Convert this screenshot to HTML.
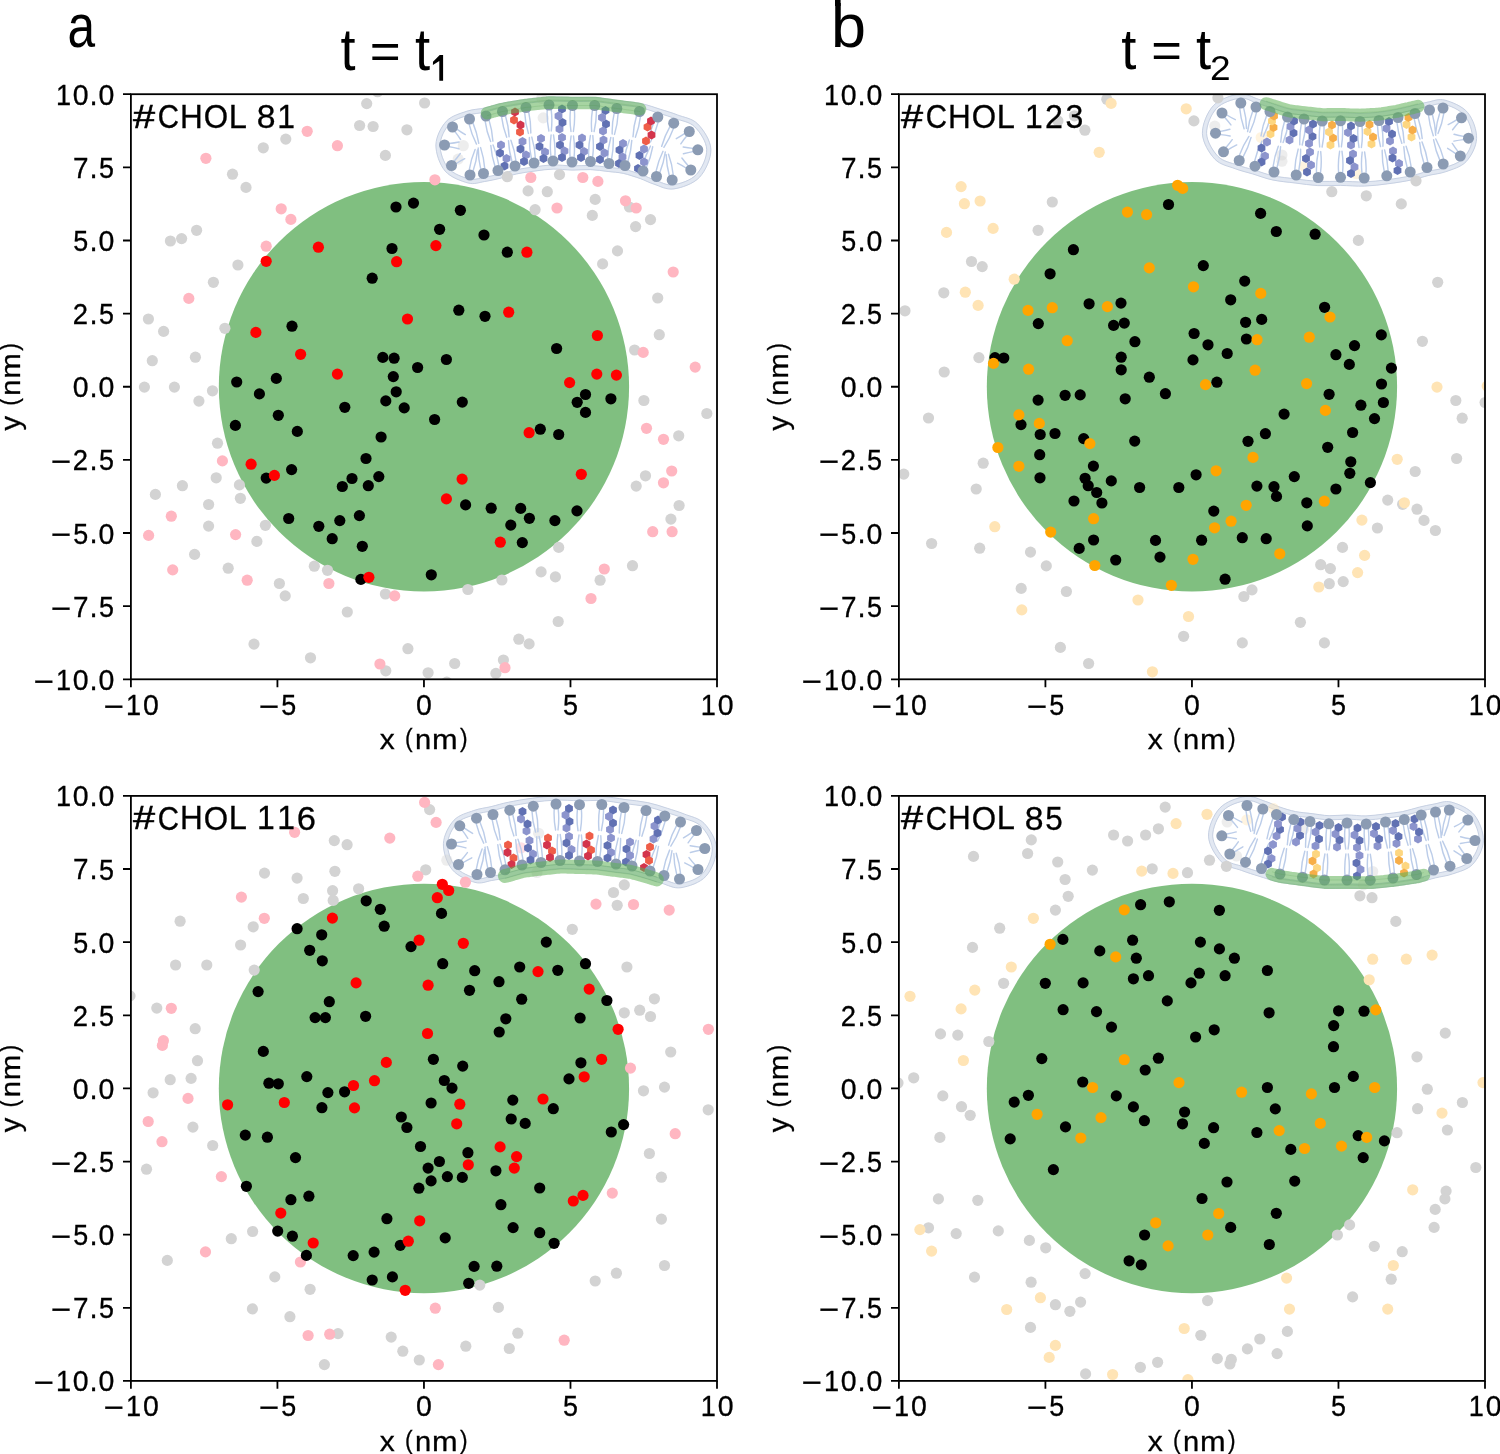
<!DOCTYPE html>
<html><head><meta charset="utf-8"><title>Figure</title>
<style>html,body{margin:0;padding:0;background:#fff;overflow:hidden;}svg{display:block;will-change:transform;}text{font-family:"Liberation Sans",sans-serif;}</style>
</head><body>
<svg width="1500" height="1454" viewBox="0 0 1500 1454">
<rect width="1500" height="1454" fill="#fff"/>
<text transform="matrix(0.49643 0 0 0.61513 67.49 47.20)" font-size="100" fill="#000">a</text><text transform="matrix(0.62930 0 0 0.61004 830.94 47.20)" font-size="100" fill="#000">b</text><rect x="835.0" y="-2" width="5.6" height="8" fill="#000"/><text transform="matrix(0.54039 0 0 0.58383 340.48 69.84)" font-size="100" fill="#000">t</text><text transform="matrix(0.52898 0 0 0.50579 369.72 67.50)" font-size="100" fill="#000">=</text><text transform="matrix(0.54431 0 0 0.58383 414.98 69.84)" font-size="100" fill="#000">t</text><path d="M433.0 61.7 L439.7 55.1 L443.1 55.1 L443.1 80.7 L439.3 80.7 L439.3 60.9 L432.9 64.9 Z" fill="#000"/><text transform="matrix(0.54431 0 0 0.58230 1121.28 69.35)" font-size="100" fill="#000">t</text><text transform="matrix(0.52486 0 0 0.50579 1151.24 66.60)" font-size="100" fill="#000">=</text><text transform="matrix(0.54431 0 0 0.58230 1196.08 69.35)" font-size="100" fill="#000">t</text><text transform="matrix(0.37097 0 0 0.35947 1209.93 79.80)" font-size="100" fill="#000">2</text><clipPath id="clipA"><rect x="130.9" y="94.2" width="586.10" height="585.10"/></clipPath><g clip-path="url(#clipA)"><ellipse cx="423.95" cy="386.75" rx="205.13" ry="204.78" fill="#80bf80"/><path d="M467.6 113.2C473.7 111.1 479.1 111.4 484.7 110.1C490.3 108.9 494.5 107.1 501.3 105.6C508.0 104.2 517.3 102.7 525.2 101.6C533.1 100.5 540.8 99.3 548.7 99.0C556.6 98.7 564.8 99.4 572.6 99.5C580.3 99.6 587.6 99.0 595.1 99.5C602.6 100.0 610.0 101.5 617.6 102.6C625.2 103.6 633.7 104.2 640.7 105.6C647.7 107.1 653.8 109.5 659.7 111.3C665.7 113.2 670.6 114.5 676.6 116.8C682.7 119.2 690.8 119.9 696.2 125.3C701.5 130.7 708.5 140.9 708.8 149.4C709.1 157.8 703.7 169.7 697.9 176.0C692.0 182.2 680.7 185.8 673.5 186.9C666.3 187.9 660.1 183.9 654.7 182.2C649.3 180.5 646.2 178.5 641.0 176.7C635.9 174.9 629.2 172.6 623.7 171.4C618.3 170.2 613.9 170.1 608.3 169.5C602.7 168.8 596.3 167.7 590.3 167.5C584.2 167.3 578.1 168.1 571.9 168.0C565.7 167.9 559.3 166.8 553.2 167.0C547.0 167.2 540.9 168.1 534.8 168.9C528.6 169.8 522.1 170.6 516.2 171.9C510.3 173.1 504.7 175.1 499.4 176.3C494.1 177.6 489.6 178.7 484.5 179.4C479.3 180.2 474.8 182.6 468.5 180.9C462.2 179.3 451.8 175.6 446.7 169.6C441.6 163.6 437.8 152.7 438.0 144.8C438.2 137.0 443.0 127.9 447.9 122.6C452.9 117.3 461.5 115.3 467.6 113.2Z" fill="#fff" fill-opacity="0.9" stroke="#e2e8f2" stroke-width="4.6"/><path d="M468.3 115.2C474.2 113.2 479.6 113.4 485.1 112.2C490.7 110.9 495.0 109.1 501.7 107.7C508.4 106.3 517.6 104.7 525.5 103.6C533.3 102.5 541.0 101.4 548.8 101.1C556.7 100.8 564.9 101.5 572.5 101.6C580.2 101.7 587.5 101.1 595.0 101.6C602.4 102.1 609.8 103.6 617.3 104.6C624.9 105.6 633.3 106.2 640.3 107.7C647.2 109.1 653.2 111.5 659.1 113.3C665.0 115.2 669.8 116.5 675.7 118.7C681.7 121.0 689.4 121.6 694.6 126.7C699.8 131.8 706.4 141.5 706.7 149.5C707.0 157.4 701.9 168.7 696.3 174.6C690.7 180.5 679.9 183.9 673.1 184.8C666.3 185.7 660.6 181.9 655.4 180.2C650.1 178.5 646.9 176.5 641.7 174.7C636.5 172.9 629.7 170.5 624.2 169.3C618.6 168.1 614.2 168.0 608.6 167.4C602.9 166.7 596.4 165.6 590.3 165.4C584.2 165.2 578.2 166.0 571.9 165.9C565.7 165.8 559.3 164.7 553.1 164.9C546.9 165.1 540.7 166.0 534.5 166.9C528.3 167.7 521.7 168.6 515.8 169.8C509.9 171.1 504.2 173.0 498.9 174.3C493.6 175.5 489.1 176.6 484.1 177.4C479.1 178.1 475.0 180.4 469.0 178.9C463.1 177.4 453.1 173.9 448.3 168.2C443.5 162.6 439.9 152.2 440.1 144.9C440.3 137.5 444.8 129.0 449.5 124.1C454.1 119.1 462.3 117.2 468.3 115.2Z" fill="none" stroke="#c3cde0" stroke-width="0.9"/><path d="M466.9 111.2C473.2 109.0 478.6 109.4 484.2 108.1C489.9 106.8 494.0 105.0 500.8 103.6C507.6 102.1 516.9 100.6 524.9 99.5C532.9 98.4 540.7 97.3 548.7 96.9C556.6 96.6 564.8 97.3 572.6 97.4C580.4 97.5 587.7 96.9 595.2 97.4C602.8 97.9 610.2 99.4 617.9 100.5C625.5 101.5 634.1 102.1 641.1 103.6C648.2 105.0 654.4 107.4 660.4 109.3C666.5 111.2 671.3 112.5 677.5 114.9C683.7 117.4 692.1 118.2 697.7 123.9C703.3 129.6 710.6 140.4 710.9 149.3C711.2 158.2 705.6 170.7 699.5 177.3C693.3 183.9 681.5 187.8 673.9 188.9C666.3 190.1 659.7 186.0 654.1 184.2C648.5 182.5 645.5 180.5 640.3 178.6C635.2 176.8 628.6 174.6 623.3 173.4C617.9 172.2 613.6 172.2 608.1 171.5C602.6 170.9 596.2 169.8 590.2 169.6C584.1 169.4 578.1 170.2 571.9 170.1C565.7 170.0 559.4 168.9 553.2 169.1C547.1 169.3 541.2 170.2 535.1 171.0C529.0 171.8 522.5 172.7 516.7 173.9C510.8 175.2 505.2 177.1 499.9 178.4C494.6 179.6 490.1 180.7 484.8 181.5C479.5 182.3 474.6 184.7 468.0 183.0C461.4 181.2 450.4 177.3 445.1 171.0C439.7 164.6 435.7 153.1 435.9 144.8C436.1 136.5 441.3 126.8 446.4 121.2C451.6 115.6 460.6 113.4 466.9 111.2Z" fill="none" stroke="#c3cde0" stroke-width="0.9"/><circle cx="543.2" cy="117.9" r="5.6" fill="#d3d3d3" fill-opacity="0.42"/><circle cx="463.3" cy="145.7" r="5.6" fill="#d3d3d3" fill-opacity="0.42"/><circle cx="458.2" cy="159.1" r="5.6" fill="#d3d3d3" fill-opacity="0.42"/><circle cx="541.7" cy="98.3" r="5.6" fill="#d3d3d3" fill-opacity="0.42"/><circle cx="377.6" cy="91.7" r="5.6" fill="#d3d3d3"/><circle cx="366.7" cy="103.6" r="5.6" fill="#d3d3d3"/><circle cx="424.6" cy="103.0" r="5.6" fill="#d3d3d3"/><circle cx="359.6" cy="125.5" r="5.6" fill="#d3d3d3"/><circle cx="373.1" cy="126.5" r="5.6" fill="#d3d3d3"/><circle cx="406.9" cy="129.8" r="5.6" fill="#d3d3d3"/><circle cx="285.8" cy="139.1" r="5.6" fill="#d3d3d3"/><circle cx="263.3" cy="147.8" r="5.6" fill="#d3d3d3"/><circle cx="385.4" cy="155.4" r="5.6" fill="#d3d3d3"/><circle cx="232.5" cy="174.2" r="5.6" fill="#d3d3d3"/><circle cx="246.0" cy="187.4" r="5.6" fill="#d3d3d3"/><circle cx="196.6" cy="230.3" r="5.6" fill="#d3d3d3"/><circle cx="181.6" cy="238.6" r="5.6" fill="#d3d3d3"/><circle cx="170.4" cy="241.0" r="5.6" fill="#d3d3d3"/><circle cx="237.9" cy="265.0" r="5.6" fill="#d3d3d3"/><circle cx="213.4" cy="282.3" r="5.6" fill="#d3d3d3"/><circle cx="148.4" cy="319.0" r="5.6" fill="#d3d3d3"/><circle cx="163.6" cy="331.4" r="5.6" fill="#d3d3d3"/><circle cx="224.9" cy="328.3" r="5.6" fill="#d3d3d3"/><circle cx="152.3" cy="360.7" r="5.6" fill="#d3d3d3"/><circle cx="195.4" cy="357.2" r="5.6" fill="#d3d3d3"/><circle cx="144.4" cy="387.1" r="5.6" fill="#d3d3d3"/><circle cx="174.4" cy="387.1" r="5.6" fill="#d3d3d3"/><circle cx="507.3" cy="176.7" r="5.6" fill="#d3d3d3"/><circle cx="559.5" cy="174.6" r="5.6" fill="#d3d3d3"/><circle cx="528.1" cy="190.9" r="5.6" fill="#d3d3d3"/><circle cx="547.3" cy="191.7" r="5.6" fill="#d3d3d3"/><circle cx="595.2" cy="199.4" r="5.6" fill="#d3d3d3"/><circle cx="535.1" cy="209.7" r="5.6" fill="#d3d3d3"/><circle cx="592.3" cy="215.4" r="5.6" fill="#d3d3d3"/><circle cx="629.4" cy="207.0" r="5.6" fill="#d3d3d3"/><circle cx="650.5" cy="219.6" r="5.6" fill="#d3d3d3"/><circle cx="635.6" cy="226.6" r="5.6" fill="#d3d3d3"/><circle cx="617.5" cy="250.9" r="5.6" fill="#d3d3d3"/><circle cx="602.6" cy="263.9" r="5.6" fill="#d3d3d3"/><circle cx="657.7" cy="298.0" r="5.6" fill="#d3d3d3"/><circle cx="659.3" cy="334.7" r="5.6" fill="#d3d3d3"/><circle cx="634.6" cy="350.0" r="5.6" fill="#d3d3d3"/><circle cx="212.5" cy="390.8" r="5.6" fill="#d3d3d3"/><circle cx="198.9" cy="401.1" r="5.6" fill="#d3d3d3"/><circle cx="217.5" cy="443.2" r="5.6" fill="#d3d3d3"/><circle cx="216.2" cy="477.8" r="5.6" fill="#d3d3d3"/><circle cx="182.4" cy="485.7" r="5.6" fill="#d3d3d3"/><circle cx="155.4" cy="494.4" r="5.6" fill="#d3d3d3"/><circle cx="239.4" cy="484.9" r="5.6" fill="#d3d3d3"/><circle cx="240.4" cy="498.3" r="5.6" fill="#d3d3d3"/><circle cx="208.6" cy="504.5" r="5.6" fill="#d3d3d3"/><circle cx="208.6" cy="526.1" r="5.6" fill="#d3d3d3"/><circle cx="265.4" cy="525.3" r="5.6" fill="#d3d3d3"/><circle cx="256.9" cy="541.4" r="5.6" fill="#d3d3d3"/><circle cx="194.6" cy="554.4" r="5.6" fill="#d3d3d3"/><circle cx="228.2" cy="568.2" r="5.6" fill="#d3d3d3"/><circle cx="314.3" cy="566.2" r="5.6" fill="#d3d3d3"/><circle cx="327.5" cy="570.3" r="5.6" fill="#d3d3d3"/><circle cx="279.4" cy="583.5" r="5.6" fill="#d3d3d3"/><circle cx="285.2" cy="595.9" r="5.6" fill="#d3d3d3"/><circle cx="385.4" cy="594.0" r="5.6" fill="#d3d3d3"/><circle cx="347.3" cy="612.0" r="5.6" fill="#d3d3d3"/><circle cx="254.0" cy="644.1" r="5.6" fill="#d3d3d3"/><circle cx="310.5" cy="657.8" r="5.6" fill="#d3d3d3"/><circle cx="407.9" cy="648.7" r="5.6" fill="#d3d3d3"/><circle cx="385.8" cy="670.8" r="5.6" fill="#d3d3d3"/><circle cx="428.1" cy="672.8" r="5.6" fill="#d3d3d3"/><circle cx="643.9" cy="400.5" r="5.6" fill="#d3d3d3"/><circle cx="706.8" cy="413.5" r="5.6" fill="#d3d3d3"/><circle cx="678.7" cy="435.8" r="5.6" fill="#d3d3d3"/><circle cx="645.5" cy="475.8" r="5.6" fill="#d3d3d3"/><circle cx="636.2" cy="486.1" r="5.6" fill="#d3d3d3"/><circle cx="679.1" cy="505.5" r="5.6" fill="#d3d3d3"/><circle cx="670.9" cy="519.1" r="5.6" fill="#d3d3d3"/><circle cx="558.7" cy="547.4" r="5.6" fill="#d3d3d3"/><circle cx="541.1" cy="571.9" r="5.6" fill="#d3d3d3"/><circle cx="555.4" cy="576.9" r="5.6" fill="#d3d3d3"/><circle cx="501.9" cy="580.0" r="5.6" fill="#d3d3d3"/><circle cx="467.9" cy="589.5" r="5.6" fill="#d3d3d3"/><circle cx="632.5" cy="565.7" r="5.6" fill="#d3d3d3"/><circle cx="600.1" cy="580.2" r="5.6" fill="#d3d3d3"/><circle cx="558.2" cy="621.5" r="5.6" fill="#d3d3d3"/><circle cx="518.8" cy="639.2" r="5.6" fill="#d3d3d3"/><circle cx="529.1" cy="643.9" r="5.6" fill="#d3d3d3"/><circle cx="454.7" cy="663.5" r="5.6" fill="#d3d3d3"/><circle cx="503.4" cy="660.0" r="5.6" fill="#d3d3d3"/><circle cx="495.9" cy="673.4" r="5.6" fill="#d3d3d3"/><circle cx="446.8" cy="682.1" r="5.6" fill="#d3d3d3"/><circle cx="307.2" cy="131.3" r="5.6" fill="#ffb6c1"/><circle cx="337.4" cy="145.7" r="5.6" fill="#ffb6c1"/><circle cx="205.9" cy="158.3" r="5.6" fill="#ffb6c1"/><circle cx="281.2" cy="208.8" r="5.6" fill="#ffb6c1"/><circle cx="290.9" cy="219.4" r="5.6" fill="#ffb6c1"/><circle cx="266.2" cy="246.2" r="5.6" fill="#ffb6c1"/><circle cx="188.8" cy="298.4" r="5.6" fill="#ffb6c1"/><circle cx="434.9" cy="179.8" r="5.6" fill="#ffb6c1"/><circle cx="530.8" cy="177.5" r="5.6" fill="#ffb6c1"/><circle cx="582.8" cy="177.5" r="5.6" fill="#ffb6c1"/><circle cx="597.9" cy="181.4" r="5.6" fill="#ffb6c1"/><circle cx="625.5" cy="200.8" r="5.6" fill="#ffb6c1"/><circle cx="636.2" cy="208.0" r="5.6" fill="#ffb6c1"/><circle cx="557.0" cy="208.0" r="5.6" fill="#ffb6c1"/><circle cx="673.2" cy="272.0" r="5.6" fill="#ffb6c1"/><circle cx="643.2" cy="352.4" r="5.6" fill="#ffb6c1"/><circle cx="695.2" cy="367.1" r="5.6" fill="#ffb6c1"/><circle cx="222.4" cy="460.9" r="5.6" fill="#ffb6c1"/><circle cx="171.3" cy="516.2" r="5.6" fill="#ffb6c1"/><circle cx="148.6" cy="535.4" r="5.6" fill="#ffb6c1"/><circle cx="235.6" cy="534.6" r="5.6" fill="#ffb6c1"/><circle cx="172.7" cy="569.9" r="5.6" fill="#ffb6c1"/><circle cx="247.2" cy="580.2" r="5.6" fill="#ffb6c1"/><circle cx="328.9" cy="583.5" r="5.6" fill="#ffb6c1"/><circle cx="394.7" cy="595.9" r="5.6" fill="#ffb6c1"/><circle cx="379.9" cy="664.0" r="5.6" fill="#ffb6c1"/><circle cx="646.5" cy="428.3" r="5.6" fill="#ffb6c1"/><circle cx="663.5" cy="439.3" r="5.6" fill="#ffb6c1"/><circle cx="671.7" cy="471.0" r="5.6" fill="#ffb6c1"/><circle cx="663.5" cy="482.8" r="5.6" fill="#ffb6c1"/><circle cx="652.7" cy="531.7" r="5.6" fill="#ffb6c1"/><circle cx="672.1" cy="531.7" r="5.6" fill="#ffb6c1"/><circle cx="604.3" cy="569.0" r="5.6" fill="#ffb6c1"/><circle cx="591.0" cy="598.5" r="5.6" fill="#ffb6c1"/><circle cx="505.0" cy="667.7" r="5.6" fill="#ffb6c1"/><circle cx="396.0" cy="207.0" r="5.6" fill="#000000"/><circle cx="413.5" cy="203.1" r="5.6" fill="#000000"/><circle cx="392.0" cy="248.5" r="5.6" fill="#000000"/><circle cx="372.2" cy="278.2" r="5.6" fill="#000000"/><circle cx="292.0" cy="326.2" r="5.6" fill="#000000"/><circle cx="382.8" cy="357.4" r="5.6" fill="#000000"/><circle cx="394.1" cy="358.2" r="5.6" fill="#000000"/><circle cx="417.6" cy="367.5" r="5.6" fill="#000000"/><circle cx="393.3" cy="376.6" r="5.6" fill="#000000"/><circle cx="236.7" cy="382.0" r="5.6" fill="#000000"/><circle cx="276.3" cy="378.4" r="5.6" fill="#000000"/><circle cx="460.4" cy="210.3" r="5.6" fill="#000000"/><circle cx="439.6" cy="229.3" r="5.6" fill="#000000"/><circle cx="484.0" cy="235.0" r="5.6" fill="#000000"/><circle cx="507.3" cy="252.2" r="5.6" fill="#000000"/><circle cx="458.8" cy="310.2" r="5.6" fill="#000000"/><circle cx="485.0" cy="316.3" r="5.6" fill="#000000"/><circle cx="556.6" cy="348.5" r="5.6" fill="#000000"/><circle cx="446.4" cy="359.5" r="5.6" fill="#000000"/><circle cx="259.4" cy="393.9" r="5.6" fill="#000000"/><circle cx="278.3" cy="415.3" r="5.6" fill="#000000"/><circle cx="235.4" cy="425.4" r="5.6" fill="#000000"/><circle cx="297.3" cy="431.4" r="5.6" fill="#000000"/><circle cx="344.8" cy="407.3" r="5.6" fill="#000000"/><circle cx="385.8" cy="400.9" r="5.6" fill="#000000"/><circle cx="396.2" cy="391.8" r="5.6" fill="#000000"/><circle cx="404.2" cy="407.9" r="5.6" fill="#000000"/><circle cx="381.1" cy="437.0" r="5.6" fill="#000000"/><circle cx="366.0" cy="458.5" r="5.6" fill="#000000"/><circle cx="291.6" cy="469.6" r="5.6" fill="#000000"/><circle cx="266.2" cy="478.1" r="5.6" fill="#000000"/><circle cx="352.0" cy="478.5" r="5.6" fill="#000000"/><circle cx="342.3" cy="486.5" r="5.6" fill="#000000"/><circle cx="368.3" cy="485.7" r="5.6" fill="#000000"/><circle cx="378.8" cy="476.6" r="5.6" fill="#000000"/><circle cx="288.7" cy="518.5" r="5.6" fill="#000000"/><circle cx="359.4" cy="515.6" r="5.6" fill="#000000"/><circle cx="339.8" cy="520.6" r="5.6" fill="#000000"/><circle cx="318.8" cy="526.3" r="5.6" fill="#000000"/><circle cx="332.2" cy="538.7" r="5.6" fill="#000000"/><circle cx="362.3" cy="546.3" r="5.6" fill="#000000"/><circle cx="360.9" cy="579.4" r="5.6" fill="#000000"/><circle cx="585.5" cy="394.5" r="5.6" fill="#000000"/><circle cx="577.2" cy="402.3" r="5.6" fill="#000000"/><circle cx="610.9" cy="398.8" r="5.6" fill="#000000"/><circle cx="585.5" cy="412.4" r="5.6" fill="#000000"/><circle cx="462.3" cy="402.1" r="5.6" fill="#000000"/><circle cx="434.6" cy="419.5" r="5.6" fill="#000000"/><circle cx="540.3" cy="429.2" r="5.6" fill="#000000"/><circle cx="558.7" cy="434.5" r="5.6" fill="#000000"/><circle cx="465.6" cy="504.9" r="5.6" fill="#000000"/><circle cx="491.2" cy="508.2" r="5.6" fill="#000000"/><circle cx="520.7" cy="508.4" r="5.6" fill="#000000"/><circle cx="529.4" cy="518.3" r="5.6" fill="#000000"/><circle cx="510.8" cy="525.1" r="5.6" fill="#000000"/><circle cx="554.9" cy="520.6" r="5.6" fill="#000000"/><circle cx="577.0" cy="510.9" r="5.6" fill="#000000"/><circle cx="522.3" cy="542.6" r="5.6" fill="#000000"/><circle cx="431.3" cy="574.8" r="5.6" fill="#000000"/><circle cx="318.4" cy="247.2" r="5.6" fill="#ff0000"/><circle cx="266.2" cy="261.3" r="5.6" fill="#ff0000"/><circle cx="396.6" cy="261.7" r="5.6" fill="#ff0000"/><circle cx="407.5" cy="319.0" r="5.6" fill="#ff0000"/><circle cx="255.9" cy="332.4" r="5.6" fill="#ff0000"/><circle cx="300.6" cy="354.3" r="5.6" fill="#ff0000"/><circle cx="337.4" cy="374.1" r="5.6" fill="#ff0000"/><circle cx="435.9" cy="245.6" r="5.6" fill="#ff0000"/><circle cx="526.9" cy="252.2" r="5.6" fill="#ff0000"/><circle cx="508.7" cy="312.2" r="5.6" fill="#ff0000"/><circle cx="597.4" cy="335.5" r="5.6" fill="#ff0000"/><circle cx="596.8" cy="374.1" r="5.6" fill="#ff0000"/><circle cx="616.4" cy="375.1" r="5.6" fill="#ff0000"/><circle cx="569.6" cy="382.6" r="5.6" fill="#ff0000"/><circle cx="251.1" cy="464.2" r="5.6" fill="#ff0000"/><circle cx="274.4" cy="475.4" r="5.6" fill="#ff0000"/><circle cx="368.9" cy="577.3" r="5.6" fill="#ff0000"/><circle cx="529.1" cy="432.7" r="5.6" fill="#ff0000"/><circle cx="581.3" cy="474.3" r="5.6" fill="#ff0000"/><circle cx="462.1" cy="479.1" r="5.6" fill="#ff0000"/><circle cx="446.4" cy="498.9" r="5.6" fill="#ff0000"/><circle cx="500.3" cy="542.2" r="5.6" fill="#ff0000"/><path d="M473.0 123.1Q476.9 132.3 478.8 143.3M469.2 124.4Q471.4 134.2 476.5 144.1M489.1 120.4Q492.2 130.0 492.9 141.1M485.2 121.3Q486.5 131.3 490.6 141.6M505.5 116.0Q508.5 125.6 509.1 136.7M501.6 116.8Q502.8 126.8 506.7 137.2M528.7 112.2Q530.9 122.0 530.8 133.1M524.7 112.7Q525.2 122.8 528.4 133.4M551.2 109.9Q552.5 119.9 551.3 130.9M547.2 110.1Q546.7 120.1 548.9 131.0M574.4 110.5Q575.2 120.5 573.4 131.5M570.4 110.5Q569.4 120.5 571.0 131.5M596.4 110.6Q596.6 120.7 594.1 131.5M592.4 110.4Q590.8 120.3 591.7 131.4M618.1 113.7Q617.7 123.8 614.5 134.4M614.2 113.2Q611.9 123.0 612.2 134.1M640.4 116.8Q639.3 126.8 635.4 137.2M636.5 116.0Q633.6 125.6 633.0 136.7M658.1 122.4Q655.7 132.1 650.5 142.0M654.3 121.1Q650.2 130.3 648.2 141.2M673.4 128.6Q670.1 138.0 663.9 147.3M669.8 126.9Q664.8 135.6 661.7 146.3M686.7 136.0Q683.7 139.5 680.8 143.8M684.5 133.7Q680.8 136.2 676.3 138.7M692.9 151.6Q688.4 152.4 683.4 153.8M692.7 148.4Q688.2 148.0 683.2 147.0M686.0 168.0Q682.1 165.5 677.5 163.2M688.0 165.5Q685.0 162.2 681.9 158.0M669.3 175.5Q666.6 165.8 666.2 154.7M673.2 174.7Q672.3 164.7 668.5 154.2M656.1 171.1Q658.1 161.3 663.0 151.3M659.9 172.3Q663.7 163.0 665.3 152.0M642.8 165.6Q645.2 155.9 650.4 146.1M646.5 166.9Q650.7 157.8 652.7 146.8M624.1 160.2Q625.4 150.2 629.4 139.9M628.0 161.0Q631.1 151.5 631.8 140.4M607.6 158.3Q607.8 148.3 610.8 137.5M611.6 158.8Q613.6 148.9 613.2 137.8M588.7 156.4Q588.2 146.4 590.4 135.5M592.7 156.6Q594.0 146.6 592.8 135.6M570.1 157.0Q569.3 147.0 571.1 136.0M574.1 157.0Q575.1 147.0 573.5 136.0M550.9 156.1Q549.7 146.1 551.1 135.0M554.9 155.9Q555.5 145.9 553.5 135.0M531.4 158.3Q529.2 148.5 529.4 137.4M535.3 157.8Q534.9 147.7 531.8 137.1M512.0 161.5Q509.1 151.9 508.5 140.8M515.9 160.7Q514.8 150.7 510.9 140.3M494.9 166.1Q491.7 156.6 490.8 145.5M498.8 165.2Q497.3 155.2 493.1 144.9M480.7 168.9Q478.3 159.2 478.2 148.0M484.7 168.2Q484.0 158.2 480.6 147.6M469.3 169.7Q470.8 159.7 475.1 149.5M473.2 170.6Q476.5 161.2 477.5 150.1M454.3 161.0Q457.3 157.7 460.3 153.5M456.3 163.5Q460.2 161.0 464.8 158.7M449.5 143.5Q454.1 143.0 459.1 142.0M449.5 146.7Q453.9 147.4 458.9 148.8M457.2 129.3Q460.9 132.0 465.3 134.6M455.0 131.6Q457.8 135.2 460.6 139.5" fill="none" stroke="#bccde9" stroke-width="1.45" stroke-linecap="round"/><polygon points="523.9,134.2 520.0,136.5 516.1,134.2 516.1,129.8 520.0,127.5 523.9,129.8" fill="#ef5d48"/><polygon points="524.4,127.2 520.5,129.5 516.6,127.2 516.6,122.8 520.5,120.5 524.4,122.8" fill="#d3344c"/><polygon points="517.9,122.2 514.0,124.5 510.1,122.2 510.1,117.8 514.0,115.5 517.9,117.8" fill="#ef5d48"/><polygon points="518.9,114.2 515.0,116.5 511.1,114.2 511.1,109.8 515.0,107.5 518.9,109.8" fill="#d3344c"/><polygon points="563.4,131.2 559.5,133.5 555.6,131.2 555.6,126.8 559.5,124.5 563.4,126.8" fill="#8c94cd"/><polygon points="566.4,124.8 562.5,127.0 558.6,124.8 558.6,120.2 562.5,118.0 566.4,120.2" fill="#6171b3"/><polygon points="562.4,118.2 558.5,120.5 554.6,118.2 554.6,113.8 558.5,111.5 562.4,113.8" fill="#8c94cd"/><polygon points="565.9,111.2 562.0,113.5 558.1,111.2 558.1,106.8 562.0,104.5 565.9,106.8" fill="#6171b3"/><polygon points="606.9,133.2 603.0,135.5 599.1,133.2 599.1,128.8 603.0,126.5 606.9,128.8" fill="#8c94cd"/><polygon points="609.9,126.2 606.0,128.5 602.1,126.2 602.1,121.8 606.0,119.5 609.9,121.8" fill="#6171b3"/><polygon points="605.9,119.8 602.0,122.0 598.1,119.8 598.1,115.2 602.0,113.0 605.9,115.2" fill="#8c94cd"/><polygon points="609.4,112.8 605.5,115.0 601.6,112.8 601.6,108.2 605.5,106.0 609.4,108.2" fill="#6171b3"/><polygon points="649.9,143.2 646.0,145.5 642.1,143.2 642.1,138.8 646.0,136.5 649.9,138.8" fill="#ef5d48"/><polygon points="655.4,137.2 651.5,139.5 647.6,137.2 647.6,132.8 651.5,130.5 655.4,132.8" fill="#d3344c"/><polygon points="651.4,129.2 647.5,131.5 643.6,129.2 643.6,124.8 647.5,122.5 651.4,124.8" fill="#ef5d48"/><polygon points="654.9,123.2 651.0,125.5 647.1,123.2 647.1,118.8 651.0,116.5 654.9,118.8" fill="#d3344c"/><polygon points="504.9,147.2 501.0,149.5 497.1,147.2 497.1,142.8 501.0,140.5 504.9,142.8" fill="#8c94cd"/><polygon points="503.9,155.2 500.0,157.5 496.1,155.2 496.1,150.8 500.0,148.5 503.9,150.8" fill="#6171b3"/><polygon points="510.4,160.8 506.5,163.0 502.6,160.8 502.6,156.2 506.5,154.0 510.4,156.2" fill="#8c94cd"/><polygon points="508.4,168.2 504.5,170.5 500.6,168.2 500.6,163.8 504.5,161.5 508.4,163.8" fill="#6171b3"/><polygon points="526.4,143.8 522.5,146.0 518.6,143.8 518.6,139.2 522.5,137.0 526.4,139.2" fill="#8c94cd"/><polygon points="524.4,151.2 520.5,153.5 516.6,151.2 516.6,146.8 520.5,144.5 524.4,146.8" fill="#6171b3"/><polygon points="529.9,157.2 526.0,159.5 522.1,157.2 522.1,152.8 526.0,150.5 529.9,152.8" fill="#8c94cd"/><polygon points="527.9,163.8 524.0,166.0 520.1,163.8 520.1,159.2 524.0,157.0 527.9,159.2" fill="#6171b3"/><polygon points="544.9,140.8 541.0,143.0 537.1,140.8 537.1,136.2 541.0,134.0 544.9,136.2" fill="#8c94cd"/><polygon points="543.4,148.8 539.5,151.0 535.6,148.8 535.6,144.2 539.5,142.0 543.4,144.2" fill="#6171b3"/><polygon points="548.9,154.2 545.0,156.5 541.1,154.2 541.1,149.8 545.0,147.5 548.9,149.8" fill="#8c94cd"/><polygon points="547.4,160.8 543.5,163.0 539.6,160.8 539.6,156.2 543.5,154.0 547.4,156.2" fill="#6171b3"/><polygon points="565.9,139.8 562.0,142.0 558.1,139.8 558.1,135.2 562.0,133.0 565.9,135.2" fill="#8c94cd"/><polygon points="563.9,147.2 560.0,149.5 556.1,147.2 556.1,142.8 560.0,140.5 563.9,142.8" fill="#6171b3"/><polygon points="568.4,153.2 564.5,155.5 560.6,153.2 560.6,148.8 564.5,146.5 568.4,148.8" fill="#8c94cd"/><polygon points="565.9,159.8 562.0,162.0 558.1,159.8 558.1,155.2 562.0,153.0 565.9,155.2" fill="#6171b3"/><polygon points="585.9,140.2 582.0,142.5 578.1,140.2 578.1,135.8 582.0,133.5 585.9,135.8" fill="#8c94cd"/><polygon points="583.4,147.2 579.5,149.5 575.6,147.2 575.6,142.8 579.5,140.5 583.4,142.8" fill="#6171b3"/><polygon points="587.9,153.8 584.0,156.0 580.1,153.8 580.1,149.2 584.0,147.0 587.9,149.2" fill="#8c94cd"/><polygon points="584.9,159.8 581.0,162.0 577.1,159.8 577.1,155.2 581.0,153.0 584.9,155.2" fill="#6171b3"/><polygon points="607.4,142.2 603.5,144.5 599.6,142.2 599.6,137.8 603.5,135.5 607.4,137.8" fill="#8c94cd"/><polygon points="603.9,148.8 600.0,151.0 596.1,148.8 596.1,144.2 600.0,142.0 603.9,144.2" fill="#6171b3"/><polygon points="608.4,155.2 604.5,157.5 600.6,155.2 600.6,150.8 604.5,148.5 608.4,150.8" fill="#8c94cd"/><polygon points="603.9,161.8 600.0,164.0 596.1,161.8 596.1,157.2 600.0,155.0 603.9,157.2" fill="#6171b3"/><polygon points="626.9,145.8 623.0,148.0 619.1,145.8 619.1,141.2 623.0,139.0 626.9,141.2" fill="#8c94cd"/><polygon points="623.4,152.2 619.5,154.5 615.6,152.2 615.6,147.8 619.5,145.5 623.4,147.8" fill="#6171b3"/><polygon points="626.4,159.2 622.5,161.5 618.6,159.2 618.6,154.8 622.5,152.5 626.4,154.8" fill="#8c94cd"/><polygon points="622.9,165.8 619.0,168.0 615.1,165.8 615.1,161.2 619.0,159.0 622.9,161.2" fill="#6171b3"/><polygon points="647.9,151.2 644.0,153.5 640.1,151.2 640.1,146.8 644.0,144.5 647.9,146.8" fill="#8c94cd"/><polygon points="643.4,157.8 639.5,160.0 635.6,157.8 635.6,153.2 639.5,151.0 643.4,153.2" fill="#6171b3"/><polygon points="647.9,164.2 644.0,166.5 640.1,164.2 640.1,159.8 644.0,157.5 647.9,159.8" fill="#8c94cd"/><polygon points="641.9,170.8 638.0,173.0 634.1,170.8 634.1,166.2 638.0,164.0 641.9,166.2" fill="#6171b3"/><circle cx="469.5" cy="119.0" r="5.5" fill="#8b9bb3"/><circle cx="486.0" cy="116.0" r="5.5" fill="#8b9bb3"/><circle cx="502.5" cy="111.5" r="5.5" fill="#8b9bb3"/><circle cx="526.0" cy="107.5" r="5.5" fill="#8b9bb3"/><circle cx="549.0" cy="105.0" r="5.5" fill="#8b9bb3"/><circle cx="572.5" cy="105.5" r="5.5" fill="#8b9bb3"/><circle cx="594.7" cy="105.5" r="5.5" fill="#8b9bb3"/><circle cx="616.8" cy="108.5" r="5.5" fill="#8b9bb3"/><circle cx="639.5" cy="111.5" r="5.5" fill="#8b9bb3"/><circle cx="657.8" cy="117.0" r="5.5" fill="#8b9bb3"/><circle cx="673.7" cy="123.2" r="5.5" fill="#8b9bb3"/><circle cx="689.3" cy="131.5" r="5.5" fill="#8b9bb3"/><circle cx="697.8" cy="149.8" r="5.5" fill="#8b9bb3"/><circle cx="690.8" cy="170.0" r="5.5" fill="#8b9bb3"/><circle cx="672.2" cy="180.0" r="5.5" fill="#8b9bb3"/><circle cx="656.5" cy="176.5" r="5.5" fill="#8b9bb3"/><circle cx="643.0" cy="171.0" r="5.5" fill="#8b9bb3"/><circle cx="625.0" cy="165.5" r="5.5" fill="#8b9bb3"/><circle cx="609.0" cy="163.5" r="5.5" fill="#8b9bb3"/><circle cx="590.5" cy="161.5" r="5.5" fill="#8b9bb3"/><circle cx="572.0" cy="162.0" r="5.5" fill="#8b9bb3"/><circle cx="553.0" cy="161.0" r="5.5" fill="#8b9bb3"/><circle cx="534.0" cy="163.0" r="5.5" fill="#8b9bb3"/><circle cx="515.0" cy="166.0" r="5.5" fill="#8b9bb3"/><circle cx="498.0" cy="170.5" r="5.5" fill="#8b9bb3"/><circle cx="483.5" cy="173.5" r="5.5" fill="#8b9bb3"/><circle cx="470.0" cy="175.0" r="5.5" fill="#8b9bb3"/><circle cx="451.5" cy="165.5" r="5.5" fill="#8b9bb3"/><circle cx="444.5" cy="145.0" r="5.5" fill="#8b9bb3"/><circle cx="452.5" cy="127.0" r="5.5" fill="#8b9bb3"/><path d="M487.1 113.1 L488.8 112.7 L490.4 112.2 L492.1 111.8 L493.7 111.3 L495.4 110.9 L497.0 110.4 L498.7 110.0 L500.3 109.5 L502.0 109.1 L504.3 108.7 L506.7 108.2 L509.1 107.8 L511.4 107.4 L513.8 107.0 L516.2 106.6 L518.6 106.2 L520.9 105.8 L523.3 105.4 L525.7 105.0 L528.0 104.8 L530.3 104.5 L532.6 104.3 L534.9 104.0 L537.3 103.8 L539.6 103.5 L541.9 103.3 L544.2 103.0 L546.6 102.8 L548.9 102.5 L551.3 102.6 L553.6 102.6 L556.0 102.7 L558.3 102.7 L560.7 102.8 L563.1 102.8 L565.4 102.9 L567.8 102.9 L570.2 103.0 L572.5 103.0 L574.8 103.0 L577.0 103.0 L579.2 103.0 L581.5 103.0 L583.7 103.0 L585.9 103.0 L588.2 103.0 L590.4 103.0 L592.6 103.0 L594.9 103.0 L597.1 103.3 L599.3 103.6 L601.5 103.9 L603.8 104.2 L606.0 104.5 L608.2 104.8 L610.5 105.1 L612.7 105.4 L614.9 105.7 L617.1 106.0 L619.4 106.3 L621.7 106.6 L624.0 106.9 L626.3 107.2 L628.6 107.5 L630.9 107.8 L633.1 108.1 L635.4 108.4 L637.7 108.7 L640.0 109.1" fill="none" stroke="#5fb055" stroke-opacity="0.55" stroke-width="12.6" stroke-linecap="round" stroke-linejoin="round"/><path d="M487.1 113.1 L488.8 112.7 L490.4 112.2 L492.1 111.8 L493.7 111.3 L495.4 110.9 L497.0 110.4 L498.7 110.0 L500.3 109.5 L502.0 109.1 L504.3 108.7 L506.7 108.2 L509.1 107.8 L511.4 107.4 L513.8 107.0 L516.2 106.6 L518.6 106.2 L520.9 105.8 L523.3 105.4 L525.7 105.0 L528.0 104.8 L530.3 104.5 L532.6 104.3 L534.9 104.0 L537.3 103.8 L539.6 103.5 L541.9 103.3 L544.2 103.0 L546.6 102.8 L548.9 102.5 L551.3 102.6 L553.6 102.6 L556.0 102.7 L558.3 102.7 L560.7 102.8 L563.1 102.8 L565.4 102.9 L567.8 102.9 L570.2 103.0 L572.5 103.0 L574.8 103.0 L577.0 103.0 L579.2 103.0 L581.5 103.0 L583.7 103.0 L585.9 103.0 L588.2 103.0 L590.4 103.0 L592.6 103.0 L594.9 103.0 L597.1 103.3 L599.3 103.6 L601.5 103.9 L603.8 104.2 L606.0 104.5 L608.2 104.8 L610.5 105.1 L612.7 105.4 L614.9 105.7 L617.1 106.0 L619.4 106.3 L621.7 106.6 L624.0 106.9 L626.3 107.2 L628.6 107.5 L630.9 107.8 L633.1 108.1 L635.4 108.4 L637.7 108.7 L640.0 109.1" fill="none" stroke="#4f9a4a" stroke-opacity="0.18" stroke-width="1" transform="translate(0 -2.5)"/><path d="M487.1 113.1 L488.8 112.7 L490.4 112.2 L492.1 111.8 L493.7 111.3 L495.4 110.9 L497.0 110.4 L498.7 110.0 L500.3 109.5 L502.0 109.1 L504.3 108.7 L506.7 108.2 L509.1 107.8 L511.4 107.4 L513.8 107.0 L516.2 106.6 L518.6 106.2 L520.9 105.8 L523.3 105.4 L525.7 105.0 L528.0 104.8 L530.3 104.5 L532.6 104.3 L534.9 104.0 L537.3 103.8 L539.6 103.5 L541.9 103.3 L544.2 103.0 L546.6 102.8 L548.9 102.5 L551.3 102.6 L553.6 102.6 L556.0 102.7 L558.3 102.7 L560.7 102.8 L563.1 102.8 L565.4 102.9 L567.8 102.9 L570.2 103.0 L572.5 103.0 L574.8 103.0 L577.0 103.0 L579.2 103.0 L581.5 103.0 L583.7 103.0 L585.9 103.0 L588.2 103.0 L590.4 103.0 L592.6 103.0 L594.9 103.0 L597.1 103.3 L599.3 103.6 L601.5 103.9 L603.8 104.2 L606.0 104.5 L608.2 104.8 L610.5 105.1 L612.7 105.4 L614.9 105.7 L617.1 106.0 L619.4 106.3 L621.7 106.6 L624.0 106.9 L626.3 107.2 L628.6 107.5 L630.9 107.8 L633.1 108.1 L635.4 108.4 L637.7 108.7 L640.0 109.1" fill="none" stroke="#4f9a4a" stroke-opacity="0.18" stroke-width="1" transform="translate(0 2.5)"/></g><rect x="130.9" y="94.2" width="586.10" height="585.10" fill="none" stroke="#000" stroke-width="1.8"/><text transform="matrix(0.34788 0 0 0.31438 103.56 716.59)" font-size="100" fill="#000" stroke="#000" stroke-width="0.91">−</text><text transform="matrix(0.27183 0 0 0.28610 125.93 714.60)" font-size="100" fill="#000" stroke="#000" stroke-width="1.08">1</text><text transform="matrix(0.28462 0 0 0.28843 142.88 714.70)" font-size="100" fill="#000" stroke="#000" stroke-width="1.05">0</text><text transform="matrix(0.34788 0 0 0.31438 258.67 716.59)" font-size="100" fill="#000" stroke="#000" stroke-width="0.91">−</text><text transform="matrix(0.26861 0 0 0.28757 281.15 714.70)" font-size="100" fill="#000" stroke="#000" stroke-width="1.08">5</text><text transform="matrix(0.28462 0 0 0.28843 416.03 714.70)" font-size="100" fill="#000" stroke="#000" stroke-width="1.05">0</text><text transform="matrix(0.26861 0 0 0.28757 562.89 714.70)" font-size="100" fill="#000" stroke="#000" stroke-width="1.08">5</text><text transform="matrix(0.27183 0 0 0.28610 700.72 714.60)" font-size="100" fill="#000" stroke="#000" stroke-width="1.08">1</text><text transform="matrix(0.28462 0 0 0.28843 717.67 714.70)" font-size="100" fill="#000" stroke="#000" stroke-width="1.05">0</text><text transform="matrix(0.34788 0 0 0.31438 33.50 691.69)" font-size="100" fill="#000" stroke="#000" stroke-width="0.91">−</text><text transform="matrix(0.27183 0 0 0.28610 55.88 689.70)" font-size="100" fill="#000" stroke="#000" stroke-width="1.08">1</text><text transform="matrix(0.28462 0 0 0.28843 72.83 689.80)" font-size="100" fill="#000" stroke="#000" stroke-width="1.05">0</text><text transform="matrix(0.29215 0 0 0.31315 89.56 689.70)" font-size="100" fill="#000" stroke="#000" stroke-width="0.99">.</text><text transform="matrix(0.28462 0 0 0.28843 98.59 689.80)" font-size="100" fill="#000" stroke="#000" stroke-width="1.05">0</text><text transform="matrix(0.34788 0 0 0.31438 50.68 618.55)" font-size="100" fill="#000" stroke="#000" stroke-width="0.91">−</text><text transform="matrix(0.27841 0 0 0.28610 72.95 616.56)" font-size="100" fill="#000" stroke="#000" stroke-width="1.06">7</text><text transform="matrix(0.29215 0 0 0.31315 89.56 616.56)" font-size="100" fill="#000" stroke="#000" stroke-width="0.99">.</text><text transform="matrix(0.26861 0 0 0.28757 98.93 616.66)" font-size="100" fill="#000" stroke="#000" stroke-width="1.08">5</text><text transform="matrix(0.34788 0 0 0.31438 50.68 545.42)" font-size="100" fill="#000" stroke="#000" stroke-width="0.91">−</text><text transform="matrix(0.26861 0 0 0.28757 73.17 543.53)" font-size="100" fill="#000" stroke="#000" stroke-width="1.08">5</text><text transform="matrix(0.29215 0 0 0.31315 89.56 543.42)" font-size="100" fill="#000" stroke="#000" stroke-width="0.99">.</text><text transform="matrix(0.28462 0 0 0.28843 98.59 543.53)" font-size="100" fill="#000" stroke="#000" stroke-width="1.05">0</text><text transform="matrix(0.34788 0 0 0.31438 50.68 472.28)" font-size="100" fill="#000" stroke="#000" stroke-width="0.91">−</text><text transform="matrix(0.27434 0 0 0.28699 72.76 470.29)" font-size="100" fill="#000" stroke="#000" stroke-width="1.07">2</text><text transform="matrix(0.29215 0 0 0.31315 89.56 470.29)" font-size="100" fill="#000" stroke="#000" stroke-width="0.99">.</text><text transform="matrix(0.26861 0 0 0.28757 98.93 470.39)" font-size="100" fill="#000" stroke="#000" stroke-width="1.08">5</text><text transform="matrix(0.28462 0 0 0.28843 72.83 397.25)" font-size="100" fill="#000" stroke="#000" stroke-width="1.05">0</text><text transform="matrix(0.29215 0 0 0.31315 89.56 397.15)" font-size="100" fill="#000" stroke="#000" stroke-width="0.99">.</text><text transform="matrix(0.28462 0 0 0.28843 98.59 397.25)" font-size="100" fill="#000" stroke="#000" stroke-width="1.05">0</text><text transform="matrix(0.27434 0 0 0.28699 72.76 324.01)" font-size="100" fill="#000" stroke="#000" stroke-width="1.07">2</text><text transform="matrix(0.29215 0 0 0.31315 89.56 324.01)" font-size="100" fill="#000" stroke="#000" stroke-width="0.99">.</text><text transform="matrix(0.26861 0 0 0.28757 98.93 324.11)" font-size="100" fill="#000" stroke="#000" stroke-width="1.08">5</text><text transform="matrix(0.26861 0 0 0.28757 73.17 250.98)" font-size="100" fill="#000" stroke="#000" stroke-width="1.08">5</text><text transform="matrix(0.29215 0 0 0.31315 89.56 250.88)" font-size="100" fill="#000" stroke="#000" stroke-width="0.99">.</text><text transform="matrix(0.28462 0 0 0.28843 98.59 250.98)" font-size="100" fill="#000" stroke="#000" stroke-width="1.05">0</text><text transform="matrix(0.27841 0 0 0.28610 72.95 177.74)" font-size="100" fill="#000" stroke="#000" stroke-width="1.06">7</text><text transform="matrix(0.29215 0 0 0.31315 89.56 177.74)" font-size="100" fill="#000" stroke="#000" stroke-width="0.99">.</text><text transform="matrix(0.26861 0 0 0.28757 98.93 177.84)" font-size="100" fill="#000" stroke="#000" stroke-width="1.08">5</text><text transform="matrix(0.27183 0 0 0.28610 55.88 104.60)" font-size="100" fill="#000" stroke="#000" stroke-width="1.08">1</text><text transform="matrix(0.28462 0 0 0.28843 72.83 104.70)" font-size="100" fill="#000" stroke="#000" stroke-width="1.05">0</text><text transform="matrix(0.29215 0 0 0.31315 89.56 104.60)" font-size="100" fill="#000" stroke="#000" stroke-width="0.99">.</text><text transform="matrix(0.28462 0 0 0.28843 98.59 104.70)" font-size="100" fill="#000" stroke="#000" stroke-width="1.05">0</text><path d="M130.90 679.30v7.9 M277.43 679.30v7.9 M423.95 679.30v7.9 M570.48 679.30v7.9 M717.00 679.30v7.9 M130.90 679.30h-7.9 M130.90 606.16h-7.9 M130.90 533.02h-7.9 M130.90 459.89h-7.9 M130.90 386.75h-7.9 M130.90 313.61h-7.9 M130.90 240.48h-7.9 M130.90 167.34h-7.9 M130.90 94.20h-7.9" stroke="#000" stroke-width="1.8" fill="none"/><text transform="matrix(0.29951 0 0 0.27948 379.87 749.00)" font-size="100" fill="#000" stroke="#000" stroke-width="1.04">x</text><text transform="matrix(0.22823 0 0 0.25811 404.90 747.22)" font-size="100" fill="#000" stroke="#000" stroke-width="1.23">(</text><text transform="matrix(0.29110 0 0 0.28103 415.04 749.00)" font-size="100" fill="#000" stroke="#000" stroke-width="1.05">n</text><text transform="matrix(0.30763 0 0 0.28103 432.05 749.00)" font-size="100" fill="#000" stroke="#000" stroke-width="1.02">m</text><text transform="matrix(0.22823 0 0 0.25811 459.97 747.22)" font-size="100" fill="#000" stroke="#000" stroke-width="1.23">)</text><g transform="translate(20.00 386.75) rotate(-90)"><text transform="matrix(0.28995 0 0 0.27699 -43.79 -0.13)" font-size="100" fill="#000" stroke="#000" stroke-width="1.06">y</text><text transform="matrix(0.22823 0 0 0.25811 -19.05 -1.78)" font-size="100" fill="#000" stroke="#000" stroke-width="1.23">(</text><text transform="matrix(0.29110 0 0 0.28103 -8.91 0.00)" font-size="100" fill="#000" stroke="#000" stroke-width="1.05">n</text><text transform="matrix(0.30763 0 0 0.28103 8.10 0.00)" font-size="100" fill="#000" stroke="#000" stroke-width="1.02">m</text><text transform="matrix(0.22823 0 0 0.25811 36.02 -1.78)" font-size="100" fill="#000" stroke="#000" stroke-width="1.23">)</text></g><text transform="matrix(0.39653 0 0 0.33261 133.07 127.70)" font-size="100" fill="#000" stroke="#000" stroke-width="1.65">#</text><text transform="matrix(0.29427 0 0 0.33864 157.65 127.82)" font-size="100" fill="#000" stroke="#000" stroke-width="0.95">C</text><text transform="matrix(0.31534 0 0 0.33590 180.02 127.70)" font-size="100" fill="#000" stroke="#000" stroke-width="0.92">H</text><text transform="matrix(0.31337 0 0 0.33864 203.63 127.82)" font-size="100" fill="#000" stroke="#000" stroke-width="0.92">O</text><text transform="matrix(0.32613 0 0 0.33590 228.72 127.70)" font-size="100" fill="#000" stroke="#000" stroke-width="0.91">L</text><text transform="matrix(0.33778 0 0 0.33864 256.70 127.82)" font-size="100" fill="#000" stroke="#000" stroke-width="0.89">8</text><text transform="matrix(0.31915 0 0 0.33590 277.24 127.70)" font-size="100" fill="#000" stroke="#000" stroke-width="0.92">1</text><clipPath id="clipB"><rect x="898.9" y="94.2" width="586.10" height="585.10"/></clipPath><g clip-path="url(#clipB)"><ellipse cx="1191.95" cy="386.75" rx="205.13" ry="204.78" fill="#80bf80"/><path d="M1239.6 96.1C1246.7 95.1 1252.3 99.6 1257.7 101.2C1263.0 102.9 1266.6 104.1 1271.8 105.8C1277.0 107.4 1283.3 109.9 1288.8 111.1C1294.3 112.4 1299.1 112.4 1304.7 113.0C1310.3 113.7 1316.5 114.7 1322.5 115.0C1328.5 115.3 1334.3 114.7 1340.6 114.8C1346.8 114.9 1353.7 115.5 1360.0 115.5C1366.3 115.5 1372.2 115.2 1378.4 114.5C1384.5 113.9 1391.0 112.8 1396.9 111.6C1402.7 110.5 1408.4 108.9 1413.6 107.7C1418.9 106.4 1423.2 105.0 1428.3 104.1C1433.5 103.2 1438.1 100.5 1444.4 102.2C1450.7 103.8 1461.1 107.9 1466.1 113.9C1471.1 120.0 1474.7 130.7 1474.5 138.4C1474.2 146.1 1469.5 155.0 1464.6 160.2C1459.7 165.4 1451.2 167.5 1445.2 169.7C1439.1 171.9 1434.0 172.0 1428.4 173.3C1422.8 174.7 1418.2 176.5 1411.4 177.9C1404.6 179.3 1395.4 180.7 1387.6 181.7C1379.7 182.8 1372.3 183.7 1364.4 184.0C1356.5 184.3 1348.2 183.4 1340.4 183.3C1332.7 183.2 1325.4 183.9 1317.9 183.5C1310.4 183.1 1303.0 181.9 1295.5 181.0C1287.9 180.0 1279.8 179.4 1272.7 177.9C1265.7 176.4 1259.2 173.7 1253.1 171.9C1247.0 170.1 1242.4 169.2 1236.3 166.9C1230.2 164.5 1221.8 163.4 1216.5 157.9C1211.2 152.3 1204.8 142.1 1204.5 133.6C1204.2 125.2 1209.1 113.3 1214.9 107.1C1220.8 100.8 1232.5 97.1 1239.6 96.1Z" fill="#fff" fill-opacity="0.9" stroke="#e2e8f2" stroke-width="4.6"/><path d="M1239.9 98.2C1246.7 97.3 1251.9 101.7 1257.1 103.3C1262.3 104.9 1266.0 106.1 1271.2 107.8C1276.4 109.4 1282.8 112.0 1288.3 113.2C1293.9 114.4 1298.8 114.5 1304.4 115.1C1310.1 115.8 1316.4 116.8 1322.4 117.1C1328.4 117.4 1334.3 116.8 1340.6 116.9C1346.8 117.0 1353.6 117.6 1360.0 117.6C1366.3 117.6 1372.4 117.3 1378.6 116.6C1384.8 116.0 1391.3 114.8 1397.3 113.7C1403.2 112.5 1408.8 111.0 1414.1 109.7C1419.3 108.5 1423.8 107.1 1428.7 106.2C1433.7 105.3 1438.0 102.7 1443.9 104.2C1449.9 105.7 1459.7 109.6 1464.5 115.3C1469.2 121.0 1472.6 131.1 1472.4 138.3C1472.2 145.6 1467.7 153.8 1463.1 158.7C1458.4 163.6 1450.3 165.6 1444.5 167.7C1438.6 169.8 1433.5 169.9 1427.9 171.3C1422.3 172.6 1417.8 174.4 1411.0 175.8C1404.2 177.2 1395.1 178.7 1387.3 179.7C1379.5 180.7 1372.1 181.6 1364.3 181.9C1356.5 182.2 1348.2 181.3 1340.5 181.2C1332.7 181.1 1325.5 181.8 1318.0 181.4C1310.5 181.0 1303.2 179.8 1295.7 178.9C1288.2 177.9 1280.2 177.3 1273.2 175.8C1266.2 174.3 1259.8 171.7 1253.8 169.9C1247.8 168.1 1243.1 167.2 1237.2 165.0C1231.2 162.7 1223.2 161.7 1218.1 156.5C1213.0 151.3 1206.9 141.6 1206.6 133.5C1206.3 125.5 1211.0 114.3 1216.5 108.4C1222.1 102.5 1233.2 99.0 1239.9 98.2Z" fill="none" stroke="#c3cde0" stroke-width="0.9"/><path d="M1239.2 94.0C1246.7 93.0 1252.7 97.6 1258.3 99.2C1263.8 100.8 1267.3 102.1 1272.5 103.8C1277.6 105.4 1283.8 107.9 1289.2 109.1C1294.7 110.3 1299.4 110.3 1304.9 111.0C1310.5 111.6 1316.7 112.6 1322.6 112.9C1328.5 113.2 1334.4 112.6 1340.6 112.7C1346.8 112.8 1353.7 113.4 1359.9 113.4C1366.2 113.4 1372.1 113.1 1378.2 112.4C1384.2 111.8 1390.6 110.7 1396.5 109.5C1402.3 108.4 1407.9 106.9 1413.1 105.6C1418.4 104.4 1422.6 103.0 1427.9 102.1C1433.2 101.1 1438.3 98.4 1444.9 100.1C1451.5 101.9 1462.4 106.2 1467.7 112.6C1473.0 119.0 1476.9 130.3 1476.6 138.5C1476.3 146.6 1471.2 156.1 1466.1 161.7C1461.0 167.2 1452.0 169.4 1445.8 171.7C1439.6 173.9 1434.6 174.0 1428.9 175.4C1423.2 176.8 1418.7 178.5 1411.8 179.9C1405.0 181.3 1395.7 182.8 1387.8 183.8C1380.0 184.9 1372.4 185.8 1364.5 186.1C1356.6 186.4 1348.2 185.5 1340.4 185.4C1332.6 185.3 1325.3 186.0 1317.8 185.6C1310.2 185.2 1302.8 184.0 1295.2 183.0C1287.6 182.1 1279.4 181.4 1272.3 179.9C1265.2 178.4 1258.6 175.7 1252.5 173.9C1246.3 172.0 1241.7 171.2 1235.4 168.8C1229.2 166.3 1220.4 165.1 1214.9 159.2C1209.4 153.4 1202.7 142.6 1202.4 133.7C1202.1 124.8 1207.2 112.3 1213.3 105.7C1219.4 99.1 1231.7 95.1 1239.2 94.0Z" fill="none" stroke="#c3cde0" stroke-width="0.9"/><circle cx="1214.8" cy="126.1" r="5.6" fill="#d3d3d3" fill-opacity="0.42"/><circle cx="1281.9" cy="155.0" r="5.6" fill="#d3d3d3" fill-opacity="0.42"/><circle cx="1281.9" cy="161.2" r="5.6" fill="#d3d3d3" fill-opacity="0.42"/><circle cx="1261.2" cy="137.5" r="5.6" fill="#ffe4b5" fill-opacity="0.42"/><circle cx="1304.6" cy="166.3" r="5.6" fill="#ffe4b5" fill-opacity="0.42"/><circle cx="1356.2" cy="173.6" r="5.6" fill="#ffe4b5" fill-opacity="0.42"/><circle cx="1106.8" cy="99.3" r="5.6" fill="#d3d3d3"/><circle cx="1057.9" cy="120.9" r="5.6" fill="#d3d3d3"/><circle cx="1074.4" cy="115.8" r="5.6" fill="#d3d3d3"/><circle cx="1084.9" cy="130.2" r="5.6" fill="#d3d3d3"/><circle cx="1193.9" cy="120.9" r="5.6" fill="#d3d3d3"/><circle cx="1052.3" cy="202.0" r="5.6" fill="#d3d3d3"/><circle cx="1038.1" cy="230.3" r="5.6" fill="#d3d3d3"/><circle cx="971.5" cy="261.5" r="5.6" fill="#d3d3d3"/><circle cx="982.2" cy="266.6" r="5.6" fill="#d3d3d3"/><circle cx="943.8" cy="292.8" r="5.6" fill="#d3d3d3"/><circle cx="905.0" cy="310.8" r="5.6" fill="#d3d3d3"/><circle cx="978.9" cy="357.6" r="5.6" fill="#d3d3d3"/><circle cx="944.2" cy="372.0" r="5.6" fill="#d3d3d3"/><circle cx="1217.9" cy="97.8" r="5.6" fill="#d3d3d3"/><circle cx="1416.0" cy="180.8" r="5.6" fill="#d3d3d3"/><circle cx="1331.8" cy="191.7" r="5.6" fill="#d3d3d3"/><circle cx="1366.3" cy="195.8" r="5.6" fill="#d3d3d3"/><circle cx="1401.3" cy="203.9" r="5.6" fill="#d3d3d3"/><circle cx="1358.4" cy="240.4" r="5.6" fill="#d3d3d3"/><circle cx="1437.7" cy="282.3" r="5.6" fill="#d3d3d3"/><circle cx="1422.4" cy="341.3" r="5.6" fill="#d3d3d3"/><circle cx="928.5" cy="418.0" r="5.6" fill="#d3d3d3"/><circle cx="903.8" cy="474.1" r="5.6" fill="#d3d3d3"/><circle cx="983.2" cy="463.2" r="5.6" fill="#d3d3d3"/><circle cx="976.2" cy="489.0" r="5.6" fill="#d3d3d3"/><circle cx="931.6" cy="543.5" r="5.6" fill="#d3d3d3"/><circle cx="979.7" cy="548.2" r="5.6" fill="#d3d3d3"/><circle cx="1030.5" cy="552.1" r="5.6" fill="#d3d3d3"/><circle cx="1046.3" cy="565.9" r="5.6" fill="#d3d3d3"/><circle cx="1021.2" cy="588.4" r="5.6" fill="#d3d3d3"/><circle cx="1066.4" cy="591.5" r="5.6" fill="#d3d3d3"/><circle cx="1060.4" cy="647.4" r="5.6" fill="#d3d3d3"/><circle cx="1088.6" cy="663.5" r="5.6" fill="#d3d3d3"/><circle cx="1183.6" cy="636.3" r="5.6" fill="#d3d3d3"/><circle cx="1455.8" cy="400.5" r="5.6" fill="#d3d3d3"/><circle cx="1462.2" cy="418.2" r="5.6" fill="#d3d3d3"/><circle cx="1485.1" cy="402.5" r="5.6" fill="#d3d3d3"/><circle cx="1456.6" cy="458.5" r="5.6" fill="#d3d3d3"/><circle cx="1415.2" cy="471.5" r="5.6" fill="#d3d3d3"/><circle cx="1387.7" cy="500.1" r="5.6" fill="#d3d3d3"/><circle cx="1402.6" cy="504.3" r="5.6" fill="#d3d3d3"/><circle cx="1417.0" cy="509.2" r="5.6" fill="#d3d3d3"/><circle cx="1424.0" cy="520.4" r="5.6" fill="#d3d3d3"/><circle cx="1435.4" cy="530.5" r="5.6" fill="#d3d3d3"/><circle cx="1377.4" cy="528.0" r="5.6" fill="#d3d3d3"/><circle cx="1342.5" cy="547.4" r="5.6" fill="#d3d3d3"/><circle cx="1320.7" cy="564.7" r="5.6" fill="#d3d3d3"/><circle cx="1330.4" cy="568.6" r="5.6" fill="#d3d3d3"/><circle cx="1329.3" cy="583.7" r="5.6" fill="#d3d3d3"/><circle cx="1343.2" cy="581.6" r="5.6" fill="#d3d3d3"/><circle cx="1252.0" cy="589.9" r="5.6" fill="#d3d3d3"/><circle cx="1243.9" cy="596.5" r="5.6" fill="#d3d3d3"/><circle cx="1300.4" cy="622.3" r="5.6" fill="#d3d3d3"/><circle cx="1242.3" cy="642.9" r="5.6" fill="#d3d3d3"/><circle cx="1324.4" cy="642.9" r="5.6" fill="#d3d3d3"/><circle cx="1111.1" cy="103.4" r="5.6" fill="#ffe4b5"/><circle cx="1186.2" cy="108.8" r="5.6" fill="#ffe4b5"/><circle cx="1099.2" cy="152.3" r="5.6" fill="#ffe4b5"/><circle cx="961.1" cy="186.6" r="5.6" fill="#ffe4b5"/><circle cx="964.4" cy="203.7" r="5.6" fill="#ffe4b5"/><circle cx="980.1" cy="201.0" r="5.6" fill="#ffe4b5"/><circle cx="946.5" cy="232.4" r="5.6" fill="#ffe4b5"/><circle cx="993.1" cy="228.4" r="5.6" fill="#ffe4b5"/><circle cx="1014.2" cy="279.2" r="5.6" fill="#ffe4b5"/><circle cx="965.3" cy="292.2" r="5.6" fill="#ffe4b5"/><circle cx="978.1" cy="305.4" r="5.6" fill="#ffe4b5"/><circle cx="1437.0" cy="387.1" r="5.6" fill="#ffe4b5"/><circle cx="1487.2" cy="386.1" r="5.6" fill="#ffe4b5"/><circle cx="994.8" cy="526.7" r="5.6" fill="#ffe4b5"/><circle cx="1021.8" cy="609.9" r="5.6" fill="#ffe4b5"/><circle cx="1138.0" cy="600.0" r="5.6" fill="#ffe4b5"/><circle cx="1188.5" cy="616.5" r="5.6" fill="#ffe4b5"/><circle cx="1152.4" cy="671.8" r="5.6" fill="#ffe4b5"/><circle cx="1397.2" cy="459.3" r="5.6" fill="#ffe4b5"/><circle cx="1404.4" cy="502.8" r="5.6" fill="#ffe4b5"/><circle cx="1361.9" cy="520.1" r="5.6" fill="#ffe4b5"/><circle cx="1364.6" cy="555.4" r="5.6" fill="#ffe4b5"/><circle cx="1357.6" cy="572.6" r="5.6" fill="#ffe4b5"/><circle cx="1318.8" cy="587.0" r="5.6" fill="#ffe4b5"/><circle cx="1168.5" cy="204.5" r="5.6" fill="#000000"/><circle cx="1073.4" cy="249.7" r="5.6" fill="#000000"/><circle cx="1050.1" cy="273.8" r="5.6" fill="#000000"/><circle cx="1089.1" cy="303.8" r="5.6" fill="#000000"/><circle cx="1121.0" cy="303.1" r="5.6" fill="#000000"/><circle cx="1038.3" cy="323.6" r="5.6" fill="#000000"/><circle cx="1113.6" cy="325.4" r="5.6" fill="#000000"/><circle cx="1124.3" cy="323.1" r="5.6" fill="#000000"/><circle cx="1134.9" cy="341.7" r="5.6" fill="#000000"/><circle cx="1194.1" cy="333.5" r="5.6" fill="#000000"/><circle cx="1121.2" cy="357.2" r="5.6" fill="#000000"/><circle cx="1193.0" cy="359.9" r="5.6" fill="#000000"/><circle cx="995.0" cy="357.6" r="5.6" fill="#000000"/><circle cx="1003.8" cy="358.0" r="5.6" fill="#000000"/><circle cx="1121.2" cy="369.8" r="5.6" fill="#000000"/><circle cx="1149.3" cy="377.2" r="5.6" fill="#000000"/><circle cx="1260.6" cy="213.4" r="5.6" fill="#000000"/><circle cx="1276.3" cy="231.5" r="5.6" fill="#000000"/><circle cx="1315.1" cy="234.2" r="5.6" fill="#000000"/><circle cx="1203.3" cy="265.6" r="5.6" fill="#000000"/><circle cx="1244.7" cy="281.1" r="5.6" fill="#000000"/><circle cx="1230.7" cy="299.8" r="5.6" fill="#000000"/><circle cx="1324.6" cy="307.3" r="5.6" fill="#000000"/><circle cx="1245.6" cy="322.3" r="5.6" fill="#000000"/><circle cx="1261.7" cy="319.4" r="5.6" fill="#000000"/><circle cx="1246.4" cy="339.0" r="5.6" fill="#000000"/><circle cx="1208.0" cy="344.8" r="5.6" fill="#000000"/><circle cx="1227.2" cy="353.5" r="5.6" fill="#000000"/><circle cx="1216.9" cy="382.2" r="5.6" fill="#000000"/><circle cx="1381.3" cy="334.9" r="5.6" fill="#000000"/><circle cx="1354.5" cy="345.6" r="5.6" fill="#000000"/><circle cx="1335.9" cy="354.7" r="5.6" fill="#000000"/><circle cx="1349.3" cy="364.4" r="5.6" fill="#000000"/><circle cx="1391.4" cy="368.1" r="5.6" fill="#000000"/><circle cx="1381.5" cy="384.0" r="5.6" fill="#000000"/><circle cx="1038.1" cy="400.1" r="5.6" fill="#000000"/><circle cx="1065.1" cy="395.3" r="5.6" fill="#000000"/><circle cx="1080.2" cy="394.9" r="5.6" fill="#000000"/><circle cx="1125.2" cy="398.8" r="5.6" fill="#000000"/><circle cx="1165.4" cy="393.7" r="5.6" fill="#000000"/><circle cx="1021.0" cy="424.6" r="5.6" fill="#000000"/><circle cx="1040.2" cy="434.5" r="5.6" fill="#000000"/><circle cx="1055.0" cy="433.5" r="5.6" fill="#000000"/><circle cx="1083.7" cy="438.6" r="5.6" fill="#000000"/><circle cx="1134.7" cy="441.1" r="5.6" fill="#000000"/><circle cx="1039.7" cy="454.7" r="5.6" fill="#000000"/><circle cx="1093.4" cy="466.1" r="5.6" fill="#000000"/><circle cx="1040.0" cy="477.8" r="5.6" fill="#000000"/><circle cx="1085.1" cy="478.3" r="5.6" fill="#000000"/><circle cx="1088.2" cy="485.7" r="5.6" fill="#000000"/><circle cx="1096.7" cy="492.5" r="5.6" fill="#000000"/><circle cx="1111.3" cy="480.9" r="5.6" fill="#000000"/><circle cx="1139.6" cy="487.5" r="5.6" fill="#000000"/><circle cx="1178.8" cy="487.5" r="5.6" fill="#000000"/><circle cx="1196.1" cy="474.8" r="5.6" fill="#000000"/><circle cx="1074.0" cy="501.0" r="5.6" fill="#000000"/><circle cx="1101.9" cy="503.0" r="5.6" fill="#000000"/><circle cx="1093.6" cy="540.0" r="5.6" fill="#000000"/><circle cx="1079.2" cy="548.4" r="5.6" fill="#000000"/><circle cx="1155.5" cy="540.4" r="5.6" fill="#000000"/><circle cx="1160.0" cy="557.1" r="5.6" fill="#000000"/><circle cx="1115.7" cy="560.0" r="5.6" fill="#000000"/><circle cx="1329.1" cy="394.3" r="5.6" fill="#000000"/><circle cx="1360.9" cy="405.2" r="5.6" fill="#000000"/><circle cx="1383.4" cy="402.5" r="5.6" fill="#000000"/><circle cx="1374.5" cy="418.6" r="5.6" fill="#000000"/><circle cx="1284.1" cy="414.1" r="5.6" fill="#000000"/><circle cx="1265.4" cy="433.7" r="5.6" fill="#000000"/><circle cx="1248.0" cy="441.3" r="5.6" fill="#000000"/><circle cx="1352.6" cy="432.5" r="5.6" fill="#000000"/><circle cx="1327.7" cy="447.3" r="5.6" fill="#000000"/><circle cx="1350.8" cy="461.8" r="5.6" fill="#000000"/><circle cx="1349.8" cy="473.3" r="5.6" fill="#000000"/><circle cx="1370.4" cy="482.6" r="5.6" fill="#000000"/><circle cx="1294.3" cy="476.6" r="5.6" fill="#000000"/><circle cx="1256.9" cy="486.1" r="5.6" fill="#000000"/><circle cx="1274.0" cy="486.7" r="5.6" fill="#000000"/><circle cx="1276.5" cy="496.4" r="5.6" fill="#000000"/><circle cx="1335.9" cy="489.0" r="5.6" fill="#000000"/><circle cx="1306.8" cy="502.8" r="5.6" fill="#000000"/><circle cx="1213.8" cy="511.1" r="5.6" fill="#000000"/><circle cx="1307.3" cy="525.9" r="5.6" fill="#000000"/><circle cx="1201.6" cy="540.2" r="5.6" fill="#000000"/><circle cx="1242.3" cy="537.7" r="5.6" fill="#000000"/><circle cx="1266.2" cy="538.7" r="5.6" fill="#000000"/><circle cx="1225.1" cy="579.2" r="5.6" fill="#000000"/><circle cx="1177.6" cy="185.3" r="5.6" fill="#ffa500"/><circle cx="1182.7" cy="188.4" r="5.6" fill="#ffa500"/><circle cx="1127.4" cy="212.1" r="5.6" fill="#ffa500"/><circle cx="1146.6" cy="214.6" r="5.6" fill="#ffa500"/><circle cx="1149.3" cy="267.9" r="5.6" fill="#ffa500"/><circle cx="1193.5" cy="286.8" r="5.6" fill="#ffa500"/><circle cx="1028.0" cy="310.4" r="5.6" fill="#ffa500"/><circle cx="1052.3" cy="307.7" r="5.6" fill="#ffa500"/><circle cx="1107.4" cy="306.6" r="5.6" fill="#ffa500"/><circle cx="1067.2" cy="340.7" r="5.6" fill="#ffa500"/><circle cx="993.5" cy="363.4" r="5.6" fill="#ffa500"/><circle cx="1028.6" cy="369.2" r="5.6" fill="#ffa500"/><circle cx="1260.8" cy="293.4" r="5.6" fill="#ffa500"/><circle cx="1330.0" cy="317.0" r="5.6" fill="#ffa500"/><circle cx="1257.1" cy="339.7" r="5.6" fill="#ffa500"/><circle cx="1309.3" cy="337.2" r="5.6" fill="#ffa500"/><circle cx="1255.1" cy="370.2" r="5.6" fill="#ffa500"/><circle cx="1205.5" cy="384.6" r="5.6" fill="#ffa500"/><circle cx="1306.6" cy="383.6" r="5.6" fill="#ffa500"/><circle cx="1018.9" cy="414.9" r="5.6" fill="#ffa500"/><circle cx="1039.3" cy="423.4" r="5.6" fill="#ffa500"/><circle cx="1089.9" cy="443.6" r="5.6" fill="#ffa500"/><circle cx="997.9" cy="447.5" r="5.6" fill="#ffa500"/><circle cx="1018.9" cy="466.3" r="5.6" fill="#ffa500"/><circle cx="1093.6" cy="518.7" r="5.6" fill="#ffa500"/><circle cx="1050.7" cy="532.1" r="5.6" fill="#ffa500"/><circle cx="1094.8" cy="565.5" r="5.6" fill="#ffa500"/><circle cx="1171.4" cy="585.3" r="5.6" fill="#ffa500"/><circle cx="1193.0" cy="559.3" r="5.6" fill="#ffa500"/><circle cx="1325.4" cy="410.4" r="5.6" fill="#ffa500"/><circle cx="1253.0" cy="457.4" r="5.6" fill="#ffa500"/><circle cx="1216.1" cy="470.8" r="5.6" fill="#ffa500"/><circle cx="1324.4" cy="501.2" r="5.6" fill="#ffa500"/><circle cx="1246.2" cy="505.3" r="5.6" fill="#ffa500"/><circle cx="1231.1" cy="521.2" r="5.6" fill="#ffa500"/><circle cx="1214.6" cy="527.8" r="5.6" fill="#ffa500"/><circle cx="1279.8" cy="553.8" r="5.6" fill="#ffa500"/><path d="M1243.6 107.6Q1246.3 117.3 1246.5 128.4M1239.7 108.3Q1240.6 118.3 1244.1 128.8M1256.5 112.4Q1254.6 122.2 1249.9 132.3M1252.7 111.2Q1249.0 120.6 1247.6 131.6M1270.4 116.9Q1268.2 126.7 1263.3 136.6M1266.6 115.7Q1262.7 124.9 1261.0 135.9M1288.4 122.3Q1287.1 132.3 1283.1 142.6M1284.5 121.5Q1281.4 131.0 1280.7 142.1M1305.4 124.2Q1305.2 134.2 1302.2 145.0M1301.4 123.7Q1299.4 133.6 1299.8 144.7M1324.0 126.1Q1324.4 136.1 1322.1 147.0M1320.0 125.9Q1318.6 135.8 1319.7 146.9M1342.4 125.8Q1343.2 135.8 1341.4 146.8M1338.4 125.8Q1337.4 135.8 1339.0 146.8M1362.0 126.5Q1363.0 136.5 1361.4 147.5M1358.0 126.5Q1357.2 136.5 1359.0 147.5M1381.5 125.3Q1383.5 135.1 1382.9 146.2M1377.5 125.7Q1377.7 135.7 1380.5 146.5M1400.9 122.0Q1403.7 131.7 1404.1 142.8M1397.0 122.8Q1398.0 132.8 1401.8 143.3M1418.1 117.9Q1421.3 127.4 1422.2 138.5M1414.2 118.8Q1415.7 128.8 1419.9 139.1M1432.4 114.5Q1435.2 124.2 1435.7 135.3M1428.5 115.3Q1429.5 125.3 1433.3 135.7M1443.8 113.3Q1442.3 123.3 1438.0 133.5M1439.9 112.4Q1436.6 121.9 1435.7 133.0M1458.7 122.2Q1455.7 125.6 1452.6 129.8M1456.6 119.8Q1452.8 122.2 1448.2 124.6M1463.5 139.6Q1458.9 140.1 1453.9 141.1M1463.6 136.4Q1459.1 135.7 1454.1 134.3M1455.6 153.6Q1452.0 150.9 1447.6 148.3M1457.9 151.4Q1455.1 147.8 1452.3 143.4M1439.7 159.9Q1435.6 150.8 1433.6 139.8M1443.5 158.6Q1441.0 148.9 1435.8 139.0M1423.9 163.1Q1420.6 153.6 1419.7 142.5M1427.8 162.2Q1426.3 152.2 1422.0 141.9M1407.2 167.5Q1404.3 157.9 1403.8 146.8M1411.1 166.7Q1410.0 156.7 1406.1 146.3M1384.2 171.1Q1382.0 161.3 1382.2 150.2M1388.1 170.6Q1387.7 160.6 1384.6 149.9M1362.0 173.1Q1360.8 163.1 1362.2 152.1M1366.0 172.9Q1366.6 162.9 1364.6 152.0M1338.6 172.3Q1337.8 162.3 1339.6 151.3M1342.6 172.3Q1343.6 162.3 1342.0 151.3M1316.5 172.4Q1316.1 162.4 1318.3 151.5M1320.5 172.6Q1321.9 162.7 1320.7 151.6M1294.8 169.8Q1295.2 159.8 1298.2 149.1M1298.8 170.3Q1300.9 160.5 1300.6 149.3M1273.1 166.7Q1274.3 156.7 1278.3 146.3M1277.0 167.5Q1280.0 157.9 1280.6 146.8M1254.7 160.8Q1257.0 151.0 1262.0 141.1M1258.5 162.1Q1262.5 152.9 1264.3 141.9M1239.5 155.1Q1242.8 145.7 1248.9 136.4M1243.1 156.8Q1248.1 148.1 1251.1 137.4M1226.2 147.3Q1229.2 143.9 1232.2 139.7M1228.3 149.7Q1232.1 147.2 1236.7 144.9M1220.4 131.4Q1224.9 130.6 1229.9 129.2M1220.6 134.6Q1225.1 135.0 1230.1 136.0M1226.9 115.0Q1230.7 117.4 1235.3 119.7M1224.8 117.4Q1227.9 120.8 1230.9 124.9" fill="none" stroke="#bccde9" stroke-width="1.45" stroke-linecap="round"/><polygon points="1274.4,136.2 1270.5,138.5 1266.6,136.2 1266.6,131.8 1270.5,129.5 1274.4,131.8" fill="#fdd680"/><polygon points="1277.4,129.8 1273.5,132.0 1269.6,129.8 1269.6,125.2 1273.5,123.0 1277.4,125.2" fill="#f7ae48"/><polygon points="1275.9,123.2 1272.0,125.5 1268.1,123.2 1268.1,118.8 1272.0,116.5 1275.9,118.8" fill="#fdd680"/><polygon points="1277.9,118.2 1274.0,120.5 1270.1,118.2 1270.1,113.8 1274.0,111.5 1277.9,113.8" fill="#f7ae48"/><polygon points="1293.4,142.2 1289.5,144.5 1285.6,142.2 1285.6,137.8 1289.5,135.5 1293.4,137.8" fill="#8c94cd"/><polygon points="1297.4,135.2 1293.5,137.5 1289.6,135.2 1289.6,130.8 1293.5,128.5 1297.4,130.8" fill="#6171b3"/><polygon points="1294.4,128.8 1290.5,131.0 1286.6,128.8 1286.6,124.2 1290.5,122.0 1294.4,124.2" fill="#8c94cd"/><polygon points="1297.9,123.2 1294.0,125.5 1290.1,123.2 1290.1,118.8 1294.0,116.5 1297.9,118.8" fill="#6171b3"/><polygon points="1312.9,145.8 1309.0,148.0 1305.1,145.8 1305.1,141.2 1309.0,139.0 1312.9,141.2" fill="#8c94cd"/><polygon points="1316.4,138.8 1312.5,141.0 1308.6,138.8 1308.6,134.2 1312.5,132.0 1316.4,134.2" fill="#6171b3"/><polygon points="1312.9,132.2 1309.0,134.5 1305.1,132.2 1305.1,127.8 1309.0,125.5 1312.9,127.8" fill="#8c94cd"/><polygon points="1316.9,126.2 1313.0,128.5 1309.1,126.2 1309.1,121.8 1313.0,119.5 1316.9,121.8" fill="#6171b3"/><polygon points="1334.4,147.2 1330.5,149.5 1326.6,147.2 1326.6,142.8 1330.5,140.5 1334.4,142.8" fill="#fdd680"/><polygon points="1336.9,140.2 1333.0,142.5 1329.1,140.2 1329.1,135.8 1333.0,133.5 1336.9,135.8" fill="#f7ae48"/><polygon points="1332.9,134.2 1329.0,136.5 1325.1,134.2 1325.1,129.8 1329.0,127.5 1332.9,129.8" fill="#fdd680"/><polygon points="1335.9,127.2 1332.0,129.5 1328.1,127.2 1328.1,122.8 1332.0,120.5 1335.9,122.8" fill="#f7ae48"/><polygon points="1354.9,147.2 1351.0,149.5 1347.1,147.2 1347.1,142.8 1351.0,140.5 1354.9,142.8" fill="#8c94cd"/><polygon points="1357.4,140.8 1353.5,143.0 1349.6,140.8 1349.6,136.2 1353.5,134.0 1357.4,136.2" fill="#6171b3"/><polygon points="1351.9,134.8 1348.0,137.0 1344.1,134.8 1344.1,130.2 1348.0,128.0 1351.9,130.2" fill="#8c94cd"/><polygon points="1354.9,128.2 1351.0,130.5 1347.1,128.2 1347.1,123.8 1351.0,121.5 1354.9,123.8" fill="#6171b3"/><polygon points="1375.4,146.2 1371.5,148.5 1367.6,146.2 1367.6,141.8 1371.5,139.5 1375.4,141.8" fill="#fdd680"/><polygon points="1376.9,139.2 1373.0,141.5 1369.1,139.2 1369.1,134.8 1373.0,132.5 1376.9,134.8" fill="#f7ae48"/><polygon points="1371.4,133.8 1367.5,136.0 1363.6,133.8 1363.6,129.2 1367.5,127.0 1371.4,129.2" fill="#fdd680"/><polygon points="1373.4,126.8 1369.5,129.0 1365.6,126.8 1365.6,122.2 1369.5,120.0 1373.4,122.2" fill="#f7ae48"/><polygon points="1393.9,143.2 1390.0,145.5 1386.1,143.2 1386.1,138.8 1390.0,136.5 1393.9,138.8" fill="#8c94cd"/><polygon points="1395.9,136.2 1392.0,138.5 1388.1,136.2 1388.1,131.8 1392.0,129.5 1395.9,131.8" fill="#6171b3"/><polygon points="1390.4,130.8 1386.5,133.0 1382.6,130.8 1382.6,126.2 1386.5,124.0 1390.4,126.2" fill="#8c94cd"/><polygon points="1392.9,123.8 1389.0,126.0 1385.1,123.8 1385.1,119.2 1389.0,117.0 1392.9,119.2" fill="#6171b3"/><polygon points="1415.4,139.2 1411.5,141.5 1407.6,139.2 1407.6,134.8 1411.5,132.5 1415.4,134.8" fill="#fdd680"/><polygon points="1416.4,132.2 1412.5,134.5 1408.6,132.2 1408.6,127.8 1412.5,125.5 1416.4,127.8" fill="#f7ae48"/><polygon points="1410.4,126.8 1406.5,129.0 1402.6,126.8 1402.6,122.2 1406.5,120.0 1410.4,122.2" fill="#fdd680"/><polygon points="1412.4,119.8 1408.5,122.0 1404.6,119.8 1404.6,115.2 1408.5,113.0 1412.4,115.2" fill="#f7ae48"/><polygon points="1270.9,144.2 1267.0,146.5 1263.1,144.2 1263.1,139.8 1267.0,137.5 1270.9,139.8" fill="#8c94cd"/><polygon points="1265.4,150.2 1261.5,152.5 1257.6,150.2 1257.6,145.8 1261.5,143.5 1265.4,145.8" fill="#6171b3"/><polygon points="1268.9,158.2 1265.0,160.5 1261.1,158.2 1261.1,153.8 1265.0,151.5 1268.9,153.8" fill="#8c94cd"/><polygon points="1265.4,164.2 1261.5,166.5 1257.6,164.2 1257.6,159.8 1261.5,157.5 1265.4,159.8" fill="#6171b3"/><polygon points="1313.9,154.2 1310.0,156.5 1306.1,154.2 1306.1,149.8 1310.0,147.5 1313.9,149.8" fill="#8c94cd"/><polygon points="1309.9,160.8 1306.0,163.0 1302.1,160.8 1302.1,156.2 1306.0,154.0 1309.9,156.2" fill="#6171b3"/><polygon points="1314.9,167.2 1311.0,169.5 1307.1,167.2 1307.1,162.8 1311.0,160.5 1314.9,162.8" fill="#8c94cd"/><polygon points="1310.9,174.2 1307.0,176.5 1303.1,174.2 1303.1,169.8 1307.0,167.5 1310.9,169.8" fill="#6171b3"/><polygon points="1356.9,156.2 1353.0,158.5 1349.1,156.2 1349.1,151.8 1353.0,149.5 1356.9,151.8" fill="#8c94cd"/><polygon points="1353.9,162.8 1350.0,165.0 1346.1,162.8 1346.1,158.2 1350.0,156.0 1353.9,158.2" fill="#6171b3"/><polygon points="1358.4,169.2 1354.5,171.5 1350.6,169.2 1350.6,164.8 1354.5,162.5 1358.4,164.8" fill="#8c94cd"/><polygon points="1354.9,175.8 1351.0,178.0 1347.1,175.8 1347.1,171.2 1351.0,169.0 1354.9,171.2" fill="#6171b3"/><polygon points="1396.9,153.2 1393.0,155.5 1389.1,153.2 1389.1,148.8 1393.0,146.5 1396.9,148.8" fill="#8c94cd"/><polygon points="1396.4,160.2 1392.5,162.5 1388.6,160.2 1388.6,155.8 1392.5,153.5 1396.4,155.8" fill="#6171b3"/><polygon points="1402.9,165.8 1399.0,168.0 1395.1,165.8 1395.1,161.2 1399.0,159.0 1402.9,161.2" fill="#8c94cd"/><polygon points="1401.4,172.8 1397.5,175.0 1393.6,172.8 1393.6,168.2 1397.5,166.0 1401.4,168.2" fill="#6171b3"/><circle cx="1240.8" cy="103.0" r="5.5" fill="#8b9bb3"/><circle cx="1256.0" cy="107.0" r="5.5" fill="#8b9bb3"/><circle cx="1270.0" cy="111.5" r="5.5" fill="#8b9bb3"/><circle cx="1287.5" cy="117.0" r="5.5" fill="#8b9bb3"/><circle cx="1304.0" cy="119.0" r="5.5" fill="#8b9bb3"/><circle cx="1322.2" cy="121.0" r="5.5" fill="#8b9bb3"/><circle cx="1340.5" cy="120.8" r="5.5" fill="#8b9bb3"/><circle cx="1360.0" cy="121.5" r="5.5" fill="#8b9bb3"/><circle cx="1379.0" cy="120.5" r="5.5" fill="#8b9bb3"/><circle cx="1398.0" cy="117.5" r="5.5" fill="#8b9bb3"/><circle cx="1415.0" cy="113.5" r="5.5" fill="#8b9bb3"/><circle cx="1429.5" cy="110.0" r="5.5" fill="#8b9bb3"/><circle cx="1443.0" cy="108.0" r="5.5" fill="#8b9bb3"/><circle cx="1461.5" cy="117.8" r="5.5" fill="#8b9bb3"/><circle cx="1468.5" cy="138.2" r="5.5" fill="#8b9bb3"/><circle cx="1460.3" cy="156.0" r="5.5" fill="#8b9bb3"/><circle cx="1443.2" cy="164.0" r="5.5" fill="#8b9bb3"/><circle cx="1427.0" cy="167.5" r="5.5" fill="#8b9bb3"/><circle cx="1410.2" cy="172.0" r="5.5" fill="#8b9bb3"/><circle cx="1386.8" cy="175.8" r="5.5" fill="#8b9bb3"/><circle cx="1364.2" cy="178.0" r="5.5" fill="#8b9bb3"/><circle cx="1340.5" cy="177.3" r="5.5" fill="#8b9bb3"/><circle cx="1318.2" cy="177.5" r="5.5" fill="#8b9bb3"/><circle cx="1296.2" cy="175.0" r="5.5" fill="#8b9bb3"/><circle cx="1274.0" cy="172.0" r="5.5" fill="#8b9bb3"/><circle cx="1255.0" cy="166.2" r="5.5" fill="#8b9bb3"/><circle cx="1239.2" cy="160.5" r="5.5" fill="#8b9bb3"/><circle cx="1223.5" cy="151.8" r="5.5" fill="#8b9bb3"/><circle cx="1215.5" cy="133.2" r="5.5" fill="#8b9bb3"/><circle cx="1222.0" cy="113.0" r="5.5" fill="#8b9bb3"/><path d="M1266.2 103.7 L1267.7 104.1 L1269.1 104.6 L1270.5 105.0 L1271.9 105.5 L1273.6 106.0 L1275.3 106.6 L1277.0 107.1 L1278.7 107.6 L1280.4 108.2 L1282.1 108.7 L1283.8 109.2 L1285.5 109.8 L1287.2 110.3 L1288.9 110.8 L1290.4 111.0 L1292.0 111.2 L1293.6 111.4 L1295.2 111.6 L1296.8 111.8 L1298.4 112.0 L1300.0 112.2 L1301.5 112.4 L1303.1 112.6 L1304.7 112.7 L1306.5 112.9 L1308.3 113.1 L1310.1 113.3 L1311.8 113.5 L1313.6 113.7 L1315.4 113.9 L1317.2 114.1 L1319.0 114.3 L1320.7 114.5 L1322.5 114.7 L1324.3 114.7 L1326.1 114.7 L1327.9 114.6 L1329.7 114.6 L1331.5 114.6 L1333.4 114.6 L1335.2 114.6 L1337.0 114.5 L1338.8 114.5 L1340.6 114.5 L1342.5 114.6 L1344.5 114.6 L1346.4 114.7 L1348.3 114.8 L1350.3 114.9 L1352.2 114.9 L1354.1 115.0 L1356.1 115.1 L1358.0 115.1 L1360.0 115.2 L1361.8 115.1 L1363.6 115.0 L1365.5 114.9 L1367.3 114.8 L1369.1 114.7 L1371.0 114.6 L1372.8 114.5 L1374.7 114.4 L1376.5 114.3 L1378.3 114.2 L1380.2 113.9 L1382.0 113.7 L1383.9 113.4 L1385.7 113.1 L1387.6 112.8 L1389.4 112.5 L1391.3 112.2 L1393.1 111.9 L1395.0 111.6 L1396.8 111.3 L1398.5 110.9 L1400.1 110.5 L1401.8 110.1 L1403.5 109.7 L1405.2 109.3 L1406.8 108.9 L1408.5 108.6 L1410.2 108.2 L1411.9 107.8 L1413.5 107.4 L1415.0 107.0 L1416.5 106.7 L1418.0 106.3" fill="none" stroke="#5fb055" stroke-opacity="0.55" stroke-width="13.0" stroke-linecap="round" stroke-linejoin="round"/><path d="M1266.2 103.7 L1267.7 104.1 L1269.1 104.6 L1270.5 105.0 L1271.9 105.5 L1273.6 106.0 L1275.3 106.6 L1277.0 107.1 L1278.7 107.6 L1280.4 108.2 L1282.1 108.7 L1283.8 109.2 L1285.5 109.8 L1287.2 110.3 L1288.9 110.8 L1290.4 111.0 L1292.0 111.2 L1293.6 111.4 L1295.2 111.6 L1296.8 111.8 L1298.4 112.0 L1300.0 112.2 L1301.5 112.4 L1303.1 112.6 L1304.7 112.7 L1306.5 112.9 L1308.3 113.1 L1310.1 113.3 L1311.8 113.5 L1313.6 113.7 L1315.4 113.9 L1317.2 114.1 L1319.0 114.3 L1320.7 114.5 L1322.5 114.7 L1324.3 114.7 L1326.1 114.7 L1327.9 114.6 L1329.7 114.6 L1331.5 114.6 L1333.4 114.6 L1335.2 114.6 L1337.0 114.5 L1338.8 114.5 L1340.6 114.5 L1342.5 114.6 L1344.5 114.6 L1346.4 114.7 L1348.3 114.8 L1350.3 114.9 L1352.2 114.9 L1354.1 115.0 L1356.1 115.1 L1358.0 115.1 L1360.0 115.2 L1361.8 115.1 L1363.6 115.0 L1365.5 114.9 L1367.3 114.8 L1369.1 114.7 L1371.0 114.6 L1372.8 114.5 L1374.7 114.4 L1376.5 114.3 L1378.3 114.2 L1380.2 113.9 L1382.0 113.7 L1383.9 113.4 L1385.7 113.1 L1387.6 112.8 L1389.4 112.5 L1391.3 112.2 L1393.1 111.9 L1395.0 111.6 L1396.8 111.3 L1398.5 110.9 L1400.1 110.5 L1401.8 110.1 L1403.5 109.7 L1405.2 109.3 L1406.8 108.9 L1408.5 108.6 L1410.2 108.2 L1411.9 107.8 L1413.5 107.4 L1415.0 107.0 L1416.5 106.7 L1418.0 106.3" fill="none" stroke="#4f9a4a" stroke-opacity="0.18" stroke-width="1" transform="translate(0 -2.5)"/><path d="M1266.2 103.7 L1267.7 104.1 L1269.1 104.6 L1270.5 105.0 L1271.9 105.5 L1273.6 106.0 L1275.3 106.6 L1277.0 107.1 L1278.7 107.6 L1280.4 108.2 L1282.1 108.7 L1283.8 109.2 L1285.5 109.8 L1287.2 110.3 L1288.9 110.8 L1290.4 111.0 L1292.0 111.2 L1293.6 111.4 L1295.2 111.6 L1296.8 111.8 L1298.4 112.0 L1300.0 112.2 L1301.5 112.4 L1303.1 112.6 L1304.7 112.7 L1306.5 112.9 L1308.3 113.1 L1310.1 113.3 L1311.8 113.5 L1313.6 113.7 L1315.4 113.9 L1317.2 114.1 L1319.0 114.3 L1320.7 114.5 L1322.5 114.7 L1324.3 114.7 L1326.1 114.7 L1327.9 114.6 L1329.7 114.6 L1331.5 114.6 L1333.4 114.6 L1335.2 114.6 L1337.0 114.5 L1338.8 114.5 L1340.6 114.5 L1342.5 114.6 L1344.5 114.6 L1346.4 114.7 L1348.3 114.8 L1350.3 114.9 L1352.2 114.9 L1354.1 115.0 L1356.1 115.1 L1358.0 115.1 L1360.0 115.2 L1361.8 115.1 L1363.6 115.0 L1365.5 114.9 L1367.3 114.8 L1369.1 114.7 L1371.0 114.6 L1372.8 114.5 L1374.7 114.4 L1376.5 114.3 L1378.3 114.2 L1380.2 113.9 L1382.0 113.7 L1383.9 113.4 L1385.7 113.1 L1387.6 112.8 L1389.4 112.5 L1391.3 112.2 L1393.1 111.9 L1395.0 111.6 L1396.8 111.3 L1398.5 110.9 L1400.1 110.5 L1401.8 110.1 L1403.5 109.7 L1405.2 109.3 L1406.8 108.9 L1408.5 108.6 L1410.2 108.2 L1411.9 107.8 L1413.5 107.4 L1415.0 107.0 L1416.5 106.7 L1418.0 106.3" fill="none" stroke="#4f9a4a" stroke-opacity="0.18" stroke-width="1" transform="translate(0 2.5)"/></g><rect x="898.9" y="94.2" width="586.10" height="585.10" fill="none" stroke="#000" stroke-width="1.8"/><text transform="matrix(0.34788 0 0 0.31438 871.56 716.59)" font-size="100" fill="#000" stroke="#000" stroke-width="0.91">−</text><text transform="matrix(0.27183 0 0 0.28610 893.93 714.60)" font-size="100" fill="#000" stroke="#000" stroke-width="1.08">1</text><text transform="matrix(0.28462 0 0 0.28843 910.88 714.70)" font-size="100" fill="#000" stroke="#000" stroke-width="1.05">0</text><text transform="matrix(0.34788 0 0 0.31438 1026.67 716.59)" font-size="100" fill="#000" stroke="#000" stroke-width="0.91">−</text><text transform="matrix(0.26861 0 0 0.28757 1049.15 714.70)" font-size="100" fill="#000" stroke="#000" stroke-width="1.08">5</text><text transform="matrix(0.28462 0 0 0.28843 1184.03 714.70)" font-size="100" fill="#000" stroke="#000" stroke-width="1.05">0</text><text transform="matrix(0.26861 0 0 0.28757 1330.89 714.70)" font-size="100" fill="#000" stroke="#000" stroke-width="1.08">5</text><text transform="matrix(0.27183 0 0 0.28610 1468.72 714.60)" font-size="100" fill="#000" stroke="#000" stroke-width="1.08">1</text><text transform="matrix(0.28462 0 0 0.28843 1485.67 714.70)" font-size="100" fill="#000" stroke="#000" stroke-width="1.05">0</text><text transform="matrix(0.34788 0 0 0.31438 801.50 691.69)" font-size="100" fill="#000" stroke="#000" stroke-width="0.91">−</text><text transform="matrix(0.27183 0 0 0.28610 823.88 689.70)" font-size="100" fill="#000" stroke="#000" stroke-width="1.08">1</text><text transform="matrix(0.28462 0 0 0.28843 840.83 689.80)" font-size="100" fill="#000" stroke="#000" stroke-width="1.05">0</text><text transform="matrix(0.29215 0 0 0.31315 857.56 689.70)" font-size="100" fill="#000" stroke="#000" stroke-width="0.99">.</text><text transform="matrix(0.28462 0 0 0.28843 866.59 689.80)" font-size="100" fill="#000" stroke="#000" stroke-width="1.05">0</text><text transform="matrix(0.34788 0 0 0.31438 818.68 618.55)" font-size="100" fill="#000" stroke="#000" stroke-width="0.91">−</text><text transform="matrix(0.27841 0 0 0.28610 840.95 616.56)" font-size="100" fill="#000" stroke="#000" stroke-width="1.06">7</text><text transform="matrix(0.29215 0 0 0.31315 857.56 616.56)" font-size="100" fill="#000" stroke="#000" stroke-width="0.99">.</text><text transform="matrix(0.26861 0 0 0.28757 866.93 616.66)" font-size="100" fill="#000" stroke="#000" stroke-width="1.08">5</text><text transform="matrix(0.34788 0 0 0.31438 818.68 545.42)" font-size="100" fill="#000" stroke="#000" stroke-width="0.91">−</text><text transform="matrix(0.26861 0 0 0.28757 841.17 543.53)" font-size="100" fill="#000" stroke="#000" stroke-width="1.08">5</text><text transform="matrix(0.29215 0 0 0.31315 857.56 543.42)" font-size="100" fill="#000" stroke="#000" stroke-width="0.99">.</text><text transform="matrix(0.28462 0 0 0.28843 866.59 543.53)" font-size="100" fill="#000" stroke="#000" stroke-width="1.05">0</text><text transform="matrix(0.34788 0 0 0.31438 818.68 472.28)" font-size="100" fill="#000" stroke="#000" stroke-width="0.91">−</text><text transform="matrix(0.27434 0 0 0.28699 840.76 470.29)" font-size="100" fill="#000" stroke="#000" stroke-width="1.07">2</text><text transform="matrix(0.29215 0 0 0.31315 857.56 470.29)" font-size="100" fill="#000" stroke="#000" stroke-width="0.99">.</text><text transform="matrix(0.26861 0 0 0.28757 866.93 470.39)" font-size="100" fill="#000" stroke="#000" stroke-width="1.08">5</text><text transform="matrix(0.28462 0 0 0.28843 840.83 397.25)" font-size="100" fill="#000" stroke="#000" stroke-width="1.05">0</text><text transform="matrix(0.29215 0 0 0.31315 857.56 397.15)" font-size="100" fill="#000" stroke="#000" stroke-width="0.99">.</text><text transform="matrix(0.28462 0 0 0.28843 866.59 397.25)" font-size="100" fill="#000" stroke="#000" stroke-width="1.05">0</text><text transform="matrix(0.27434 0 0 0.28699 840.76 324.01)" font-size="100" fill="#000" stroke="#000" stroke-width="1.07">2</text><text transform="matrix(0.29215 0 0 0.31315 857.56 324.01)" font-size="100" fill="#000" stroke="#000" stroke-width="0.99">.</text><text transform="matrix(0.26861 0 0 0.28757 866.93 324.11)" font-size="100" fill="#000" stroke="#000" stroke-width="1.08">5</text><text transform="matrix(0.26861 0 0 0.28757 841.17 250.98)" font-size="100" fill="#000" stroke="#000" stroke-width="1.08">5</text><text transform="matrix(0.29215 0 0 0.31315 857.56 250.88)" font-size="100" fill="#000" stroke="#000" stroke-width="0.99">.</text><text transform="matrix(0.28462 0 0 0.28843 866.59 250.98)" font-size="100" fill="#000" stroke="#000" stroke-width="1.05">0</text><text transform="matrix(0.27841 0 0 0.28610 840.95 177.74)" font-size="100" fill="#000" stroke="#000" stroke-width="1.06">7</text><text transform="matrix(0.29215 0 0 0.31315 857.56 177.74)" font-size="100" fill="#000" stroke="#000" stroke-width="0.99">.</text><text transform="matrix(0.26861 0 0 0.28757 866.93 177.84)" font-size="100" fill="#000" stroke="#000" stroke-width="1.08">5</text><text transform="matrix(0.27183 0 0 0.28610 823.88 104.60)" font-size="100" fill="#000" stroke="#000" stroke-width="1.08">1</text><text transform="matrix(0.28462 0 0 0.28843 840.83 104.70)" font-size="100" fill="#000" stroke="#000" stroke-width="1.05">0</text><text transform="matrix(0.29215 0 0 0.31315 857.56 104.60)" font-size="100" fill="#000" stroke="#000" stroke-width="0.99">.</text><text transform="matrix(0.28462 0 0 0.28843 866.59 104.70)" font-size="100" fill="#000" stroke="#000" stroke-width="1.05">0</text><path d="M898.90 679.30v7.9 M1045.42 679.30v7.9 M1191.95 679.30v7.9 M1338.47 679.30v7.9 M1485.00 679.30v7.9 M898.90 679.30h-7.9 M898.90 606.16h-7.9 M898.90 533.02h-7.9 M898.90 459.89h-7.9 M898.90 386.75h-7.9 M898.90 313.61h-7.9 M898.90 240.48h-7.9 M898.90 167.34h-7.9 M898.90 94.20h-7.9" stroke="#000" stroke-width="1.8" fill="none"/><text transform="matrix(0.29951 0 0 0.27948 1147.87 749.00)" font-size="100" fill="#000" stroke="#000" stroke-width="1.04">x</text><text transform="matrix(0.22823 0 0 0.25811 1172.90 747.22)" font-size="100" fill="#000" stroke="#000" stroke-width="1.23">(</text><text transform="matrix(0.29110 0 0 0.28103 1183.04 749.00)" font-size="100" fill="#000" stroke="#000" stroke-width="1.05">n</text><text transform="matrix(0.30763 0 0 0.28103 1200.05 749.00)" font-size="100" fill="#000" stroke="#000" stroke-width="1.02">m</text><text transform="matrix(0.22823 0 0 0.25811 1227.97 747.22)" font-size="100" fill="#000" stroke="#000" stroke-width="1.23">)</text><g transform="translate(788.00 386.75) rotate(-90)"><text transform="matrix(0.28995 0 0 0.27699 -43.79 -0.13)" font-size="100" fill="#000" stroke="#000" stroke-width="1.06">y</text><text transform="matrix(0.22823 0 0 0.25811 -19.05 -1.78)" font-size="100" fill="#000" stroke="#000" stroke-width="1.23">(</text><text transform="matrix(0.29110 0 0 0.28103 -8.91 0.00)" font-size="100" fill="#000" stroke="#000" stroke-width="1.05">n</text><text transform="matrix(0.30763 0 0 0.28103 8.10 0.00)" font-size="100" fill="#000" stroke="#000" stroke-width="1.02">m</text><text transform="matrix(0.22823 0 0 0.25811 36.02 -1.78)" font-size="100" fill="#000" stroke="#000" stroke-width="1.23">)</text></g><text transform="matrix(0.39653 0 0 0.33261 901.07 127.70)" font-size="100" fill="#000" stroke="#000" stroke-width="1.65">#</text><text transform="matrix(0.29427 0 0 0.33864 925.65 127.82)" font-size="100" fill="#000" stroke="#000" stroke-width="0.95">C</text><text transform="matrix(0.31534 0 0 0.33590 948.02 127.70)" font-size="100" fill="#000" stroke="#000" stroke-width="0.92">H</text><text transform="matrix(0.31337 0 0 0.33864 971.63 127.82)" font-size="100" fill="#000" stroke="#000" stroke-width="0.92">O</text><text transform="matrix(0.32613 0 0 0.33590 996.72 127.70)" font-size="100" fill="#000" stroke="#000" stroke-width="0.91">L</text><text transform="matrix(0.31915 0 0 0.33590 1025.07 127.70)" font-size="100" fill="#000" stroke="#000" stroke-width="0.92">1</text><text transform="matrix(0.32210 0 0 0.33695 1044.89 127.70)" font-size="100" fill="#000" stroke="#000" stroke-width="0.91">2</text><text transform="matrix(0.32092 0 0 0.33864 1065.55 127.82)" font-size="100" fill="#000" stroke="#000" stroke-width="0.91">3</text><clipPath id="clipC"><rect x="130.9" y="795.9" width="586.10" height="585.00"/></clipPath><g clip-path="url(#clipC)"><ellipse cx="423.95" cy="1088.40" rx="205.13" ry="204.75" fill="#80bf80"/><path d="M474.6 812.5C480.6 810.4 485.9 810.0 491.6 808.7C497.3 807.3 501.8 805.7 508.6 804.3C515.4 802.9 524.6 801.3 532.5 800.3C540.4 799.2 548.0 798.3 555.8 798.0C563.6 797.7 571.8 798.6 579.6 798.7C587.3 798.8 594.6 798.0 602.2 798.5C609.7 799.0 617.3 800.5 624.8 801.6C632.3 802.6 640.2 803.2 647.2 804.6C654.2 806.1 660.7 808.4 666.7 810.3C672.7 812.2 677.3 813.5 683.3 815.9C689.3 818.3 697.5 819.5 702.6 824.9C707.8 830.2 714.1 839.8 714.4 848.1C714.7 856.5 710.0 868.6 704.4 874.8C698.8 881.1 687.7 884.5 680.7 885.6C673.7 886.7 667.8 882.8 662.4 881.3C657.0 879.8 653.6 878.3 648.3 876.8C643.0 875.2 636.3 873.0 630.8 871.9C625.3 870.7 620.9 870.7 615.2 869.9C609.6 869.2 603.0 868.0 597.0 867.5C591.0 867.0 585.5 867.2 579.3 867.0C573.2 866.8 566.5 866.3 560.2 866.5C554.0 866.7 547.9 867.7 541.7 868.5C535.5 869.2 529.1 869.7 523.2 870.9C517.3 872.1 511.7 874.4 506.4 875.6C501.1 876.9 496.6 877.6 491.5 878.4C486.4 879.2 481.8 882.0 475.5 880.3C469.3 878.6 458.9 874.4 453.9 868.3C448.9 862.3 445.2 851.6 445.5 843.8C445.8 836.0 450.6 826.8 455.5 821.6C460.3 816.4 468.5 814.7 474.6 812.5Z" fill="#fff" fill-opacity="0.9" stroke="#e2e8f2" stroke-width="4.6"/><path d="M475.2 814.5C481.1 812.4 486.5 812.1 492.1 810.7C497.7 809.4 502.2 807.8 509.0 806.4C515.8 805.0 525.0 803.4 532.8 802.3C540.6 801.3 548.1 800.4 555.9 800.1C563.7 799.8 571.8 800.7 579.5 800.8C587.2 800.9 594.5 800.1 602.0 800.6C609.5 801.1 617.1 802.6 624.5 803.6C632.0 804.6 639.9 805.2 646.8 806.7C653.7 808.1 660.1 810.4 666.0 812.3C672.0 814.2 676.6 815.5 682.4 817.8C688.3 820.1 696.1 821.2 701.1 826.3C706.1 831.4 712.0 840.3 712.3 848.2C712.6 856.1 708.1 867.6 702.8 873.5C697.5 879.4 686.9 882.6 680.3 883.5C673.7 884.5 668.2 880.7 663.0 879.3C657.7 877.8 654.2 876.3 648.9 874.7C643.6 873.2 636.8 871.0 631.2 869.8C625.6 868.7 621.2 868.6 615.5 867.9C609.8 867.1 603.2 865.9 597.2 865.4C591.2 864.9 585.6 865.1 579.4 864.9C573.2 864.7 566.5 864.2 560.2 864.4C553.8 864.6 547.7 865.6 541.5 866.4C535.2 867.1 528.7 867.6 522.8 868.8C516.8 870.0 511.2 872.3 505.9 873.6C500.6 874.8 496.1 875.6 491.1 876.3C486.2 877.1 482.0 879.8 476.1 878.3C470.1 876.7 460.2 872.7 455.5 867.0C450.8 861.3 447.4 851.2 447.6 843.9C447.9 836.5 452.4 828.0 457.0 823.1C461.6 818.2 469.4 816.6 475.2 814.5Z" fill="none" stroke="#c3cde0" stroke-width="0.9"/><path d="M473.9 810.5C480.1 808.3 485.4 808.0 491.1 806.6C496.8 805.2 501.3 803.7 508.2 802.3C515.0 800.9 524.3 799.2 532.2 798.2C540.2 797.1 547.8 796.2 555.7 795.9C563.6 795.6 571.8 796.5 579.6 796.6C587.4 796.7 594.7 795.9 602.3 796.4C609.9 796.9 617.5 798.4 625.1 799.5C632.6 800.5 640.6 801.1 647.7 802.6C654.7 804.0 661.3 806.4 667.4 808.3C673.4 810.2 678.0 811.5 684.2 814.0C690.3 816.5 698.8 817.8 704.2 823.4C709.6 829.1 716.2 839.3 716.5 848.1C716.8 856.8 711.9 869.6 706.0 876.2C700.1 882.8 688.4 886.5 681.0 887.7C673.7 888.9 667.4 884.8 661.9 883.3C656.3 881.8 652.9 880.3 647.7 878.8C642.4 877.2 635.8 875.1 630.4 873.9C624.9 872.8 620.5 872.8 615.0 872.0C609.4 871.3 602.8 870.1 596.8 869.6C590.9 869.1 585.4 869.3 579.3 869.1C573.2 868.9 566.5 868.4 560.3 868.6C554.1 868.8 548.1 869.8 542.0 870.5C535.8 871.3 529.5 871.7 523.6 872.9C517.8 874.1 512.2 876.4 506.9 877.7C501.6 878.9 497.1 879.7 491.8 880.5C486.5 881.3 481.6 884.2 475.0 882.4C468.4 880.6 457.6 876.1 452.3 869.7C447.0 863.3 443.1 852.0 443.4 843.7C443.7 835.5 448.9 825.7 454.0 820.2C459.1 814.6 467.7 812.8 473.9 810.5Z" fill="none" stroke="#c3cde0" stroke-width="0.9"/><circle cx="538.6" cy="833.3" r="5.6" fill="#d3d3d3" fill-opacity="0.42"/><circle cx="446.8" cy="860.2" r="5.6" fill="#d3d3d3" fill-opacity="0.42"/><circle cx="537.0" cy="872.5" r="5.6" fill="#d3d3d3" fill-opacity="0.42"/><circle cx="521.1" cy="847.8" r="5.6" fill="#ffb6c1" fill-opacity="0.42"/><circle cx="429.6" cy="809.6" r="5.6" fill="#d3d3d3"/><circle cx="334.3" cy="840.6" r="5.6" fill="#d3d3d3"/><circle cx="347.1" cy="844.7" r="5.6" fill="#d3d3d3"/><circle cx="264.5" cy="873.1" r="5.6" fill="#d3d3d3"/><circle cx="297.1" cy="878.1" r="5.6" fill="#d3d3d3"/><circle cx="334.9" cy="871.3" r="5.6" fill="#d3d3d3"/><circle cx="425.7" cy="869.8" r="5.6" fill="#d3d3d3"/><circle cx="332.6" cy="890.7" r="5.6" fill="#d3d3d3"/><circle cx="333.2" cy="900.4" r="5.6" fill="#d3d3d3"/><circle cx="358.6" cy="888.8" r="5.6" fill="#d3d3d3"/><circle cx="303.3" cy="898.5" r="5.6" fill="#d3d3d3"/><circle cx="180.1" cy="921.2" r="5.6" fill="#d3d3d3"/><circle cx="253.2" cy="926.8" r="5.6" fill="#d3d3d3"/><circle cx="240.6" cy="945.0" r="5.6" fill="#d3d3d3"/><circle cx="175.6" cy="965.0" r="5.6" fill="#d3d3d3"/><circle cx="206.8" cy="965.0" r="5.6" fill="#d3d3d3"/><circle cx="254.2" cy="970.1" r="5.6" fill="#d3d3d3"/><circle cx="130.0" cy="995.9" r="5.6" fill="#d3d3d3"/><circle cx="156.8" cy="1008.1" r="5.6" fill="#d3d3d3"/><circle cx="195.2" cy="1028.7" r="5.6" fill="#d3d3d3"/><circle cx="197.5" cy="1060.7" r="5.6" fill="#d3d3d3"/><circle cx="170.2" cy="1079.7" r="5.6" fill="#d3d3d3"/><circle cx="191.1" cy="1078.4" r="5.6" fill="#d3d3d3"/><circle cx="624.3" cy="884.9" r="5.6" fill="#d3d3d3"/><circle cx="613.5" cy="892.5" r="5.6" fill="#d3d3d3"/><circle cx="617.2" cy="905.3" r="5.6" fill="#d3d3d3"/><circle cx="572.3" cy="929.3" r="5.6" fill="#d3d3d3"/><circle cx="626.9" cy="967.0" r="5.6" fill="#d3d3d3"/><circle cx="654.4" cy="998.8" r="5.6" fill="#d3d3d3"/><circle cx="639.7" cy="1010.2" r="5.6" fill="#d3d3d3"/><circle cx="624.3" cy="1012.8" r="5.6" fill="#d3d3d3"/><circle cx="650.5" cy="1016.5" r="5.6" fill="#d3d3d3"/><circle cx="670.7" cy="1052.0" r="5.6" fill="#d3d3d3"/><circle cx="664.5" cy="1087.1" r="5.6" fill="#d3d3d3"/><circle cx="153.1" cy="1092.8" r="5.6" fill="#d3d3d3"/><circle cx="192.9" cy="1127.1" r="5.6" fill="#d3d3d3"/><circle cx="212.7" cy="1145.5" r="5.6" fill="#d3d3d3"/><circle cx="146.5" cy="1169.2" r="5.6" fill="#d3d3d3"/><circle cx="252.6" cy="1231.5" r="5.6" fill="#d3d3d3"/><circle cx="231.3" cy="1238.7" r="5.6" fill="#d3d3d3"/><circle cx="167.3" cy="1260.4" r="5.6" fill="#d3d3d3"/><circle cx="274.8" cy="1276.9" r="5.6" fill="#d3d3d3"/><circle cx="310.1" cy="1289.3" r="5.6" fill="#d3d3d3"/><circle cx="252.4" cy="1308.9" r="5.6" fill="#d3d3d3"/><circle cx="289.9" cy="1316.7" r="5.6" fill="#d3d3d3"/><circle cx="338.0" cy="1333.6" r="5.6" fill="#d3d3d3"/><circle cx="391.2" cy="1337.1" r="5.6" fill="#d3d3d3"/><circle cx="402.8" cy="1351.2" r="5.6" fill="#d3d3d3"/><circle cx="419.3" cy="1360.0" r="5.6" fill="#d3d3d3"/><circle cx="324.4" cy="1364.6" r="5.6" fill="#d3d3d3"/><circle cx="643.5" cy="1090.8" r="5.6" fill="#d3d3d3"/><circle cx="708.2" cy="1109.8" r="5.6" fill="#d3d3d3"/><circle cx="649.4" cy="1153.5" r="5.6" fill="#d3d3d3"/><circle cx="661.4" cy="1177.2" r="5.6" fill="#d3d3d3"/><circle cx="661.4" cy="1219.1" r="5.6" fill="#d3d3d3"/><circle cx="664.5" cy="1265.5" r="5.6" fill="#d3d3d3"/><circle cx="616.4" cy="1273.2" r="5.6" fill="#d3d3d3"/><circle cx="595.2" cy="1281.0" r="5.6" fill="#d3d3d3"/><circle cx="479.8" cy="1285.1" r="5.6" fill="#d3d3d3"/><circle cx="498.4" cy="1307.4" r="5.6" fill="#d3d3d3"/><circle cx="517.8" cy="1333.2" r="5.6" fill="#d3d3d3"/><circle cx="465.8" cy="1346.2" r="5.6" fill="#d3d3d3"/><circle cx="509.3" cy="1348.5" r="5.6" fill="#d3d3d3"/><circle cx="424.6" cy="802.4" r="5.6" fill="#ffb6c1"/><circle cx="294.6" cy="832.3" r="5.6" fill="#ffb6c1"/><circle cx="389.8" cy="838.1" r="5.6" fill="#ffb6c1"/><circle cx="417.8" cy="876.2" r="5.6" fill="#ffb6c1"/><circle cx="241.4" cy="897.1" r="5.6" fill="#ffb6c1"/><circle cx="264.3" cy="918.3" r="5.6" fill="#ffb6c1"/><circle cx="171.3" cy="1008.3" r="5.6" fill="#ffb6c1"/><circle cx="163.4" cy="1040.7" r="5.6" fill="#ffb6c1"/><circle cx="162.4" cy="1045.4" r="5.6" fill="#ffb6c1"/><circle cx="436.1" cy="822.4" r="5.6" fill="#ffb6c1"/><circle cx="465.4" cy="882.2" r="5.6" fill="#ffb6c1"/><circle cx="596.0" cy="904.1" r="5.6" fill="#ffb6c1"/><circle cx="633.5" cy="904.5" r="5.6" fill="#ffb6c1"/><circle cx="669.2" cy="910.1" r="5.6" fill="#ffb6c1"/><circle cx="708.4" cy="1029.3" r="5.6" fill="#ffb6c1"/><circle cx="630.5" cy="1068.1" r="5.6" fill="#ffb6c1"/><circle cx="188.0" cy="1098.4" r="5.6" fill="#ffb6c1"/><circle cx="148.2" cy="1121.5" r="5.6" fill="#ffb6c1"/><circle cx="162.0" cy="1141.7" r="5.6" fill="#ffb6c1"/><circle cx="221.4" cy="1176.6" r="5.6" fill="#ffb6c1"/><circle cx="205.5" cy="1251.9" r="5.6" fill="#ffb6c1"/><circle cx="300.4" cy="1262.0" r="5.6" fill="#ffb6c1"/><circle cx="308.1" cy="1335.5" r="5.6" fill="#ffb6c1"/><circle cx="329.7" cy="1334.2" r="5.6" fill="#ffb6c1"/><circle cx="675.2" cy="1133.7" r="5.6" fill="#ffb6c1"/><circle cx="612.3" cy="1193.1" r="5.6" fill="#ffb6c1"/><circle cx="435.3" cy="1308.2" r="5.6" fill="#ffb6c1"/><circle cx="564.2" cy="1340.2" r="5.6" fill="#ffb6c1"/><circle cx="438.4" cy="1364.6" r="5.6" fill="#ffb6c1"/><circle cx="366.2" cy="900.8" r="5.6" fill="#000000"/><circle cx="380.3" cy="909.3" r="5.6" fill="#000000"/><circle cx="384.2" cy="926.2" r="5.6" fill="#000000"/><circle cx="411.0" cy="946.6" r="5.6" fill="#000000"/><circle cx="297.1" cy="928.7" r="5.6" fill="#000000"/><circle cx="321.7" cy="934.8" r="5.6" fill="#000000"/><circle cx="309.7" cy="950.3" r="5.6" fill="#000000"/><circle cx="322.3" cy="960.8" r="5.6" fill="#000000"/><circle cx="258.1" cy="991.6" r="5.6" fill="#000000"/><circle cx="329.3" cy="1001.7" r="5.6" fill="#000000"/><circle cx="315.1" cy="1017.6" r="5.6" fill="#000000"/><circle cx="325.4" cy="1017.6" r="5.6" fill="#000000"/><circle cx="365.6" cy="1016.3" r="5.6" fill="#000000"/><circle cx="263.3" cy="1051.4" r="5.6" fill="#000000"/><circle cx="306.8" cy="1076.6" r="5.6" fill="#000000"/><circle cx="268.9" cy="1083.2" r="5.6" fill="#000000"/><circle cx="278.3" cy="1083.8" r="5.6" fill="#000000"/><circle cx="441.5" cy="913.4" r="5.6" fill="#000000"/><circle cx="546.3" cy="942.1" r="5.6" fill="#000000"/><circle cx="585.5" cy="963.7" r="5.6" fill="#000000"/><circle cx="442.7" cy="963.7" r="5.6" fill="#000000"/><circle cx="474.7" cy="970.7" r="5.6" fill="#000000"/><circle cx="519.7" cy="967.0" r="5.6" fill="#000000"/><circle cx="557.8" cy="970.3" r="5.6" fill="#000000"/><circle cx="499.0" cy="981.7" r="5.6" fill="#000000"/><circle cx="469.5" cy="990.3" r="5.6" fill="#000000"/><circle cx="521.7" cy="999.2" r="5.6" fill="#000000"/><circle cx="606.9" cy="1000.5" r="5.6" fill="#000000"/><circle cx="505.8" cy="1018.8" r="5.6" fill="#000000"/><circle cx="580.1" cy="1018.0" r="5.6" fill="#000000"/><circle cx="499.2" cy="1032.0" r="5.6" fill="#000000"/><circle cx="433.4" cy="1059.3" r="5.6" fill="#000000"/><circle cx="462.7" cy="1066.1" r="5.6" fill="#000000"/><circle cx="580.9" cy="1062.8" r="5.6" fill="#000000"/><circle cx="444.3" cy="1080.5" r="5.6" fill="#000000"/><circle cx="569.0" cy="1078.9" r="5.6" fill="#000000"/><circle cx="452.0" cy="1088.1" r="5.6" fill="#000000"/><circle cx="327.9" cy="1092.6" r="5.6" fill="#000000"/><circle cx="344.6" cy="1091.8" r="5.6" fill="#000000"/><circle cx="321.9" cy="1107.7" r="5.6" fill="#000000"/><circle cx="401.3" cy="1117.0" r="5.6" fill="#000000"/><circle cx="406.9" cy="1127.5" r="5.6" fill="#000000"/><circle cx="420.5" cy="1146.5" r="5.6" fill="#000000"/><circle cx="245.3" cy="1135.1" r="5.6" fill="#000000"/><circle cx="267.4" cy="1137.2" r="5.6" fill="#000000"/><circle cx="295.5" cy="1157.6" r="5.6" fill="#000000"/><circle cx="428.1" cy="1168.1" r="5.6" fill="#000000"/><circle cx="246.4" cy="1186.3" r="5.6" fill="#000000"/><circle cx="290.9" cy="1199.7" r="5.6" fill="#000000"/><circle cx="308.9" cy="1196.2" r="5.6" fill="#000000"/><circle cx="418.9" cy="1188.2" r="5.6" fill="#000000"/><circle cx="386.9" cy="1218.7" r="5.6" fill="#000000"/><circle cx="277.7" cy="1231.1" r="5.6" fill="#000000"/><circle cx="292.4" cy="1236.2" r="5.6" fill="#000000"/><circle cx="306.4" cy="1255.4" r="5.6" fill="#000000"/><circle cx="400.3" cy="1245.3" r="5.6" fill="#000000"/><circle cx="353.2" cy="1255.6" r="5.6" fill="#000000"/><circle cx="374.1" cy="1252.1" r="5.6" fill="#000000"/><circle cx="372.2" cy="1280.0" r="5.6" fill="#000000"/><circle cx="392.4" cy="1276.9" r="5.6" fill="#000000"/><circle cx="431.1" cy="1103.0" r="5.6" fill="#000000"/><circle cx="512.8" cy="1100.1" r="5.6" fill="#000000"/><circle cx="553.3" cy="1108.7" r="5.6" fill="#000000"/><circle cx="511.2" cy="1119.0" r="5.6" fill="#000000"/><circle cx="525.2" cy="1123.4" r="5.6" fill="#000000"/><circle cx="623.6" cy="1124.6" r="5.6" fill="#000000"/><circle cx="611.3" cy="1132.0" r="5.6" fill="#000000"/><circle cx="467.9" cy="1152.7" r="5.6" fill="#000000"/><circle cx="439.4" cy="1161.5" r="5.6" fill="#000000"/><circle cx="431.1" cy="1180.9" r="5.6" fill="#000000"/><circle cx="447.4" cy="1176.6" r="5.6" fill="#000000"/><circle cx="462.3" cy="1177.4" r="5.6" fill="#000000"/><circle cx="495.9" cy="1170.8" r="5.6" fill="#000000"/><circle cx="539.7" cy="1188.0" r="5.6" fill="#000000"/><circle cx="500.9" cy="1204.7" r="5.6" fill="#000000"/><circle cx="513.1" cy="1227.6" r="5.6" fill="#000000"/><circle cx="539.7" cy="1232.7" r="5.6" fill="#000000"/><circle cx="554.1" cy="1243.3" r="5.6" fill="#000000"/><circle cx="445.2" cy="1237.9" r="5.6" fill="#000000"/><circle cx="474.1" cy="1266.4" r="5.6" fill="#000000"/><circle cx="496.8" cy="1266.2" r="5.6" fill="#000000"/><circle cx="468.7" cy="1283.3" r="5.6" fill="#000000"/><circle cx="332.4" cy="918.1" r="5.6" fill="#ff0000"/><circle cx="419.1" cy="940.2" r="5.6" fill="#ff0000"/><circle cx="356.1" cy="982.9" r="5.6" fill="#ff0000"/><circle cx="428.1" cy="985.2" r="5.6" fill="#ff0000"/><circle cx="427.5" cy="1033.5" r="5.6" fill="#ff0000"/><circle cx="386.3" cy="1062.4" r="5.6" fill="#ff0000"/><circle cx="374.5" cy="1080.7" r="5.6" fill="#ff0000"/><circle cx="353.5" cy="1085.5" r="5.6" fill="#ff0000"/><circle cx="442.3" cy="884.3" r="5.6" fill="#ff0000"/><circle cx="448.7" cy="890.5" r="5.6" fill="#ff0000"/><circle cx="437.3" cy="897.7" r="5.6" fill="#ff0000"/><circle cx="463.3" cy="943.3" r="5.6" fill="#ff0000"/><circle cx="538.0" cy="971.6" r="5.6" fill="#ff0000"/><circle cx="589.2" cy="989.1" r="5.6" fill="#ff0000"/><circle cx="618.1" cy="1029.3" r="5.6" fill="#ff0000"/><circle cx="601.6" cy="1059.3" r="5.6" fill="#ff0000"/><circle cx="584.2" cy="1076.8" r="5.6" fill="#ff0000"/><circle cx="227.6" cy="1104.8" r="5.6" fill="#ff0000"/><circle cx="284.3" cy="1102.5" r="5.6" fill="#ff0000"/><circle cx="354.5" cy="1107.9" r="5.6" fill="#ff0000"/><circle cx="280.8" cy="1213.1" r="5.6" fill="#ff0000"/><circle cx="313.2" cy="1243.0" r="5.6" fill="#ff0000"/><circle cx="419.7" cy="1220.8" r="5.6" fill="#ff0000"/><circle cx="408.3" cy="1241.2" r="5.6" fill="#ff0000"/><circle cx="405.2" cy="1290.3" r="5.6" fill="#ff0000"/><circle cx="459.8" cy="1104.2" r="5.6" fill="#ff0000"/><circle cx="543.0" cy="1099.0" r="5.6" fill="#ff0000"/><circle cx="456.7" cy="1123.8" r="5.6" fill="#ff0000"/><circle cx="500.1" cy="1146.9" r="5.6" fill="#ff0000"/><circle cx="516.6" cy="1156.6" r="5.6" fill="#ff0000"/><circle cx="468.3" cy="1164.8" r="5.6" fill="#ff0000"/><circle cx="514.3" cy="1168.1" r="5.6" fill="#ff0000"/><circle cx="583.0" cy="1195.4" r="5.6" fill="#ff0000"/><circle cx="573.3" cy="1201.0" r="5.6" fill="#ff0000"/><path d="M480.0 822.3Q484.1 831.5 486.0 842.4M476.2 823.6Q478.6 833.3 483.7 843.2M496.1 818.9Q499.3 828.4 500.2 839.5M492.2 819.8Q493.7 829.8 497.9 840.1M512.8 814.7Q515.7 824.3 516.2 835.4M508.8 815.5Q510.0 825.5 513.9 835.9M535.9 810.9Q538.2 820.7 537.9 831.8M532.0 811.4Q532.4 821.5 535.6 832.1M558.2 808.9Q559.4 818.9 558.0 829.9M554.2 809.1Q553.6 819.1 555.6 830.0M581.4 809.7Q582.2 819.7 580.4 830.7M577.4 809.7Q576.4 819.7 578.0 830.7M603.5 809.6Q603.8 819.7 601.4 830.5M599.5 809.4Q598.0 819.3 599.0 830.4M625.3 812.7Q624.9 822.8 621.7 833.4M621.3 812.2Q619.1 822.0 619.3 833.1M646.9 815.8Q645.8 825.8 641.9 836.2M643.0 815.0Q640.1 824.6 639.5 835.7M665.1 821.4Q662.8 831.1 657.7 841.0M661.3 820.1Q657.3 829.3 655.4 840.3M680.2 827.4Q676.9 836.8 670.8 846.1M676.6 825.7Q671.6 834.4 668.6 845.1M693.9 835.1Q691.0 838.5 688.1 842.8M691.7 832.7Q688.0 835.3 683.5 837.8M699.9 850.3Q695.4 851.1 690.4 852.5M699.7 847.1Q695.2 846.7 690.2 845.7M693.1 867.5Q689.3 865.1 684.7 862.9M695.2 865.1Q692.1 861.7 689.0 857.6M676.7 874.4Q674.0 864.7 673.8 853.6M680.6 873.7Q679.7 863.7 676.2 853.2M663.4 870.2Q665.1 860.3 669.6 850.1M667.2 871.2Q670.7 861.8 672.0 850.7M649.5 865.6Q651.5 855.8 656.2 845.7M653.3 866.8Q657.0 857.4 658.5 846.4M631.0 860.7Q632.2 850.7 636.1 840.3M635.0 861.5Q637.9 851.9 638.4 840.8M614.7 858.8Q615.1 848.8 618.2 838.1M618.6 859.3Q620.8 849.5 620.6 838.4M595.9 856.4Q595.8 846.3 598.4 835.5M599.9 856.7Q601.6 846.8 600.8 835.7M577.6 855.9Q577.0 845.9 579.0 835.0M581.6 856.1Q582.8 846.1 581.4 835.0M557.8 855.6Q556.5 845.6 557.8 834.6M561.8 855.4Q562.3 845.4 560.2 834.5M538.4 857.8Q536.4 847.9 536.8 836.8M542.4 857.3Q542.1 847.3 539.1 836.5M519.0 860.5Q516.2 850.9 515.7 839.8M523.0 859.7Q521.9 849.7 518.0 839.3M501.9 865.4Q498.7 855.9 497.8 844.8M505.8 864.5Q504.3 854.5 500.1 844.2M487.7 867.9Q485.2 858.2 485.0 847.1M491.6 867.2Q490.9 857.2 487.4 846.7M476.3 869.2Q477.8 859.2 482.1 849.0M480.2 870.1Q483.5 860.7 484.5 849.6M461.3 860.1Q464.4 856.7 467.4 852.6M463.4 862.5Q467.2 860.1 471.8 857.8M456.6 842.6Q461.1 842.1 466.1 841.1M456.4 845.8Q460.9 846.5 465.9 847.9M464.5 828.1Q468.2 830.8 472.6 833.4M462.3 830.4Q465.1 834.0 467.8 838.3" fill="none" stroke="#bccde9" stroke-width="1.45" stroke-linecap="round"/><polygon points="530.4,833.2 526.5,835.5 522.6,833.2 522.6,828.8 526.5,826.5 530.4,828.8" fill="#8c94cd"/><polygon points="531.4,826.2 527.5,828.5 523.6,826.2 523.6,821.8 527.5,819.5 531.4,821.8" fill="#6171b3"/><polygon points="524.9,821.2 521.0,823.5 517.1,821.2 517.1,816.8 521.0,814.5 524.9,816.8" fill="#8c94cd"/><polygon points="526.4,813.8 522.5,816.0 518.6,813.8 518.6,809.2 522.5,807.0 526.4,809.2" fill="#6171b3"/><polygon points="570.4,830.2 566.5,832.5 562.6,830.2 562.6,825.8 566.5,823.5 570.4,825.8" fill="#8c94cd"/><polygon points="573.4,823.8 569.5,826.0 565.6,823.8 565.6,819.2 569.5,817.0 573.4,819.2" fill="#6171b3"/><polygon points="569.4,817.2 565.5,819.5 561.6,817.2 561.6,812.8 565.5,810.5 569.4,812.8" fill="#8c94cd"/><polygon points="572.9,810.8 569.0,813.0 565.1,810.8 565.1,806.2 569.0,804.0 572.9,806.2" fill="#6171b3"/><polygon points="613.9,831.8 610.0,834.0 606.1,831.8 606.1,827.2 610.0,825.0 613.9,827.2" fill="#8c94cd"/><polygon points="616.9,825.2 613.0,827.5 609.1,825.2 609.1,820.8 613.0,818.5 616.9,820.8" fill="#6171b3"/><polygon points="612.9,818.8 609.0,821.0 605.1,818.8 605.1,814.2 609.0,812.0 612.9,814.2" fill="#8c94cd"/><polygon points="616.9,812.2 613.0,814.5 609.1,812.2 609.1,807.8 613.0,805.5 616.9,807.8" fill="#6171b3"/><polygon points="657.4,841.2 653.5,843.5 649.6,841.2 649.6,836.8 653.5,834.5 657.4,836.8" fill="#8c94cd"/><polygon points="661.4,835.2 657.5,837.5 653.6,835.2 653.6,830.8 657.5,828.5 661.4,830.8" fill="#6171b3"/><polygon points="658.4,828.2 654.5,830.5 650.6,828.2 650.6,823.8 654.5,821.5 658.4,823.8" fill="#8c94cd"/><polygon points="661.9,822.2 658.0,824.5 654.1,822.2 654.1,817.8 658.0,815.5 661.9,817.8" fill="#6171b3"/><polygon points="511.9,847.2 508.0,849.5 504.1,847.2 504.1,842.8 508.0,840.5 511.9,842.8" fill="#ef5d48"/><polygon points="511.4,854.8 507.5,857.0 503.6,854.8 503.6,850.2 507.5,848.0 511.4,850.2" fill="#d3344c"/><polygon points="517.4,860.2 513.5,862.5 509.6,860.2 509.6,855.8 513.5,853.5 517.4,855.8" fill="#ef5d48"/><polygon points="515.4,866.8 511.5,869.0 507.6,866.8 507.6,862.2 511.5,860.0 515.4,862.2" fill="#d3344c"/><polygon points="533.4,842.8 529.5,845.0 525.6,842.8 525.6,838.2 529.5,836.0 533.4,838.2" fill="#8c94cd"/><polygon points="531.9,850.2 528.0,852.5 524.1,850.2 524.1,845.8 528.0,843.5 531.9,845.8" fill="#6171b3"/><polygon points="536.9,856.2 533.0,858.5 529.1,856.2 529.1,851.8 533.0,849.5 536.9,851.8" fill="#8c94cd"/><polygon points="534.4,862.2 530.5,864.5 526.6,862.2 526.6,857.8 530.5,855.5 534.4,857.8" fill="#6171b3"/><polygon points="551.9,840.2 548.0,842.5 544.1,840.2 544.1,835.8 548.0,833.5 551.9,835.8" fill="#ef5d48"/><polygon points="550.9,847.2 547.0,849.5 543.1,847.2 543.1,842.8 547.0,840.5 550.9,842.8" fill="#d3344c"/><polygon points="555.9,853.2 552.0,855.5 548.1,853.2 548.1,848.8 552.0,846.5 555.9,848.8" fill="#ef5d48"/><polygon points="553.9,859.8 550.0,862.0 546.1,859.8 546.1,855.2 550.0,853.0 553.9,855.2" fill="#d3344c"/><polygon points="572.9,838.8 569.0,841.0 565.1,838.8 565.1,834.2 569.0,832.0 572.9,834.2" fill="#8c94cd"/><polygon points="570.4,845.2 566.5,847.5 562.6,845.2 562.6,840.8 566.5,838.5 570.4,840.8" fill="#6171b3"/><polygon points="575.4,851.8 571.5,854.0 567.6,851.8 567.6,847.2 571.5,845.0 575.4,847.2" fill="#8c94cd"/><polygon points="572.9,857.8 569.0,860.0 565.1,857.8 565.1,853.2 569.0,851.0 572.9,853.2" fill="#6171b3"/><polygon points="593.4,838.2 589.5,840.5 585.6,838.2 585.6,833.8 589.5,831.5 593.4,833.8" fill="#ef5d48"/><polygon points="590.4,846.2 586.5,848.5 582.6,846.2 582.6,841.8 586.5,839.5 590.4,841.8" fill="#d3344c"/><polygon points="594.9,852.2 591.0,854.5 587.1,852.2 587.1,847.8 591.0,845.5 594.9,847.8" fill="#ef5d48"/><polygon points="591.9,858.2 588.0,860.5 584.1,858.2 584.1,853.8 588.0,851.5 591.9,853.8" fill="#d3344c"/><polygon points="614.9,840.2 611.0,842.5 607.1,840.2 607.1,835.8 611.0,833.5 614.9,835.8" fill="#8c94cd"/><polygon points="611.4,847.8 607.5,850.0 603.6,847.8 603.6,843.2 607.5,841.0 611.4,843.2" fill="#6171b3"/><polygon points="614.9,854.8 611.0,857.0 607.1,854.8 607.1,850.2 611.0,848.0 614.9,850.2" fill="#8c94cd"/><polygon points="611.4,860.2 607.5,862.5 603.6,860.2 603.6,855.8 607.5,853.5 611.4,855.8" fill="#6171b3"/><polygon points="633.9,844.2 630.0,846.5 626.1,844.2 626.1,839.8 630.0,837.5 633.9,839.8" fill="#8c94cd"/><polygon points="630.4,851.2 626.5,853.5 622.6,851.2 622.6,846.8 626.5,844.5 630.4,846.8" fill="#6171b3"/><polygon points="633.9,857.8 630.0,860.0 626.1,857.8 626.1,853.2 630.0,851.0 633.9,853.2" fill="#8c94cd"/><polygon points="629.9,864.2 626.0,866.5 622.1,864.2 622.1,859.8 626.0,857.5 629.9,859.8" fill="#6171b3"/><polygon points="653.9,849.2 650.0,851.5 646.1,849.2 646.1,844.8 650.0,842.5 653.9,844.8" fill="#ef5d48"/><polygon points="650.4,856.8 646.5,859.0 642.6,856.8 642.6,852.2 646.5,850.0 650.4,852.2" fill="#d3344c"/><polygon points="652.9,862.8 649.0,865.0 645.1,862.8 645.1,858.2 649.0,856.0 652.9,858.2" fill="#ef5d48"/><polygon points="647.9,869.8 644.0,872.0 640.1,869.8 640.1,865.2 644.0,863.0 647.9,865.2" fill="#d3344c"/><circle cx="476.5" cy="818.2" r="5.5" fill="#8b9bb3"/><circle cx="493.0" cy="814.5" r="5.5" fill="#8b9bb3"/><circle cx="509.8" cy="810.2" r="5.5" fill="#8b9bb3"/><circle cx="533.3" cy="806.2" r="5.5" fill="#8b9bb3"/><circle cx="556.0" cy="804.0" r="5.5" fill="#8b9bb3"/><circle cx="579.5" cy="804.7" r="5.5" fill="#8b9bb3"/><circle cx="601.8" cy="804.5" r="5.5" fill="#8b9bb3"/><circle cx="624.0" cy="807.5" r="5.5" fill="#8b9bb3"/><circle cx="646.0" cy="810.5" r="5.5" fill="#8b9bb3"/><circle cx="664.8" cy="816.0" r="5.5" fill="#8b9bb3"/><circle cx="680.5" cy="822.0" r="5.5" fill="#8b9bb3"/><circle cx="696.5" cy="830.5" r="5.5" fill="#8b9bb3"/><circle cx="704.8" cy="848.5" r="5.5" fill="#8b9bb3"/><circle cx="698.0" cy="869.5" r="5.5" fill="#8b9bb3"/><circle cx="679.5" cy="879.0" r="5.5" fill="#8b9bb3"/><circle cx="664.0" cy="875.5" r="5.5" fill="#8b9bb3"/><circle cx="650.0" cy="871.0" r="5.5" fill="#8b9bb3"/><circle cx="632.0" cy="866.0" r="5.5" fill="#8b9bb3"/><circle cx="616.0" cy="864.0" r="5.5" fill="#8b9bb3"/><circle cx="597.5" cy="861.5" r="5.5" fill="#8b9bb3"/><circle cx="579.5" cy="861.0" r="5.5" fill="#8b9bb3"/><circle cx="560.0" cy="860.5" r="5.5" fill="#8b9bb3"/><circle cx="541.0" cy="862.5" r="5.5" fill="#8b9bb3"/><circle cx="522.0" cy="865.0" r="5.5" fill="#8b9bb3"/><circle cx="505.0" cy="869.8" r="5.5" fill="#8b9bb3"/><circle cx="490.5" cy="872.5" r="5.5" fill="#8b9bb3"/><circle cx="477.0" cy="874.5" r="5.5" fill="#8b9bb3"/><circle cx="458.5" cy="864.5" r="5.5" fill="#8b9bb3"/><circle cx="451.5" cy="844.0" r="5.5" fill="#8b9bb3"/><circle cx="459.8" cy="825.8" r="5.5" fill="#8b9bb3"/><path d="M504.9 875.9 L506.4 875.6 L508.1 875.2 L509.8 874.7 L511.4 874.2 L513.1 873.7 L514.8 873.3 L516.5 872.8 L518.2 872.3 L519.8 871.8 L521.5 871.4 L523.2 870.9 L525.0 870.6 L526.9 870.4 L528.7 870.2 L530.6 869.9 L532.4 869.7 L534.3 869.4 L536.2 869.2 L538.0 868.9 L539.9 868.7 L541.7 868.5 L543.6 868.3 L545.4 868.1 L547.3 867.9 L549.1 867.7 L551.0 867.5 L552.8 867.3 L554.7 867.1 L556.5 866.9 L558.4 866.7 L560.2 866.5 L562.1 866.5 L564.1 866.6 L566.0 866.6 L567.9 866.7 L569.8 866.7 L571.7 866.8 L573.6 866.8 L575.5 866.9 L577.4 866.9 L579.3 867.0 L581.1 867.0 L582.9 867.1 L584.6 867.1 L586.4 867.2 L588.2 867.2 L589.9 867.3 L591.7 867.3 L593.5 867.4 L595.2 867.4 L597.0 867.5 L598.8 867.7 L600.7 868.0 L602.5 868.2 L604.3 868.5 L606.1 868.7 L607.9 869.0 L609.8 869.2 L611.6 869.5 L613.4 869.7 L615.2 869.9 L616.8 870.1 L618.3 870.3 L619.9 870.5 L621.5 870.7 L623.0 870.9 L624.6 871.1 L626.1 871.3 L627.7 871.5 L629.2 871.7 L630.8 871.9 L632.5 872.4 L634.3 872.9 L636.0 873.3 L637.8 873.8 L639.5 874.3 L641.3 874.8 L643.0 875.3 L644.8 875.8 L646.5 876.3 L648.3 876.8 L649.7 877.2 L651.1 877.7 L652.5 878.1 L653.9 878.6 L655.4 879.0 L656.8 879.5" fill="none" stroke="#5fb055" stroke-opacity="0.55" stroke-width="14.0" stroke-linecap="round" stroke-linejoin="round"/><path d="M504.9 875.9 L506.4 875.6 L508.1 875.2 L509.8 874.7 L511.4 874.2 L513.1 873.7 L514.8 873.3 L516.5 872.8 L518.2 872.3 L519.8 871.8 L521.5 871.4 L523.2 870.9 L525.0 870.6 L526.9 870.4 L528.7 870.2 L530.6 869.9 L532.4 869.7 L534.3 869.4 L536.2 869.2 L538.0 868.9 L539.9 868.7 L541.7 868.5 L543.6 868.3 L545.4 868.1 L547.3 867.9 L549.1 867.7 L551.0 867.5 L552.8 867.3 L554.7 867.1 L556.5 866.9 L558.4 866.7 L560.2 866.5 L562.1 866.5 L564.1 866.6 L566.0 866.6 L567.9 866.7 L569.8 866.7 L571.7 866.8 L573.6 866.8 L575.5 866.9 L577.4 866.9 L579.3 867.0 L581.1 867.0 L582.9 867.1 L584.6 867.1 L586.4 867.2 L588.2 867.2 L589.9 867.3 L591.7 867.3 L593.5 867.4 L595.2 867.4 L597.0 867.5 L598.8 867.7 L600.7 868.0 L602.5 868.2 L604.3 868.5 L606.1 868.7 L607.9 869.0 L609.8 869.2 L611.6 869.5 L613.4 869.7 L615.2 869.9 L616.8 870.1 L618.3 870.3 L619.9 870.5 L621.5 870.7 L623.0 870.9 L624.6 871.1 L626.1 871.3 L627.7 871.5 L629.2 871.7 L630.8 871.9 L632.5 872.4 L634.3 872.9 L636.0 873.3 L637.8 873.8 L639.5 874.3 L641.3 874.8 L643.0 875.3 L644.8 875.8 L646.5 876.3 L648.3 876.8 L649.7 877.2 L651.1 877.7 L652.5 878.1 L653.9 878.6 L655.4 879.0 L656.8 879.5" fill="none" stroke="#4f9a4a" stroke-opacity="0.18" stroke-width="1" transform="translate(0 -2.5)"/><path d="M504.9 875.9 L506.4 875.6 L508.1 875.2 L509.8 874.7 L511.4 874.2 L513.1 873.7 L514.8 873.3 L516.5 872.8 L518.2 872.3 L519.8 871.8 L521.5 871.4 L523.2 870.9 L525.0 870.6 L526.9 870.4 L528.7 870.2 L530.6 869.9 L532.4 869.7 L534.3 869.4 L536.2 869.2 L538.0 868.9 L539.9 868.7 L541.7 868.5 L543.6 868.3 L545.4 868.1 L547.3 867.9 L549.1 867.7 L551.0 867.5 L552.8 867.3 L554.7 867.1 L556.5 866.9 L558.4 866.7 L560.2 866.5 L562.1 866.5 L564.1 866.6 L566.0 866.6 L567.9 866.7 L569.8 866.7 L571.7 866.8 L573.6 866.8 L575.5 866.9 L577.4 866.9 L579.3 867.0 L581.1 867.0 L582.9 867.1 L584.6 867.1 L586.4 867.2 L588.2 867.2 L589.9 867.3 L591.7 867.3 L593.5 867.4 L595.2 867.4 L597.0 867.5 L598.8 867.7 L600.7 868.0 L602.5 868.2 L604.3 868.5 L606.1 868.7 L607.9 869.0 L609.8 869.2 L611.6 869.5 L613.4 869.7 L615.2 869.9 L616.8 870.1 L618.3 870.3 L619.9 870.5 L621.5 870.7 L623.0 870.9 L624.6 871.1 L626.1 871.3 L627.7 871.5 L629.2 871.7 L630.8 871.9 L632.5 872.4 L634.3 872.9 L636.0 873.3 L637.8 873.8 L639.5 874.3 L641.3 874.8 L643.0 875.3 L644.8 875.8 L646.5 876.3 L648.3 876.8 L649.7 877.2 L651.1 877.7 L652.5 878.1 L653.9 878.6 L655.4 879.0 L656.8 879.5" fill="none" stroke="#4f9a4a" stroke-opacity="0.18" stroke-width="1" transform="translate(0 2.5)"/></g><rect x="130.9" y="795.9" width="586.10" height="585.00" fill="none" stroke="#000" stroke-width="1.8"/><text transform="matrix(0.34788 0 0 0.31438 103.56 1418.19)" font-size="100" fill="#000" stroke="#000" stroke-width="0.91">−</text><text transform="matrix(0.27183 0 0 0.28610 125.93 1416.20)" font-size="100" fill="#000" stroke="#000" stroke-width="1.08">1</text><text transform="matrix(0.28462 0 0 0.28843 142.88 1416.30)" font-size="100" fill="#000" stroke="#000" stroke-width="1.05">0</text><text transform="matrix(0.34788 0 0 0.31438 258.67 1418.19)" font-size="100" fill="#000" stroke="#000" stroke-width="0.91">−</text><text transform="matrix(0.26861 0 0 0.28757 281.15 1416.30)" font-size="100" fill="#000" stroke="#000" stroke-width="1.08">5</text><text transform="matrix(0.28462 0 0 0.28843 416.03 1416.30)" font-size="100" fill="#000" stroke="#000" stroke-width="1.05">0</text><text transform="matrix(0.26861 0 0 0.28757 562.89 1416.30)" font-size="100" fill="#000" stroke="#000" stroke-width="1.08">5</text><text transform="matrix(0.27183 0 0 0.28610 700.72 1416.20)" font-size="100" fill="#000" stroke="#000" stroke-width="1.08">1</text><text transform="matrix(0.28462 0 0 0.28843 717.67 1416.30)" font-size="100" fill="#000" stroke="#000" stroke-width="1.05">0</text><text transform="matrix(0.34788 0 0 0.31438 33.50 1393.29)" font-size="100" fill="#000" stroke="#000" stroke-width="0.91">−</text><text transform="matrix(0.27183 0 0 0.28610 55.88 1391.30)" font-size="100" fill="#000" stroke="#000" stroke-width="1.08">1</text><text transform="matrix(0.28462 0 0 0.28843 72.83 1391.40)" font-size="100" fill="#000" stroke="#000" stroke-width="1.05">0</text><text transform="matrix(0.29215 0 0 0.31315 89.56 1391.30)" font-size="100" fill="#000" stroke="#000" stroke-width="0.99">.</text><text transform="matrix(0.28462 0 0 0.28843 98.59 1391.40)" font-size="100" fill="#000" stroke="#000" stroke-width="1.05">0</text><text transform="matrix(0.34788 0 0 0.31438 50.68 1320.17)" font-size="100" fill="#000" stroke="#000" stroke-width="0.91">−</text><text transform="matrix(0.27841 0 0 0.28610 72.95 1318.18)" font-size="100" fill="#000" stroke="#000" stroke-width="1.06">7</text><text transform="matrix(0.29215 0 0 0.31315 89.56 1318.18)" font-size="100" fill="#000" stroke="#000" stroke-width="0.99">.</text><text transform="matrix(0.26861 0 0 0.28757 98.93 1318.28)" font-size="100" fill="#000" stroke="#000" stroke-width="1.08">5</text><text transform="matrix(0.34788 0 0 0.31438 50.68 1247.04)" font-size="100" fill="#000" stroke="#000" stroke-width="0.91">−</text><text transform="matrix(0.26861 0 0 0.28757 73.17 1245.15)" font-size="100" fill="#000" stroke="#000" stroke-width="1.08">5</text><text transform="matrix(0.29215 0 0 0.31315 89.56 1245.05)" font-size="100" fill="#000" stroke="#000" stroke-width="0.99">.</text><text transform="matrix(0.28462 0 0 0.28843 98.59 1245.15)" font-size="100" fill="#000" stroke="#000" stroke-width="1.05">0</text><text transform="matrix(0.34788 0 0 0.31438 50.68 1173.92)" font-size="100" fill="#000" stroke="#000" stroke-width="0.91">−</text><text transform="matrix(0.27434 0 0 0.28699 72.76 1171.93)" font-size="100" fill="#000" stroke="#000" stroke-width="1.07">2</text><text transform="matrix(0.29215 0 0 0.31315 89.56 1171.93)" font-size="100" fill="#000" stroke="#000" stroke-width="0.99">.</text><text transform="matrix(0.26861 0 0 0.28757 98.93 1172.03)" font-size="100" fill="#000" stroke="#000" stroke-width="1.08">5</text><text transform="matrix(0.28462 0 0 0.28843 72.83 1098.90)" font-size="100" fill="#000" stroke="#000" stroke-width="1.05">0</text><text transform="matrix(0.29215 0 0 0.31315 89.56 1098.80)" font-size="100" fill="#000" stroke="#000" stroke-width="0.99">.</text><text transform="matrix(0.28462 0 0 0.28843 98.59 1098.90)" font-size="100" fill="#000" stroke="#000" stroke-width="1.05">0</text><text transform="matrix(0.27434 0 0 0.28699 72.76 1025.68)" font-size="100" fill="#000" stroke="#000" stroke-width="1.07">2</text><text transform="matrix(0.29215 0 0 0.31315 89.56 1025.68)" font-size="100" fill="#000" stroke="#000" stroke-width="0.99">.</text><text transform="matrix(0.26861 0 0 0.28757 98.93 1025.78)" font-size="100" fill="#000" stroke="#000" stroke-width="1.08">5</text><text transform="matrix(0.26861 0 0 0.28757 73.17 952.65)" font-size="100" fill="#000" stroke="#000" stroke-width="1.08">5</text><text transform="matrix(0.29215 0 0 0.31315 89.56 952.55)" font-size="100" fill="#000" stroke="#000" stroke-width="0.99">.</text><text transform="matrix(0.28462 0 0 0.28843 98.59 952.65)" font-size="100" fill="#000" stroke="#000" stroke-width="1.05">0</text><text transform="matrix(0.27841 0 0 0.28610 72.95 879.42)" font-size="100" fill="#000" stroke="#000" stroke-width="1.06">7</text><text transform="matrix(0.29215 0 0 0.31315 89.56 879.42)" font-size="100" fill="#000" stroke="#000" stroke-width="0.99">.</text><text transform="matrix(0.26861 0 0 0.28757 98.93 879.53)" font-size="100" fill="#000" stroke="#000" stroke-width="1.08">5</text><text transform="matrix(0.27183 0 0 0.28610 55.88 806.30)" font-size="100" fill="#000" stroke="#000" stroke-width="1.08">1</text><text transform="matrix(0.28462 0 0 0.28843 72.83 806.40)" font-size="100" fill="#000" stroke="#000" stroke-width="1.05">0</text><text transform="matrix(0.29215 0 0 0.31315 89.56 806.30)" font-size="100" fill="#000" stroke="#000" stroke-width="0.99">.</text><text transform="matrix(0.28462 0 0 0.28843 98.59 806.40)" font-size="100" fill="#000" stroke="#000" stroke-width="1.05">0</text><path d="M130.90 1380.90v7.9 M277.43 1380.90v7.9 M423.95 1380.90v7.9 M570.48 1380.90v7.9 M717.00 1380.90v7.9 M130.90 1380.90h-7.9 M130.90 1307.78h-7.9 M130.90 1234.65h-7.9 M130.90 1161.53h-7.9 M130.90 1088.40h-7.9 M130.90 1015.28h-7.9 M130.90 942.15h-7.9 M130.90 869.02h-7.9 M130.90 795.90h-7.9" stroke="#000" stroke-width="1.8" fill="none"/><text transform="matrix(0.29951 0 0 0.27948 379.87 1450.60)" font-size="100" fill="#000" stroke="#000" stroke-width="1.04">x</text><text transform="matrix(0.22823 0 0 0.25811 404.90 1448.82)" font-size="100" fill="#000" stroke="#000" stroke-width="1.23">(</text><text transform="matrix(0.29110 0 0 0.28103 415.04 1450.60)" font-size="100" fill="#000" stroke="#000" stroke-width="1.05">n</text><text transform="matrix(0.30763 0 0 0.28103 432.05 1450.60)" font-size="100" fill="#000" stroke="#000" stroke-width="1.02">m</text><text transform="matrix(0.22823 0 0 0.25811 459.97 1448.82)" font-size="100" fill="#000" stroke="#000" stroke-width="1.23">)</text><g transform="translate(20.00 1088.40) rotate(-90)"><text transform="matrix(0.28995 0 0 0.27699 -43.79 -0.13)" font-size="100" fill="#000" stroke="#000" stroke-width="1.06">y</text><text transform="matrix(0.22823 0 0 0.25811 -19.05 -1.78)" font-size="100" fill="#000" stroke="#000" stroke-width="1.23">(</text><text transform="matrix(0.29110 0 0 0.28103 -8.91 0.00)" font-size="100" fill="#000" stroke="#000" stroke-width="1.05">n</text><text transform="matrix(0.30763 0 0 0.28103 8.10 0.00)" font-size="100" fill="#000" stroke="#000" stroke-width="1.02">m</text><text transform="matrix(0.22823 0 0 0.25811 36.02 -1.78)" font-size="100" fill="#000" stroke="#000" stroke-width="1.23">)</text></g><text transform="matrix(0.39653 0 0 0.33261 133.07 829.40)" font-size="100" fill="#000" stroke="#000" stroke-width="1.65">#</text><text transform="matrix(0.29427 0 0 0.33864 157.65 829.52)" font-size="100" fill="#000" stroke="#000" stroke-width="0.95">C</text><text transform="matrix(0.31534 0 0 0.33590 180.02 829.40)" font-size="100" fill="#000" stroke="#000" stroke-width="0.92">H</text><text transform="matrix(0.31337 0 0 0.33864 203.63 829.52)" font-size="100" fill="#000" stroke="#000" stroke-width="0.92">O</text><text transform="matrix(0.32613 0 0 0.33590 228.72 829.40)" font-size="100" fill="#000" stroke="#000" stroke-width="0.91">L</text><text transform="matrix(0.31915 0 0 0.33590 257.07 829.40)" font-size="100" fill="#000" stroke="#000" stroke-width="0.92">1</text><text transform="matrix(0.31915 0 0 0.33590 277.24 829.40)" font-size="100" fill="#000" stroke="#000" stroke-width="0.92">1</text><text transform="matrix(0.34585 0 0 0.33864 296.82 829.52)" font-size="100" fill="#000" stroke="#000" stroke-width="0.88">6</text><clipPath id="clipD"><rect x="898.9" y="795.9" width="586.10" height="585.00"/></clipPath><g clip-path="url(#clipD)"><ellipse cx="1191.95" cy="1088.40" rx="205.13" ry="204.75" fill="#80bf80"/><path d="M1245.7 798.6C1252.9 797.5 1259.1 801.6 1264.6 803.3C1270.0 805.0 1273.3 807.1 1278.4 808.8C1283.5 810.5 1289.6 812.5 1295.0 813.6C1300.4 814.7 1305.1 814.8 1310.7 815.5C1316.4 816.2 1323.0 817.6 1329.0 817.8C1335.1 818.0 1340.9 817.0 1347.0 817.0C1353.2 817.0 1359.8 818.2 1366.0 818.0C1372.3 817.8 1378.6 816.8 1384.8 816.0C1391.0 815.3 1397.3 814.8 1403.1 813.6C1409.0 812.5 1414.6 810.4 1419.8 809.2C1425.0 807.9 1429.3 806.9 1434.4 806.1C1439.6 805.3 1444.4 802.5 1450.8 804.1C1457.1 805.8 1467.4 809.9 1472.5 816.0C1477.6 822.1 1481.5 832.9 1481.3 840.7C1481.1 848.5 1476.1 857.6 1471.2 862.8C1466.4 868.0 1458.0 869.8 1452.0 871.9C1445.9 874.1 1440.7 874.4 1434.9 875.8C1429.2 877.2 1424.5 879.0 1417.7 880.4C1410.8 881.7 1401.6 883.0 1393.7 884.0C1385.9 884.9 1378.3 885.9 1370.5 886.2C1362.7 886.5 1354.7 886.0 1347.0 886.0C1339.3 886.0 1331.7 886.5 1324.1 886.0C1316.6 885.5 1309.3 884.2 1301.7 883.1C1294.1 882.1 1285.8 881.4 1278.8 879.9C1271.7 878.4 1265.6 876.1 1259.6 874.2C1253.5 872.3 1248.7 870.9 1242.6 868.6C1236.4 866.3 1228.1 865.7 1222.8 860.3C1217.5 854.9 1210.9 844.6 1210.6 836.2C1210.4 827.7 1215.4 815.8 1221.3 809.5C1227.1 803.2 1238.5 799.6 1245.7 798.6Z" fill="#fff" fill-opacity="0.9" stroke="#e2e8f2" stroke-width="4.6"/><path d="M1246.1 800.6C1252.9 799.7 1258.7 803.6 1263.9 805.3C1269.2 807.0 1272.6 809.1 1277.8 810.8C1282.9 812.5 1289.1 814.5 1294.6 815.7C1300.1 816.8 1304.7 816.9 1310.5 817.6C1316.2 818.3 1322.9 819.7 1329.0 819.9C1335.0 820.1 1340.8 819.1 1347.0 819.1C1353.2 819.1 1359.8 820.3 1366.1 820.1C1372.4 819.9 1378.8 818.9 1385.0 818.1C1391.3 817.4 1397.7 816.8 1403.5 815.7C1409.4 814.5 1415.1 812.5 1420.3 811.2C1425.5 810.0 1429.8 809.0 1434.8 808.2C1439.8 807.3 1444.2 804.6 1450.3 806.2C1456.3 807.7 1466.1 811.6 1470.9 817.4C1475.8 823.1 1479.4 833.3 1479.2 840.6C1479.0 847.9 1474.4 856.5 1469.7 861.4C1465.1 866.2 1457.2 867.9 1451.3 869.9C1445.4 872.0 1440.1 872.4 1434.4 873.8C1428.8 875.2 1424.1 877.0 1417.3 878.3C1410.4 879.7 1401.3 880.9 1393.5 881.9C1385.7 882.8 1378.1 883.8 1370.4 884.1C1362.6 884.4 1354.7 883.9 1347.0 883.9C1339.3 883.9 1331.8 884.4 1324.3 883.9C1316.8 883.4 1309.5 882.1 1302.0 881.1C1294.5 880.1 1286.1 879.3 1279.2 877.8C1272.2 876.3 1266.2 874.0 1260.2 872.2C1254.3 870.3 1249.4 868.9 1243.4 866.7C1237.5 864.5 1229.5 864.0 1224.4 858.9C1219.3 853.8 1213.0 844.1 1212.7 836.1C1212.5 828.1 1217.3 816.8 1222.9 810.8C1228.5 804.9 1239.2 801.6 1246.1 800.6Z" fill="none" stroke="#c3cde0" stroke-width="0.9"/><path d="M1245.3 796.5C1252.9 795.4 1259.5 799.5 1265.2 801.3C1270.8 803.0 1274.0 805.1 1279.1 806.8C1284.1 808.5 1290.1 810.5 1295.5 811.6C1300.8 812.7 1305.4 812.8 1311.0 813.5C1316.6 814.1 1323.1 815.5 1329.1 815.7C1335.1 815.9 1340.9 814.9 1347.0 814.9C1353.2 814.9 1359.7 816.1 1366.0 815.9C1372.2 815.7 1378.4 814.7 1384.5 814.0C1390.7 813.2 1396.9 812.7 1402.7 811.6C1408.5 810.4 1414.1 808.4 1419.3 807.1C1424.5 805.9 1428.8 804.9 1434.1 804.0C1439.4 803.2 1444.6 800.3 1451.3 802.1C1457.9 803.9 1468.8 808.2 1474.1 814.7C1479.5 821.1 1483.6 832.4 1483.4 840.7C1483.2 849.0 1477.9 858.8 1472.7 864.3C1467.6 869.8 1458.9 871.6 1452.7 873.9C1446.4 876.2 1441.2 876.4 1435.4 877.9C1429.7 879.3 1425.0 881.1 1418.1 882.4C1411.2 883.8 1401.9 885.1 1394.0 886.0C1386.1 887.0 1378.4 887.9 1370.6 888.3C1362.7 888.6 1354.7 888.1 1347.0 888.1C1339.2 888.1 1331.6 888.6 1324.0 888.1C1316.4 887.6 1309.0 886.3 1301.4 885.2C1293.8 884.2 1285.4 883.4 1278.3 881.9C1271.2 880.4 1265.0 878.1 1258.9 876.2C1252.8 874.3 1248.0 872.9 1241.7 870.5C1235.4 868.1 1226.8 867.4 1221.3 861.7C1215.7 856.0 1208.8 845.2 1208.5 836.2C1208.2 827.3 1213.5 814.8 1219.7 808.2C1225.8 801.5 1237.7 797.7 1245.3 796.5Z" fill="none" stroke="#c3cde0" stroke-width="0.9"/><circle cx="1227.2" cy="822.0" r="5.6" fill="#d3d3d3" fill-opacity="0.42"/><circle cx="1236.5" cy="856.0" r="5.6" fill="#d3d3d3" fill-opacity="0.42"/><circle cx="1303.5" cy="829.2" r="5.6" fill="#d3d3d3" fill-opacity="0.42"/><circle cx="1372.7" cy="871.5" r="5.6" fill="#d3d3d3" fill-opacity="0.42"/><circle cx="1363.4" cy="884.9" r="5.6" fill="#d3d3d3" fill-opacity="0.42"/><circle cx="1273.6" cy="808.6" r="5.6" fill="#ffe4b5" fill-opacity="0.42"/><circle cx="1246.8" cy="819.9" r="5.6" fill="#ffe4b5" fill-opacity="0.42"/><circle cx="1165.2" cy="807.1" r="5.6" fill="#d3d3d3"/><circle cx="1113.6" cy="835.0" r="5.6" fill="#d3d3d3"/><circle cx="1127.6" cy="841.0" r="5.6" fill="#d3d3d3"/><circle cx="1145.6" cy="835.0" r="5.6" fill="#d3d3d3"/><circle cx="1158.4" cy="828.8" r="5.6" fill="#d3d3d3"/><circle cx="1031.3" cy="839.9" r="5.6" fill="#d3d3d3"/><circle cx="973.5" cy="856.4" r="5.6" fill="#d3d3d3"/><circle cx="1027.6" cy="853.5" r="5.6" fill="#d3d3d3"/><circle cx="1057.7" cy="862.0" r="5.6" fill="#d3d3d3"/><circle cx="1092.4" cy="870.1" r="5.6" fill="#d3d3d3"/><circle cx="1065.1" cy="879.5" r="5.6" fill="#d3d3d3"/><circle cx="1068.2" cy="896.3" r="5.6" fill="#d3d3d3"/><circle cx="1055.4" cy="910.1" r="5.6" fill="#d3d3d3"/><circle cx="999.7" cy="928.2" r="5.6" fill="#d3d3d3"/><circle cx="972.5" cy="947.4" r="5.6" fill="#d3d3d3"/><circle cx="1152.2" cy="868.8" r="5.6" fill="#d3d3d3"/><circle cx="1187.5" cy="872.7" r="5.6" fill="#d3d3d3"/><circle cx="1003.6" cy="983.3" r="5.6" fill="#d3d3d3"/><circle cx="940.5" cy="1033.9" r="5.6" fill="#d3d3d3"/><circle cx="957.8" cy="1035.1" r="5.6" fill="#d3d3d3"/><circle cx="988.8" cy="1041.5" r="5.6" fill="#d3d3d3"/><circle cx="913.7" cy="1077.8" r="5.6" fill="#d3d3d3"/><circle cx="898.0" cy="1083.0" r="5.6" fill="#d3d3d3"/><circle cx="1209.5" cy="860.2" r="5.6" fill="#d3d3d3"/><circle cx="1226.4" cy="866.3" r="5.6" fill="#d3d3d3"/><circle cx="1359.9" cy="895.8" r="5.6" fill="#d3d3d3"/><circle cx="1372.0" cy="897.7" r="5.6" fill="#d3d3d3"/><circle cx="1395.8" cy="921.4" r="5.6" fill="#d3d3d3"/><circle cx="1445.3" cy="1033.1" r="5.6" fill="#d3d3d3"/><circle cx="1417.0" cy="1056.8" r="5.6" fill="#d3d3d3"/><circle cx="1427.3" cy="1089.2" r="5.6" fill="#d3d3d3"/><circle cx="942.8" cy="1095.9" r="5.6" fill="#d3d3d3"/><circle cx="961.5" cy="1106.7" r="5.6" fill="#d3d3d3"/><circle cx="970.2" cy="1115.3" r="5.6" fill="#d3d3d3"/><circle cx="939.9" cy="1137.4" r="5.6" fill="#d3d3d3"/><circle cx="938.4" cy="1198.9" r="5.6" fill="#d3d3d3"/><circle cx="977.8" cy="1200.3" r="5.6" fill="#d3d3d3"/><circle cx="928.5" cy="1227.8" r="5.6" fill="#d3d3d3"/><circle cx="956.2" cy="1233.6" r="5.6" fill="#d3d3d3"/><circle cx="998.3" cy="1230.9" r="5.6" fill="#d3d3d3"/><circle cx="1029.4" cy="1240.4" r="5.6" fill="#d3d3d3"/><circle cx="1045.7" cy="1247.8" r="5.6" fill="#d3d3d3"/><circle cx="1085.1" cy="1273.6" r="5.6" fill="#d3d3d3"/><circle cx="974.5" cy="1277.1" r="5.6" fill="#d3d3d3"/><circle cx="1031.1" cy="1282.2" r="5.6" fill="#d3d3d3"/><circle cx="1055.4" cy="1304.7" r="5.6" fill="#d3d3d3"/><circle cx="1069.9" cy="1311.3" r="5.6" fill="#d3d3d3"/><circle cx="1080.6" cy="1302.1" r="5.6" fill="#d3d3d3"/><circle cx="1030.5" cy="1327.4" r="5.6" fill="#d3d3d3"/><circle cx="1140.4" cy="1367.3" r="5.6" fill="#d3d3d3"/><circle cx="1157.6" cy="1362.3" r="5.6" fill="#d3d3d3"/><circle cx="1085.6" cy="1373.9" r="5.6" fill="#d3d3d3"/><circle cx="1417.6" cy="1108.7" r="5.6" fill="#d3d3d3"/><circle cx="1462.4" cy="1102.5" r="5.6" fill="#d3d3d3"/><circle cx="1447.4" cy="1130.0" r="5.6" fill="#d3d3d3"/><circle cx="1397.0" cy="1132.7" r="5.6" fill="#d3d3d3"/><circle cx="1475.8" cy="1167.5" r="5.6" fill="#d3d3d3"/><circle cx="1446.1" cy="1191.1" r="5.6" fill="#d3d3d3"/><circle cx="1444.9" cy="1198.9" r="5.6" fill="#d3d3d3"/><circle cx="1435.2" cy="1209.4" r="5.6" fill="#d3d3d3"/><circle cx="1434.1" cy="1227.4" r="5.6" fill="#d3d3d3"/><circle cx="1349.6" cy="1224.9" r="5.6" fill="#d3d3d3"/><circle cx="1337.4" cy="1235.0" r="5.6" fill="#d3d3d3"/><circle cx="1374.3" cy="1246.3" r="5.6" fill="#d3d3d3"/><circle cx="1402.2" cy="1251.7" r="5.6" fill="#d3d3d3"/><circle cx="1391.2" cy="1279.2" r="5.6" fill="#d3d3d3"/><circle cx="1352.6" cy="1296.9" r="5.6" fill="#d3d3d3"/><circle cx="1207.6" cy="1300.6" r="5.6" fill="#d3d3d3"/><circle cx="1200.8" cy="1335.3" r="5.6" fill="#d3d3d3"/><circle cx="1287.4" cy="1331.4" r="5.6" fill="#d3d3d3"/><circle cx="1259.8" cy="1339.0" r="5.6" fill="#d3d3d3"/><circle cx="1247.4" cy="1348.9" r="5.6" fill="#d3d3d3"/><circle cx="1277.1" cy="1353.6" r="5.6" fill="#d3d3d3"/><circle cx="1217.3" cy="1358.6" r="5.6" fill="#d3d3d3"/><circle cx="1231.3" cy="1359.4" r="5.6" fill="#d3d3d3"/><circle cx="1229.9" cy="1364.0" r="5.6" fill="#d3d3d3"/><circle cx="1176.1" cy="823.6" r="5.6" fill="#ffe4b5"/><circle cx="1033.4" cy="918.3" r="5.6" fill="#ffe4b5"/><circle cx="1011.3" cy="967.0" r="5.6" fill="#ffe4b5"/><circle cx="910.0" cy="996.3" r="5.6" fill="#ffe4b5"/><circle cx="974.8" cy="990.1" r="5.6" fill="#ffe4b5"/><circle cx="961.1" cy="1008.9" r="5.6" fill="#ffe4b5"/><circle cx="963.4" cy="1060.5" r="5.6" fill="#ffe4b5"/><circle cx="1141.7" cy="871.1" r="5.6" fill="#ffe4b5"/><circle cx="1173.0" cy="873.4" r="5.6" fill="#ffe4b5"/><circle cx="1207.0" cy="814.3" r="5.6" fill="#ffe4b5"/><circle cx="1372.7" cy="959.2" r="5.6" fill="#ffe4b5"/><circle cx="1406.3" cy="959.2" r="5.6" fill="#ffe4b5"/><circle cx="1432.1" cy="955.1" r="5.6" fill="#ffe4b5"/><circle cx="1369.2" cy="979.8" r="5.6" fill="#ffe4b5"/><circle cx="1483.0" cy="1082.6" r="5.6" fill="#ffe4b5"/><circle cx="919.9" cy="1229.6" r="5.6" fill="#ffe4b5"/><circle cx="931.6" cy="1251.1" r="5.6" fill="#ffe4b5"/><circle cx="1040.4" cy="1297.7" r="5.6" fill="#ffe4b5"/><circle cx="1006.7" cy="1309.5" r="5.6" fill="#ffe4b5"/><circle cx="1055.4" cy="1345.4" r="5.6" fill="#ffe4b5"/><circle cx="1049.2" cy="1357.4" r="5.6" fill="#ffe4b5"/><circle cx="1112.6" cy="1374.5" r="5.6" fill="#ffe4b5"/><circle cx="1184.2" cy="1328.5" r="5.6" fill="#ffe4b5"/><circle cx="1187.9" cy="1379.6" r="5.6" fill="#ffe4b5"/><circle cx="1442.0" cy="1113.1" r="5.6" fill="#ffe4b5"/><circle cx="1412.7" cy="1189.8" r="5.6" fill="#ffe4b5"/><circle cx="1393.3" cy="1265.5" r="5.6" fill="#ffe4b5"/><circle cx="1286.6" cy="1278.1" r="5.6" fill="#ffe4b5"/><circle cx="1289.5" cy="1309.1" r="5.6" fill="#ffe4b5"/><circle cx="1387.7" cy="1309.1" r="5.6" fill="#ffe4b5"/><circle cx="1140.6" cy="904.7" r="5.6" fill="#000000"/><circle cx="1169.3" cy="901.8" r="5.6" fill="#000000"/><circle cx="1062.9" cy="939.4" r="5.6" fill="#000000"/><circle cx="1132.6" cy="940.2" r="5.6" fill="#000000"/><circle cx="1099.8" cy="950.9" r="5.6" fill="#000000"/><circle cx="1136.3" cy="958.2" r="5.6" fill="#000000"/><circle cx="1133.4" cy="978.8" r="5.6" fill="#000000"/><circle cx="1148.5" cy="975.7" r="5.6" fill="#000000"/><circle cx="1191.0" cy="982.9" r="5.6" fill="#000000"/><circle cx="1045.3" cy="983.3" r="5.6" fill="#000000"/><circle cx="1083.1" cy="982.9" r="5.6" fill="#000000"/><circle cx="1167.3" cy="1000.9" r="5.6" fill="#000000"/><circle cx="1063.1" cy="1009.7" r="5.6" fill="#000000"/><circle cx="1096.5" cy="1011.6" r="5.6" fill="#000000"/><circle cx="1111.5" cy="1027.1" r="5.6" fill="#000000"/><circle cx="1041.8" cy="1058.6" r="5.6" fill="#000000"/><circle cx="1158.4" cy="1058.2" r="5.6" fill="#000000"/><circle cx="1145.2" cy="1070.0" r="5.6" fill="#000000"/><circle cx="1082.7" cy="1082.0" r="5.6" fill="#000000"/><circle cx="1219.4" cy="910.3" r="5.6" fill="#000000"/><circle cx="1200.4" cy="942.1" r="5.6" fill="#000000"/><circle cx="1219.4" cy="948.9" r="5.6" fill="#000000"/><circle cx="1234.4" cy="958.2" r="5.6" fill="#000000"/><circle cx="1199.3" cy="973.2" r="5.6" fill="#000000"/><circle cx="1225.1" cy="975.7" r="5.6" fill="#000000"/><circle cx="1267.4" cy="970.5" r="5.6" fill="#000000"/><circle cx="1269.1" cy="1012.8" r="5.6" fill="#000000"/><circle cx="1338.6" cy="1010.8" r="5.6" fill="#000000"/><circle cx="1364.0" cy="1011.2" r="5.6" fill="#000000"/><circle cx="1333.7" cy="1025.6" r="5.6" fill="#000000"/><circle cx="1333.5" cy="1046.7" r="5.6" fill="#000000"/><circle cx="1214.2" cy="1029.8" r="5.6" fill="#000000"/><circle cx="1195.6" cy="1037.0" r="5.6" fill="#000000"/><circle cx="1353.3" cy="1076.4" r="5.6" fill="#000000"/><circle cx="1267.4" cy="1087.5" r="5.6" fill="#000000"/><circle cx="1334.5" cy="1087.5" r="5.6" fill="#000000"/><circle cx="1014.2" cy="1102.1" r="5.6" fill="#000000"/><circle cx="1028.4" cy="1095.3" r="5.6" fill="#000000"/><circle cx="1116.3" cy="1095.9" r="5.6" fill="#000000"/><circle cx="1133.4" cy="1106.9" r="5.6" fill="#000000"/><circle cx="1144.4" cy="1120.7" r="5.6" fill="#000000"/><circle cx="1184.6" cy="1112.0" r="5.6" fill="#000000"/><circle cx="1182.5" cy="1123.8" r="5.6" fill="#000000"/><circle cx="1065.5" cy="1126.9" r="5.6" fill="#000000"/><circle cx="1010.2" cy="1138.9" r="5.6" fill="#000000"/><circle cx="1053.4" cy="1169.6" r="5.6" fill="#000000"/><circle cx="1144.6" cy="1235.0" r="5.6" fill="#000000"/><circle cx="1129.1" cy="1260.8" r="5.6" fill="#000000"/><circle cx="1141.3" cy="1264.9" r="5.6" fill="#000000"/><circle cx="1275.3" cy="1108.9" r="5.6" fill="#000000"/><circle cx="1213.6" cy="1127.7" r="5.6" fill="#000000"/><circle cx="1256.9" cy="1132.5" r="5.6" fill="#000000"/><circle cx="1204.3" cy="1143.4" r="5.6" fill="#000000"/><circle cx="1290.8" cy="1149.4" r="5.6" fill="#000000"/><circle cx="1358.2" cy="1135.6" r="5.6" fill="#000000"/><circle cx="1384.4" cy="1140.9" r="5.6" fill="#000000"/><circle cx="1363.2" cy="1157.6" r="5.6" fill="#000000"/><circle cx="1227.0" cy="1182.0" r="5.6" fill="#000000"/><circle cx="1294.7" cy="1181.1" r="5.6" fill="#000000"/><circle cx="1202.0" cy="1198.5" r="5.6" fill="#000000"/><circle cx="1276.3" cy="1213.3" r="5.6" fill="#000000"/><circle cx="1230.7" cy="1227.4" r="5.6" fill="#000000"/><circle cx="1269.3" cy="1244.5" r="5.6" fill="#000000"/><circle cx="1124.3" cy="909.9" r="5.6" fill="#ffa500"/><circle cx="1050.1" cy="944.3" r="5.6" fill="#ffa500"/><circle cx="1115.7" cy="956.9" r="5.6" fill="#ffa500"/><circle cx="1124.3" cy="1059.7" r="5.6" fill="#ffa500"/><circle cx="1179.0" cy="1082.6" r="5.6" fill="#ffa500"/><circle cx="1092.6" cy="1087.5" r="5.6" fill="#ffa500"/><circle cx="1375.8" cy="1009.9" r="5.6" fill="#ffa500"/><circle cx="1374.7" cy="1087.5" r="5.6" fill="#ffa500"/><circle cx="1037.1" cy="1114.3" r="5.6" fill="#ffa500"/><circle cx="1101.0" cy="1117.6" r="5.6" fill="#ffa500"/><circle cx="1080.8" cy="1138.0" r="5.6" fill="#ffa500"/><circle cx="1155.7" cy="1222.8" r="5.6" fill="#ffa500"/><circle cx="1168.1" cy="1245.9" r="5.6" fill="#ffa500"/><circle cx="1241.6" cy="1092.2" r="5.6" fill="#ffa500"/><circle cx="1311.4" cy="1093.9" r="5.6" fill="#ffa500"/><circle cx="1320.3" cy="1123.4" r="5.6" fill="#ffa500"/><circle cx="1279.2" cy="1130.6" r="5.6" fill="#ffa500"/><circle cx="1366.7" cy="1137.4" r="5.6" fill="#ffa500"/><circle cx="1304.6" cy="1148.5" r="5.6" fill="#ffa500"/><circle cx="1341.5" cy="1146.1" r="5.6" fill="#ffa500"/><circle cx="1218.7" cy="1213.5" r="5.6" fill="#ffa500"/><circle cx="1207.8" cy="1235.0" r="5.6" fill="#ffa500"/><path d="M1249.9 810.0Q1252.6 819.7 1253.0 830.8M1246.0 810.8Q1246.9 820.8 1250.7 831.3M1263.3 814.4Q1261.2 824.2 1256.4 834.2M1259.4 813.2Q1255.6 822.5 1254.1 833.5M1276.8 819.9Q1274.4 829.6 1269.3 839.5M1273.0 818.6Q1268.9 827.8 1267.0 838.7M1294.7 824.8Q1293.6 834.8 1289.7 845.2M1290.8 824.0Q1287.9 833.6 1287.3 844.7M1311.4 826.7Q1311.0 836.7 1308.0 847.5M1307.4 826.2Q1305.3 836.0 1305.6 847.2M1330.6 828.9Q1331.1 838.9 1328.9 849.8M1326.6 828.7Q1325.3 838.7 1326.5 849.7M1349.0 828.0Q1349.8 838.0 1348.1 849.0M1345.0 828.0Q1344.0 838.0 1345.7 849.0M1368.3 828.9Q1369.5 838.9 1368.1 850.0M1364.3 829.1Q1363.7 839.1 1365.7 850.0M1388.1 826.7Q1390.1 836.6 1389.7 847.7M1384.1 827.2Q1384.4 837.2 1387.4 848.0M1407.2 824.0Q1410.0 833.7 1410.5 844.8M1403.3 824.8Q1404.3 834.8 1408.1 845.2M1424.3 819.4Q1427.5 828.9 1428.4 840.0M1420.4 820.3Q1421.9 830.3 1426.1 840.6M1438.3 816.6Q1441.0 826.3 1441.2 837.4M1434.4 817.3Q1435.3 827.3 1438.9 837.8M1450.0 815.3Q1448.5 825.3 1444.2 835.5M1446.2 814.4Q1442.9 823.9 1441.9 834.9M1465.0 824.4Q1462.0 827.8 1458.9 831.9M1462.9 822.0Q1459.1 824.4 1454.5 826.7M1470.0 842.0Q1465.4 842.5 1460.4 843.5M1470.0 838.8Q1465.6 838.1 1460.6 836.7M1462.1 856.2Q1458.5 853.5 1454.0 850.8M1464.3 853.9Q1461.5 850.3 1458.8 846.0M1446.5 862.1Q1442.4 853.0 1440.4 842.0M1450.3 860.8Q1447.8 851.1 1442.6 841.2M1430.4 865.6Q1427.1 856.1 1426.1 845.1M1434.2 864.7Q1432.7 854.7 1428.4 844.5M1413.6 870.0Q1410.7 860.3 1410.3 849.2M1417.5 869.2Q1416.4 859.2 1412.6 848.8M1390.4 873.3Q1388.3 863.5 1388.6 852.3M1394.4 872.8Q1394.0 862.8 1391.0 852.0M1368.0 875.3Q1366.7 865.3 1367.9 854.3M1372.0 875.1Q1372.4 865.1 1370.3 854.2M1345.0 875.0Q1344.2 865.0 1345.9 854.0M1349.0 875.0Q1350.0 865.0 1348.3 854.0M1322.8 874.9Q1322.5 864.8 1324.9 854.0M1326.8 875.1Q1328.3 865.2 1327.3 854.1M1301.2 872.0Q1301.6 861.9 1304.8 851.3M1305.2 872.5Q1307.4 862.7 1307.2 851.6M1279.1 868.7Q1280.3 858.7 1284.2 848.3M1283.0 869.5Q1286.0 859.9 1286.6 848.8M1261.2 863.1Q1263.6 853.4 1268.8 843.5M1265.0 864.4Q1269.1 855.2 1271.0 844.3M1245.8 856.8Q1249.1 847.4 1255.2 838.1M1249.4 858.5Q1254.4 849.8 1257.4 839.1M1232.5 849.5Q1235.4 846.0 1238.3 841.8M1234.6 851.9Q1238.3 849.3 1242.9 846.8M1226.7 834.0Q1231.2 833.3 1236.2 831.9M1226.9 837.2Q1231.4 837.7 1236.4 838.7M1233.4 817.5Q1237.2 819.9 1241.8 822.2M1231.3 819.9Q1234.4 823.3 1237.5 827.4" fill="none" stroke="#bccde9" stroke-width="1.45" stroke-linecap="round"/><polygon points="1280.4,838.2 1276.5,840.5 1272.6,838.2 1272.6,833.8 1276.5,831.5 1280.4,833.8" fill="#8c94cd"/><polygon points="1283.9,831.8 1280.0,834.0 1276.1,831.8 1276.1,827.2 1280.0,825.0 1283.9,827.2" fill="#6171b3"/><polygon points="1281.9,826.2 1278.0,828.5 1274.1,826.2 1274.1,821.8 1278.0,819.5 1281.9,821.8" fill="#8c94cd"/><polygon points="1285.9,819.2 1282.0,821.5 1278.1,819.2 1278.1,814.8 1282.0,812.5 1285.9,814.8" fill="#6171b3"/><polygon points="1299.9,844.2 1296.0,846.5 1292.1,844.2 1292.1,839.8 1296.0,837.5 1299.9,839.8" fill="#8c94cd"/><polygon points="1303.9,837.8 1300.0,840.0 1296.1,837.8 1296.1,833.2 1300.0,831.0 1303.9,833.2" fill="#6171b3"/><polygon points="1301.4,830.8 1297.5,833.0 1293.6,830.8 1293.6,826.2 1297.5,824.0 1301.4,826.2" fill="#8c94cd"/><polygon points="1304.4,824.2 1300.5,826.5 1296.6,824.2 1296.6,819.8 1300.5,817.5 1304.4,819.8" fill="#6171b3"/><polygon points="1319.4,848.2 1315.5,850.5 1311.6,848.2 1311.6,843.8 1315.5,841.5 1319.4,843.8" fill="#8c94cd"/><polygon points="1322.9,841.2 1319.0,843.5 1315.1,841.2 1315.1,836.8 1319.0,834.5 1322.9,836.8" fill="#6171b3"/><polygon points="1319.4,834.2 1315.5,836.5 1311.6,834.2 1311.6,829.8 1315.5,827.5 1319.4,829.8" fill="#8c94cd"/><polygon points="1323.4,827.8 1319.5,830.0 1315.6,827.8 1315.6,823.2 1319.5,821.0 1323.4,823.2" fill="#6171b3"/><polygon points="1340.9,849.2 1337.0,851.5 1333.1,849.2 1333.1,844.8 1337.0,842.5 1340.9,844.8" fill="#8c94cd"/><polygon points="1343.4,842.2 1339.5,844.5 1335.6,842.2 1335.6,837.8 1339.5,835.5 1343.4,837.8" fill="#6171b3"/><polygon points="1339.4,836.2 1335.5,838.5 1331.6,836.2 1331.6,831.8 1335.5,829.5 1339.4,831.8" fill="#8c94cd"/><polygon points="1342.4,829.8 1338.5,832.0 1334.6,829.8 1334.6,825.2 1338.5,823.0 1342.4,825.2" fill="#6171b3"/><polygon points="1360.9,849.8 1357.0,852.0 1353.1,849.8 1353.1,845.2 1357.0,843.0 1360.9,845.2" fill="#8c94cd"/><polygon points="1363.4,842.8 1359.5,845.0 1355.6,842.8 1355.6,838.2 1359.5,836.0 1363.4,838.2" fill="#6171b3"/><polygon points="1358.4,837.2 1354.5,839.5 1350.6,837.2 1350.6,832.8 1354.5,830.5 1358.4,832.8" fill="#8c94cd"/><polygon points="1361.4,830.2 1357.5,832.5 1353.6,830.2 1353.6,825.8 1357.5,823.5 1361.4,825.8" fill="#6171b3"/><polygon points="1381.4,848.2 1377.5,850.5 1373.6,848.2 1373.6,843.8 1377.5,841.5 1381.4,843.8" fill="#8c94cd"/><polygon points="1382.9,841.2 1379.0,843.5 1375.1,841.2 1375.1,836.8 1379.0,834.5 1382.9,836.8" fill="#6171b3"/><polygon points="1377.9,835.8 1374.0,838.0 1370.1,835.8 1370.1,831.2 1374.0,829.0 1377.9,831.2" fill="#8c94cd"/><polygon points="1379.9,828.8 1376.0,831.0 1372.1,828.8 1372.1,824.2 1376.0,822.0 1379.9,824.2" fill="#6171b3"/><polygon points="1400.4,845.8 1396.5,848.0 1392.6,845.8 1392.6,841.2 1396.5,839.0 1400.4,841.2" fill="#8c94cd"/><polygon points="1402.4,838.8 1398.5,841.0 1394.6,838.8 1394.6,834.2 1398.5,832.0 1402.4,834.2" fill="#6171b3"/><polygon points="1396.9,832.8 1393.0,835.0 1389.1,832.8 1389.1,828.2 1393.0,826.0 1396.9,828.2" fill="#8c94cd"/><polygon points="1399.4,825.8 1395.5,828.0 1391.6,825.8 1391.6,821.2 1395.5,819.0 1399.4,821.2" fill="#6171b3"/><polygon points="1421.9,841.2 1418.0,843.5 1414.1,841.2 1414.1,836.8 1418.0,834.5 1421.9,836.8" fill="#8c94cd"/><polygon points="1422.9,834.2 1419.0,836.5 1415.1,834.2 1415.1,829.8 1419.0,827.5 1422.9,829.8" fill="#6171b3"/><polygon points="1417.4,828.8 1413.5,831.0 1409.6,828.8 1409.6,824.2 1413.5,822.0 1417.4,824.2" fill="#8c94cd"/><polygon points="1418.4,821.2 1414.5,823.5 1410.6,821.2 1410.6,816.8 1414.5,814.5 1418.4,816.8" fill="#6171b3"/><polygon points="1276.9,846.8 1273.0,849.0 1269.1,846.8 1269.1,842.2 1273.0,840.0 1276.9,842.2" fill="#8c94cd"/><polygon points="1271.9,853.2 1268.0,855.5 1264.1,853.2 1264.1,848.8 1268.0,846.5 1271.9,848.8" fill="#6171b3"/><polygon points="1275.4,860.8 1271.5,863.0 1267.6,860.8 1267.6,856.2 1271.5,854.0 1275.4,856.2" fill="#8c94cd"/><polygon points="1271.9,866.2 1268.0,868.5 1264.1,866.2 1264.1,861.8 1268.0,859.5 1271.9,861.8" fill="#6171b3"/><polygon points="1319.9,856.2 1316.0,858.5 1312.1,856.2 1312.1,851.8 1316.0,849.5 1319.9,851.8" fill="#fdd680"/><polygon points="1316.4,863.2 1312.5,865.5 1308.6,863.2 1308.6,858.8 1312.5,856.5 1316.4,858.8" fill="#f7ae48"/><polygon points="1320.9,870.2 1317.0,872.5 1313.1,870.2 1313.1,865.8 1317.0,863.5 1320.9,865.8" fill="#fdd680"/><polygon points="1317.4,876.2 1313.5,878.5 1309.6,876.2 1309.6,871.8 1313.5,869.5 1317.4,871.8" fill="#f7ae48"/><polygon points="1363.4,857.8 1359.5,860.0 1355.6,857.8 1355.6,853.2 1359.5,851.0 1363.4,853.2" fill="#8c94cd"/><polygon points="1360.4,865.2 1356.5,867.5 1352.6,865.2 1352.6,860.8 1356.5,858.5 1360.4,860.8" fill="#6171b3"/><polygon points="1364.4,871.8 1360.5,874.0 1356.6,871.8 1356.6,867.2 1360.5,865.0 1364.4,867.2" fill="#8c94cd"/><polygon points="1360.9,878.2 1357.0,880.5 1353.1,878.2 1353.1,873.8 1357.0,871.5 1360.9,873.8" fill="#6171b3"/><polygon points="1402.9,855.2 1399.0,857.5 1395.1,855.2 1395.1,850.8 1399.0,848.5 1402.9,850.8" fill="#fdd680"/><polygon points="1402.9,862.8 1399.0,865.0 1395.1,862.8 1395.1,858.2 1399.0,856.0 1402.9,858.2" fill="#f7ae48"/><polygon points="1409.4,868.2 1405.5,870.5 1401.6,868.2 1401.6,863.8 1405.5,861.5 1409.4,863.8" fill="#fdd680"/><polygon points="1407.9,875.2 1404.0,877.5 1400.1,875.2 1400.1,870.8 1404.0,868.5 1407.9,870.8" fill="#f7ae48"/><circle cx="1247.0" cy="805.5" r="5.5" fill="#8b9bb3"/><circle cx="1262.8" cy="809.0" r="5.5" fill="#8b9bb3"/><circle cx="1276.5" cy="814.5" r="5.5" fill="#8b9bb3"/><circle cx="1293.8" cy="819.5" r="5.5" fill="#8b9bb3"/><circle cx="1310.0" cy="821.5" r="5.5" fill="#8b9bb3"/><circle cx="1328.8" cy="823.8" r="5.5" fill="#8b9bb3"/><circle cx="1347.0" cy="823.0" r="5.5" fill="#8b9bb3"/><circle cx="1366.2" cy="824.0" r="5.5" fill="#8b9bb3"/><circle cx="1385.5" cy="822.0" r="5.5" fill="#8b9bb3"/><circle cx="1404.3" cy="819.5" r="5.5" fill="#8b9bb3"/><circle cx="1421.2" cy="815.0" r="5.5" fill="#8b9bb3"/><circle cx="1435.5" cy="812.0" r="5.5" fill="#8b9bb3"/><circle cx="1449.3" cy="810.0" r="5.5" fill="#8b9bb3"/><circle cx="1467.8" cy="820.0" r="5.5" fill="#8b9bb3"/><circle cx="1475.0" cy="840.5" r="5.5" fill="#8b9bb3"/><circle cx="1466.8" cy="858.5" r="5.5" fill="#8b9bb3"/><circle cx="1450.0" cy="866.2" r="5.5" fill="#8b9bb3"/><circle cx="1433.5" cy="870.0" r="5.5" fill="#8b9bb3"/><circle cx="1416.5" cy="874.5" r="5.5" fill="#8b9bb3"/><circle cx="1393.0" cy="878.0" r="5.5" fill="#8b9bb3"/><circle cx="1370.2" cy="880.2" r="5.5" fill="#8b9bb3"/><circle cx="1347.0" cy="880.0" r="5.5" fill="#8b9bb3"/><circle cx="1324.5" cy="880.0" r="5.5" fill="#8b9bb3"/><circle cx="1302.5" cy="877.2" r="5.5" fill="#8b9bb3"/><circle cx="1280.0" cy="874.0" r="5.5" fill="#8b9bb3"/><circle cx="1261.5" cy="868.5" r="5.5" fill="#8b9bb3"/><circle cx="1245.5" cy="862.2" r="5.5" fill="#8b9bb3"/><circle cx="1229.8" cy="854.0" r="5.5" fill="#8b9bb3"/><circle cx="1221.8" cy="835.8" r="5.5" fill="#8b9bb3"/><circle cx="1228.5" cy="815.5" r="5.5" fill="#8b9bb3"/><path d="M1272.0 874.2 L1273.8 874.8 L1275.7 875.3 L1277.6 875.9 L1279.5 876.4 L1281.7 876.8 L1284.0 877.1 L1286.3 877.4 L1288.6 877.7 L1290.8 878.1 L1293.1 878.4 L1295.4 878.7 L1297.6 879.0 L1299.9 879.4 L1302.2 879.7 L1304.4 880.0 L1306.6 880.2 L1308.8 880.5 L1311.0 880.8 L1313.3 881.1 L1315.5 881.4 L1317.7 881.6 L1319.9 881.9 L1322.1 882.2 L1324.3 882.5 L1326.6 882.5 L1328.9 882.5 L1331.1 882.5 L1333.4 882.5 L1335.7 882.5 L1337.9 882.5 L1340.2 882.5 L1342.5 882.5 L1344.7 882.5 L1347.0 882.5 L1349.3 882.5 L1351.7 882.5 L1354.0 882.6 L1356.3 882.6 L1358.6 882.6 L1361.0 882.6 L1363.3 882.6 L1365.6 882.7 L1368.0 882.7 L1370.3 882.7 L1372.6 882.5 L1374.9 882.3 L1377.2 882.0 L1379.5 881.8 L1381.8 881.6 L1384.1 881.4 L1386.4 881.1 L1388.7 880.9 L1391.0 880.7 L1393.3 880.5 L1395.7 880.1 L1398.0 879.8 L1400.4 879.4 L1402.8 879.1 L1405.1 878.7 L1407.5 878.4 L1409.9 878.0 L1412.2 877.7 L1414.6 877.3 L1417.0 877.0 L1418.7 876.5 L1420.4 876.0 L1422.1 875.6 L1423.8 875.1" fill="none" stroke="#5fb055" stroke-opacity="0.55" stroke-width="12.8" stroke-linecap="round" stroke-linejoin="round"/><path d="M1272.0 874.2 L1273.8 874.8 L1275.7 875.3 L1277.6 875.9 L1279.5 876.4 L1281.7 876.8 L1284.0 877.1 L1286.3 877.4 L1288.6 877.7 L1290.8 878.1 L1293.1 878.4 L1295.4 878.7 L1297.6 879.0 L1299.9 879.4 L1302.2 879.7 L1304.4 880.0 L1306.6 880.2 L1308.8 880.5 L1311.0 880.8 L1313.3 881.1 L1315.5 881.4 L1317.7 881.6 L1319.9 881.9 L1322.1 882.2 L1324.3 882.5 L1326.6 882.5 L1328.9 882.5 L1331.1 882.5 L1333.4 882.5 L1335.7 882.5 L1337.9 882.5 L1340.2 882.5 L1342.5 882.5 L1344.7 882.5 L1347.0 882.5 L1349.3 882.5 L1351.7 882.5 L1354.0 882.6 L1356.3 882.6 L1358.6 882.6 L1361.0 882.6 L1363.3 882.6 L1365.6 882.7 L1368.0 882.7 L1370.3 882.7 L1372.6 882.5 L1374.9 882.3 L1377.2 882.0 L1379.5 881.8 L1381.8 881.6 L1384.1 881.4 L1386.4 881.1 L1388.7 880.9 L1391.0 880.7 L1393.3 880.5 L1395.7 880.1 L1398.0 879.8 L1400.4 879.4 L1402.8 879.1 L1405.1 878.7 L1407.5 878.4 L1409.9 878.0 L1412.2 877.7 L1414.6 877.3 L1417.0 877.0 L1418.7 876.5 L1420.4 876.0 L1422.1 875.6 L1423.8 875.1" fill="none" stroke="#4f9a4a" stroke-opacity="0.18" stroke-width="1" transform="translate(0 -2.5)"/><path d="M1272.0 874.2 L1273.8 874.8 L1275.7 875.3 L1277.6 875.9 L1279.5 876.4 L1281.7 876.8 L1284.0 877.1 L1286.3 877.4 L1288.6 877.7 L1290.8 878.1 L1293.1 878.4 L1295.4 878.7 L1297.6 879.0 L1299.9 879.4 L1302.2 879.7 L1304.4 880.0 L1306.6 880.2 L1308.8 880.5 L1311.0 880.8 L1313.3 881.1 L1315.5 881.4 L1317.7 881.6 L1319.9 881.9 L1322.1 882.2 L1324.3 882.5 L1326.6 882.5 L1328.9 882.5 L1331.1 882.5 L1333.4 882.5 L1335.7 882.5 L1337.9 882.5 L1340.2 882.5 L1342.5 882.5 L1344.7 882.5 L1347.0 882.5 L1349.3 882.5 L1351.7 882.5 L1354.0 882.6 L1356.3 882.6 L1358.6 882.6 L1361.0 882.6 L1363.3 882.6 L1365.6 882.7 L1368.0 882.7 L1370.3 882.7 L1372.6 882.5 L1374.9 882.3 L1377.2 882.0 L1379.5 881.8 L1381.8 881.6 L1384.1 881.4 L1386.4 881.1 L1388.7 880.9 L1391.0 880.7 L1393.3 880.5 L1395.7 880.1 L1398.0 879.8 L1400.4 879.4 L1402.8 879.1 L1405.1 878.7 L1407.5 878.4 L1409.9 878.0 L1412.2 877.7 L1414.6 877.3 L1417.0 877.0 L1418.7 876.5 L1420.4 876.0 L1422.1 875.6 L1423.8 875.1" fill="none" stroke="#4f9a4a" stroke-opacity="0.18" stroke-width="1" transform="translate(0 2.5)"/></g><rect x="898.9" y="795.9" width="586.10" height="585.00" fill="none" stroke="#000" stroke-width="1.8"/><text transform="matrix(0.34788 0 0 0.31438 871.56 1418.19)" font-size="100" fill="#000" stroke="#000" stroke-width="0.91">−</text><text transform="matrix(0.27183 0 0 0.28610 893.93 1416.20)" font-size="100" fill="#000" stroke="#000" stroke-width="1.08">1</text><text transform="matrix(0.28462 0 0 0.28843 910.88 1416.30)" font-size="100" fill="#000" stroke="#000" stroke-width="1.05">0</text><text transform="matrix(0.34788 0 0 0.31438 1026.67 1418.19)" font-size="100" fill="#000" stroke="#000" stroke-width="0.91">−</text><text transform="matrix(0.26861 0 0 0.28757 1049.15 1416.30)" font-size="100" fill="#000" stroke="#000" stroke-width="1.08">5</text><text transform="matrix(0.28462 0 0 0.28843 1184.03 1416.30)" font-size="100" fill="#000" stroke="#000" stroke-width="1.05">0</text><text transform="matrix(0.26861 0 0 0.28757 1330.89 1416.30)" font-size="100" fill="#000" stroke="#000" stroke-width="1.08">5</text><text transform="matrix(0.27183 0 0 0.28610 1468.72 1416.20)" font-size="100" fill="#000" stroke="#000" stroke-width="1.08">1</text><text transform="matrix(0.28462 0 0 0.28843 1485.67 1416.30)" font-size="100" fill="#000" stroke="#000" stroke-width="1.05">0</text><text transform="matrix(0.34788 0 0 0.31438 801.50 1393.29)" font-size="100" fill="#000" stroke="#000" stroke-width="0.91">−</text><text transform="matrix(0.27183 0 0 0.28610 823.88 1391.30)" font-size="100" fill="#000" stroke="#000" stroke-width="1.08">1</text><text transform="matrix(0.28462 0 0 0.28843 840.83 1391.40)" font-size="100" fill="#000" stroke="#000" stroke-width="1.05">0</text><text transform="matrix(0.29215 0 0 0.31315 857.56 1391.30)" font-size="100" fill="#000" stroke="#000" stroke-width="0.99">.</text><text transform="matrix(0.28462 0 0 0.28843 866.59 1391.40)" font-size="100" fill="#000" stroke="#000" stroke-width="1.05">0</text><text transform="matrix(0.34788 0 0 0.31438 818.68 1320.17)" font-size="100" fill="#000" stroke="#000" stroke-width="0.91">−</text><text transform="matrix(0.27841 0 0 0.28610 840.95 1318.18)" font-size="100" fill="#000" stroke="#000" stroke-width="1.06">7</text><text transform="matrix(0.29215 0 0 0.31315 857.56 1318.18)" font-size="100" fill="#000" stroke="#000" stroke-width="0.99">.</text><text transform="matrix(0.26861 0 0 0.28757 866.93 1318.28)" font-size="100" fill="#000" stroke="#000" stroke-width="1.08">5</text><text transform="matrix(0.34788 0 0 0.31438 818.68 1247.04)" font-size="100" fill="#000" stroke="#000" stroke-width="0.91">−</text><text transform="matrix(0.26861 0 0 0.28757 841.17 1245.15)" font-size="100" fill="#000" stroke="#000" stroke-width="1.08">5</text><text transform="matrix(0.29215 0 0 0.31315 857.56 1245.05)" font-size="100" fill="#000" stroke="#000" stroke-width="0.99">.</text><text transform="matrix(0.28462 0 0 0.28843 866.59 1245.15)" font-size="100" fill="#000" stroke="#000" stroke-width="1.05">0</text><text transform="matrix(0.34788 0 0 0.31438 818.68 1173.92)" font-size="100" fill="#000" stroke="#000" stroke-width="0.91">−</text><text transform="matrix(0.27434 0 0 0.28699 840.76 1171.93)" font-size="100" fill="#000" stroke="#000" stroke-width="1.07">2</text><text transform="matrix(0.29215 0 0 0.31315 857.56 1171.93)" font-size="100" fill="#000" stroke="#000" stroke-width="0.99">.</text><text transform="matrix(0.26861 0 0 0.28757 866.93 1172.03)" font-size="100" fill="#000" stroke="#000" stroke-width="1.08">5</text><text transform="matrix(0.28462 0 0 0.28843 840.83 1098.90)" font-size="100" fill="#000" stroke="#000" stroke-width="1.05">0</text><text transform="matrix(0.29215 0 0 0.31315 857.56 1098.80)" font-size="100" fill="#000" stroke="#000" stroke-width="0.99">.</text><text transform="matrix(0.28462 0 0 0.28843 866.59 1098.90)" font-size="100" fill="#000" stroke="#000" stroke-width="1.05">0</text><text transform="matrix(0.27434 0 0 0.28699 840.76 1025.68)" font-size="100" fill="#000" stroke="#000" stroke-width="1.07">2</text><text transform="matrix(0.29215 0 0 0.31315 857.56 1025.68)" font-size="100" fill="#000" stroke="#000" stroke-width="0.99">.</text><text transform="matrix(0.26861 0 0 0.28757 866.93 1025.78)" font-size="100" fill="#000" stroke="#000" stroke-width="1.08">5</text><text transform="matrix(0.26861 0 0 0.28757 841.17 952.65)" font-size="100" fill="#000" stroke="#000" stroke-width="1.08">5</text><text transform="matrix(0.29215 0 0 0.31315 857.56 952.55)" font-size="100" fill="#000" stroke="#000" stroke-width="0.99">.</text><text transform="matrix(0.28462 0 0 0.28843 866.59 952.65)" font-size="100" fill="#000" stroke="#000" stroke-width="1.05">0</text><text transform="matrix(0.27841 0 0 0.28610 840.95 879.42)" font-size="100" fill="#000" stroke="#000" stroke-width="1.06">7</text><text transform="matrix(0.29215 0 0 0.31315 857.56 879.42)" font-size="100" fill="#000" stroke="#000" stroke-width="0.99">.</text><text transform="matrix(0.26861 0 0 0.28757 866.93 879.53)" font-size="100" fill="#000" stroke="#000" stroke-width="1.08">5</text><text transform="matrix(0.27183 0 0 0.28610 823.88 806.30)" font-size="100" fill="#000" stroke="#000" stroke-width="1.08">1</text><text transform="matrix(0.28462 0 0 0.28843 840.83 806.40)" font-size="100" fill="#000" stroke="#000" stroke-width="1.05">0</text><text transform="matrix(0.29215 0 0 0.31315 857.56 806.30)" font-size="100" fill="#000" stroke="#000" stroke-width="0.99">.</text><text transform="matrix(0.28462 0 0 0.28843 866.59 806.40)" font-size="100" fill="#000" stroke="#000" stroke-width="1.05">0</text><path d="M898.90 1380.90v7.9 M1045.42 1380.90v7.9 M1191.95 1380.90v7.9 M1338.47 1380.90v7.9 M1485.00 1380.90v7.9 M898.90 1380.90h-7.9 M898.90 1307.78h-7.9 M898.90 1234.65h-7.9 M898.90 1161.53h-7.9 M898.90 1088.40h-7.9 M898.90 1015.28h-7.9 M898.90 942.15h-7.9 M898.90 869.02h-7.9 M898.90 795.90h-7.9" stroke="#000" stroke-width="1.8" fill="none"/><text transform="matrix(0.29951 0 0 0.27948 1147.87 1450.60)" font-size="100" fill="#000" stroke="#000" stroke-width="1.04">x</text><text transform="matrix(0.22823 0 0 0.25811 1172.90 1448.82)" font-size="100" fill="#000" stroke="#000" stroke-width="1.23">(</text><text transform="matrix(0.29110 0 0 0.28103 1183.04 1450.60)" font-size="100" fill="#000" stroke="#000" stroke-width="1.05">n</text><text transform="matrix(0.30763 0 0 0.28103 1200.05 1450.60)" font-size="100" fill="#000" stroke="#000" stroke-width="1.02">m</text><text transform="matrix(0.22823 0 0 0.25811 1227.97 1448.82)" font-size="100" fill="#000" stroke="#000" stroke-width="1.23">)</text><g transform="translate(788.00 1088.40) rotate(-90)"><text transform="matrix(0.28995 0 0 0.27699 -43.79 -0.13)" font-size="100" fill="#000" stroke="#000" stroke-width="1.06">y</text><text transform="matrix(0.22823 0 0 0.25811 -19.05 -1.78)" font-size="100" fill="#000" stroke="#000" stroke-width="1.23">(</text><text transform="matrix(0.29110 0 0 0.28103 -8.91 0.00)" font-size="100" fill="#000" stroke="#000" stroke-width="1.05">n</text><text transform="matrix(0.30763 0 0 0.28103 8.10 0.00)" font-size="100" fill="#000" stroke="#000" stroke-width="1.02">m</text><text transform="matrix(0.22823 0 0 0.25811 36.02 -1.78)" font-size="100" fill="#000" stroke="#000" stroke-width="1.23">)</text></g><text transform="matrix(0.39653 0 0 0.33261 901.07 829.40)" font-size="100" fill="#000" stroke="#000" stroke-width="1.65">#</text><text transform="matrix(0.29427 0 0 0.33864 925.65 829.52)" font-size="100" fill="#000" stroke="#000" stroke-width="0.95">C</text><text transform="matrix(0.31534 0 0 0.33590 948.02 829.40)" font-size="100" fill="#000" stroke="#000" stroke-width="0.92">H</text><text transform="matrix(0.31337 0 0 0.33864 971.63 829.52)" font-size="100" fill="#000" stroke="#000" stroke-width="0.92">O</text><text transform="matrix(0.32613 0 0 0.33590 996.72 829.40)" font-size="100" fill="#000" stroke="#000" stroke-width="0.91">L</text><text transform="matrix(0.33778 0 0 0.33864 1024.70 829.52)" font-size="100" fill="#000" stroke="#000" stroke-width="0.89">8</text><text transform="matrix(0.31537 0 0 0.33763 1045.37 829.52)" font-size="100" fill="#000" stroke="#000" stroke-width="0.92">5</text>
</svg>
</body></html>
